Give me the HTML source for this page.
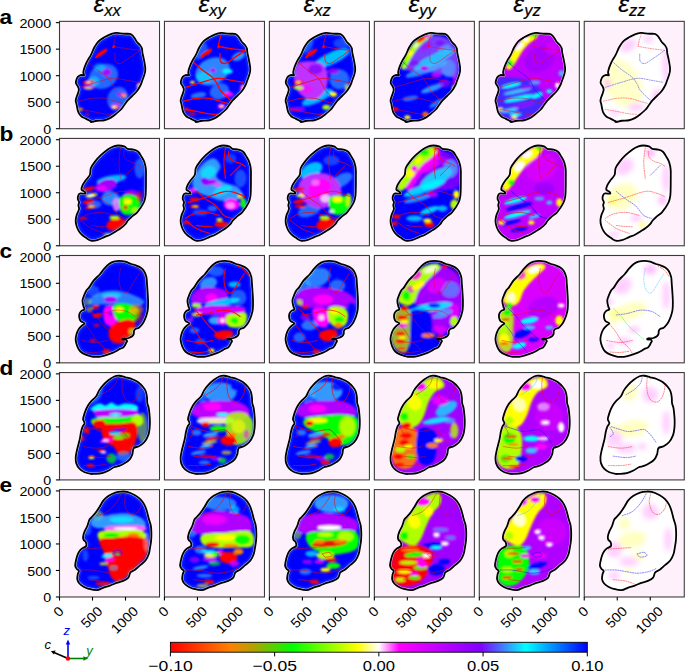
<!DOCTYPE html><html><head><meta charset="utf-8"><style>html,body{margin:0;padding:0;background:#fff;}svg{display:block;} text{font-family:"Liberation Sans",sans-serif;}</style></head><body>
<svg width="685" height="671" viewBox="0 0 685 671">
<defs>
<path id="ola" d="M56.50,11.60 C58.25,11.45 59.63,11.97 61.20,12.10 C62.77,12.23 64.35,12.32 65.90,12.40 C67.45,12.48 69.28,12.28 70.50,12.60 C71.72,12.92 72.37,13.48 73.20,14.30 C74.03,15.12 74.78,16.43 75.50,17.50 C76.22,18.57 76.67,19.68 77.50,20.70 C78.33,21.72 79.68,22.55 80.50,23.60 C81.32,24.65 81.98,25.65 82.40,27.00 C82.82,28.35 82.65,29.75 83.00,31.70 C83.35,33.65 84.05,36.37 84.50,38.70 C84.95,41.03 85.50,43.83 85.70,45.70 C85.90,47.57 85.90,48.43 85.70,49.90 C85.50,51.37 84.98,52.95 84.50,54.50 C84.02,56.05 83.38,57.63 82.80,59.20 C82.22,60.77 81.88,62.15 81.00,63.90 C80.12,65.65 78.85,67.95 77.50,69.70 C76.15,71.45 74.45,72.85 72.90,74.40 C71.35,75.95 69.57,77.45 68.20,79.00 C66.83,80.55 65.87,82.13 64.70,83.70 C63.53,85.27 62.57,86.93 61.20,88.40 C59.83,89.87 58.28,91.10 56.50,92.50 C54.72,93.90 52.45,95.73 50.50,96.80 C48.55,97.87 46.97,98.47 44.80,98.90 C42.63,99.33 39.55,99.12 37.50,99.40 C35.45,99.68 33.70,100.60 32.50,100.60 C31.30,100.60 31.35,99.95 30.30,99.40 C29.25,98.85 27.58,98.00 26.20,97.30 C24.82,96.60 23.22,96.25 22.00,95.20 C20.78,94.15 19.60,92.38 18.90,91.00 C18.20,89.62 18.12,88.28 17.80,86.90 C17.48,85.52 17.27,83.93 17.00,82.70 C16.73,81.47 16.23,80.55 16.20,79.50 C16.17,78.45 16.45,77.57 16.80,76.40 C17.15,75.23 17.87,73.88 18.30,72.50 C18.73,71.12 19.40,69.35 19.40,68.10 C19.40,66.85 18.80,66.05 18.30,65.00 C17.80,63.95 16.65,62.85 16.40,61.80 C16.15,60.75 16.48,59.73 16.80,58.70 C17.12,57.67 17.57,56.43 18.30,55.60 C19.03,54.77 20.15,53.97 21.20,53.70 C22.25,53.43 24.17,54.37 24.60,54.00 C25.03,53.63 23.85,52.45 23.80,51.50 C23.75,50.55 23.90,49.72 24.30,48.30 C24.70,46.88 25.45,44.75 26.20,43.00 C26.95,41.25 27.93,39.37 28.80,37.80 C29.67,36.23 30.38,35.58 31.40,33.60 C32.42,31.62 33.63,28.17 34.90,25.90 C36.17,23.63 37.35,21.65 39.00,20.00 C40.65,18.35 42.85,17.17 44.80,16.00 C46.75,14.83 48.75,13.73 50.70,13.00 C52.65,12.27 54.75,11.75 56.50,11.60 Z"/>
<clipPath id="clipa"><use href="#ola"/></clipPath>
<path id="olb" d="M58.90,7.10 C60.65,7.10 63.15,7.45 64.70,8.00 C66.25,8.55 66.65,9.87 68.20,10.40 C69.75,10.93 72.25,10.72 74.00,11.20 C75.75,11.68 77.33,12.08 78.70,13.30 C80.07,14.52 81.15,16.72 82.20,18.50 C83.25,20.28 84.30,21.92 85.00,24.00 C85.70,26.08 86.15,28.32 86.40,31.00 C86.65,33.68 86.50,36.82 86.50,40.10 C86.50,43.38 86.48,47.75 86.40,50.70 C86.32,53.65 86.32,55.65 86.00,57.80 C85.68,59.95 85.33,61.65 84.50,63.60 C83.67,65.55 82.17,67.75 81.00,69.50 C79.83,71.25 79.05,72.55 77.50,74.10 C75.95,75.65 73.25,77.43 71.70,78.80 C70.15,80.17 69.17,81.13 68.20,82.30 C67.23,83.47 67.07,84.53 65.90,85.80 C64.73,87.07 62.77,88.73 61.20,89.90 C59.63,91.07 58.25,91.73 56.50,92.80 C54.75,93.87 52.65,95.32 50.70,96.30 C48.75,97.28 46.97,97.78 44.80,98.70 C42.63,99.62 39.93,101.20 37.70,101.80 C35.47,102.40 33.32,102.73 31.40,102.30 C29.48,101.87 27.77,100.25 26.20,99.20 C24.63,98.15 23.22,97.22 22.00,96.00 C20.78,94.78 19.77,93.45 18.90,91.90 C18.03,90.35 17.25,88.43 16.80,86.70 C16.35,84.97 16.12,83.25 16.20,81.50 C16.28,79.75 16.85,77.68 17.30,76.20 C17.75,74.72 18.52,73.63 18.90,72.60 C19.28,71.57 19.60,70.95 19.60,70.00 C19.60,69.05 18.90,67.95 18.90,66.90 C18.90,65.85 19.70,64.75 19.60,63.70 C19.50,62.65 18.42,61.78 18.30,60.60 C18.18,59.42 18.47,57.53 18.90,56.60 C19.33,55.67 19.75,55.23 20.90,55.00 C22.05,54.77 25.10,55.48 25.80,55.20 C26.50,54.92 25.73,53.97 25.10,53.30 C24.47,52.63 22.35,52.25 22.00,51.20 C21.65,50.15 22.30,48.57 23.00,47.00 C23.70,45.43 24.98,43.53 26.20,41.80 C27.42,40.07 29.43,38.63 30.30,36.60 C31.17,34.57 30.53,31.83 31.40,29.60 C32.27,27.37 33.85,25.33 35.50,23.20 C37.15,21.07 39.17,18.83 41.30,16.80 C43.43,14.77 46.15,12.47 48.30,11.00 C50.45,9.53 52.43,8.65 54.20,8.00 C55.97,7.35 57.15,7.10 58.90,7.10 Z"/>
<clipPath id="clipb"><use href="#olb"/></clipPath>
<path id="olc" d="M60.00,5.40 C61.95,5.40 63.95,5.68 65.90,6.20 C67.85,6.72 69.95,7.88 71.70,8.50 C73.45,9.12 74.85,9.32 76.40,9.90 C77.95,10.48 79.65,11.07 81.00,12.00 C82.35,12.93 83.52,13.93 84.50,15.50 C85.48,17.07 86.40,19.25 86.90,21.40 C87.40,23.55 87.30,25.88 87.50,28.40 C87.70,30.92 87.92,33.58 88.10,36.50 C88.28,39.42 88.57,42.95 88.60,45.90 C88.63,48.85 88.58,51.85 88.30,54.20 C88.02,56.55 87.53,58.07 86.90,60.00 C86.27,61.93 85.30,64.22 84.50,65.80 C83.70,67.38 82.95,68.43 82.10,69.50 C81.25,70.57 80.43,71.53 79.40,72.20 C78.37,72.87 76.72,72.95 75.90,73.50 C75.08,74.05 74.77,74.68 74.50,75.50 C74.23,76.32 74.60,77.53 74.30,78.40 C74.00,79.27 73.55,80.02 72.70,80.70 C71.85,81.38 70.23,82.13 69.20,82.50 C68.17,82.87 67.33,82.82 66.50,82.90 C65.67,82.98 64.25,82.82 64.20,83.00 C64.15,83.18 65.63,83.58 66.20,84.00 C66.77,84.42 67.55,84.92 67.60,85.50 C67.65,86.08 66.92,86.70 66.50,87.50 C66.08,88.30 65.62,89.50 65.10,90.30 C64.58,91.10 64.22,91.78 63.40,92.30 C62.58,92.82 61.18,92.92 60.20,93.40 C59.22,93.88 58.70,94.53 57.50,95.20 C56.30,95.87 55.08,96.57 53.00,97.40 C50.92,98.23 47.22,99.55 45.00,100.20 C42.78,100.85 41.62,101.12 39.70,101.30 C37.78,101.48 35.75,101.65 33.50,101.30 C31.25,100.95 28.30,100.08 26.20,99.20 C24.10,98.32 22.30,97.40 20.90,96.00 C19.50,94.60 18.58,92.70 17.80,90.80 C17.02,88.90 16.37,86.50 16.20,84.60 C16.03,82.70 16.35,81.15 16.80,79.40 C17.25,77.65 18.03,75.58 18.90,74.10 C19.77,72.62 20.97,71.53 22.00,70.50 C23.03,69.47 25.18,68.68 25.10,67.90 C25.02,67.12 22.37,66.67 21.50,65.80 C20.63,64.93 20.17,63.92 19.90,62.70 C19.63,61.48 19.55,59.72 19.90,58.50 C20.25,57.28 21.13,56.18 22.00,55.40 C22.87,54.62 24.75,54.50 25.10,53.80 C25.45,53.10 24.45,52.68 24.10,51.20 C23.75,49.72 22.83,46.98 23.00,44.90 C23.17,42.82 24.40,40.43 25.10,38.70 C25.80,36.97 26.43,35.63 27.20,34.50 C27.97,33.37 28.52,33.50 29.70,31.90 C30.88,30.30 32.55,27.05 34.30,24.90 C36.05,22.75 38.45,20.95 40.20,19.00 C41.95,17.05 43.25,14.95 44.80,13.20 C46.35,11.45 47.93,9.67 49.50,8.50 C51.07,7.33 52.45,6.72 54.20,6.20 C55.95,5.68 58.05,5.40 60.00,5.40 Z"/>
<clipPath id="clipc"><use href="#olc"/></clipPath>
<path id="old" d="M60.00,3.20 C61.77,3.37 63.75,4.12 65.90,4.70 C68.05,5.28 70.77,5.88 72.90,6.70 C75.03,7.52 76.95,8.35 78.70,9.60 C80.45,10.85 82.13,12.65 83.40,14.20 C84.67,15.75 85.62,17.13 86.30,18.90 C86.98,20.67 87.25,22.85 87.50,24.80 C87.75,26.75 87.52,28.85 87.80,30.60 C88.08,32.35 88.85,33.57 89.20,35.30 C89.55,37.03 89.70,38.88 89.90,41.00 C90.10,43.12 90.35,45.67 90.40,48.00 C90.45,50.33 90.47,52.58 90.20,55.00 C89.93,57.42 89.72,60.05 88.80,62.50 C87.88,64.95 86.27,67.83 84.70,69.70 C83.13,71.57 81.15,72.72 79.40,73.70 C77.65,74.68 75.28,74.28 74.20,75.60 C73.12,76.92 73.57,79.73 72.90,81.60 C72.23,83.47 71.52,85.27 70.20,86.80 C68.88,88.33 66.75,89.70 65.00,90.80 C63.25,91.90 61.45,92.75 59.70,93.40 C57.95,94.05 56.25,93.93 54.50,94.70 C52.75,95.47 51.18,97.02 49.20,98.00 C47.22,98.98 45.00,100.05 42.60,100.60 C40.20,101.15 36.67,101.18 34.80,101.30 C32.93,101.42 33.02,101.57 31.40,101.30 C29.78,101.03 27.02,100.58 25.10,99.70 C23.18,98.82 21.28,97.48 19.90,96.00 C18.52,94.52 17.42,92.70 16.80,90.80 C16.18,88.90 16.12,86.68 16.20,84.60 C16.28,82.52 16.85,80.40 17.30,78.30 C17.75,76.20 18.38,74.08 18.90,72.00 C19.42,69.92 19.97,67.88 20.40,65.80 C20.83,63.72 21.07,61.42 21.50,59.50 C21.93,57.58 22.40,55.77 23.00,54.30 C23.60,52.83 25.00,51.92 25.10,50.70 C25.20,49.48 23.77,48.13 23.60,47.00 C23.43,45.87 23.67,45.47 24.10,43.90 C24.53,42.33 25.42,39.52 26.20,37.60 C26.98,35.68 27.83,33.95 28.80,32.40 C29.77,30.85 30.68,29.77 32.00,28.30 C33.32,26.83 35.43,25.35 36.70,23.60 C37.97,21.85 38.43,19.65 39.60,17.80 C40.77,15.95 42.05,14.27 43.70,12.50 C45.35,10.73 47.57,8.67 49.50,7.20 C51.43,5.73 53.55,4.37 55.30,3.70 C57.05,3.03 58.23,3.03 60.00,3.20 Z"/>
<clipPath id="clipd"><use href="#old"/></clipPath>
<path id="ole" d="M62.40,1.90 C64.37,1.80 65.42,1.68 67.60,2.30 C69.78,2.92 73.30,4.40 75.50,5.60 C77.70,6.80 79.27,7.97 80.80,9.50 C82.33,11.03 83.62,12.83 84.70,14.80 C85.78,16.77 86.53,18.90 87.30,21.30 C88.07,23.70 88.63,26.78 89.30,29.20 C89.97,31.62 90.87,33.38 91.30,35.80 C91.73,38.22 91.85,41.13 91.90,43.70 C91.95,46.27 91.82,48.85 91.60,51.20 C91.38,53.55 90.98,55.60 90.60,57.80 C90.22,60.00 90.07,62.22 89.30,64.40 C88.53,66.58 87.42,69.05 86.00,70.90 C84.58,72.75 82.55,73.97 80.80,75.50 C79.05,77.03 77.15,78.88 75.50,80.10 C73.85,81.32 72.00,81.48 70.90,82.80 C69.80,84.12 70.10,86.58 68.90,88.00 C67.70,89.42 65.67,90.42 63.70,91.30 C61.73,92.18 59.30,92.53 57.10,93.30 C54.90,94.07 52.68,95.13 50.50,95.90 C48.32,96.67 46.18,97.13 44.00,97.90 C41.82,98.67 39.85,100.28 37.40,100.50 C34.95,100.72 31.52,99.77 29.30,99.20 C27.08,98.63 25.67,97.98 24.10,97.10 C22.53,96.22 20.95,95.12 19.90,93.90 C18.85,92.68 18.07,91.37 17.80,89.80 C17.53,88.23 18.03,85.90 18.30,84.50 C18.57,83.10 19.57,82.27 19.40,81.40 C19.23,80.53 17.92,80.17 17.30,79.30 C16.68,78.43 15.88,77.42 15.70,76.20 C15.52,74.98 15.85,73.73 16.20,72.00 C16.55,70.27 17.18,67.53 17.80,65.80 C18.42,64.07 19.03,62.82 19.90,61.60 C20.77,60.38 21.87,59.37 23.00,58.50 C24.13,57.63 26.17,57.45 26.70,56.40 C27.23,55.35 26.63,53.25 26.20,52.20 C25.77,51.15 24.53,50.97 24.10,50.10 C23.67,49.23 23.43,48.38 23.60,47.00 C23.77,45.62 24.42,43.53 25.10,41.80 C25.78,40.07 26.92,38.52 27.70,36.60 C28.48,34.68 29.17,31.70 29.80,30.30 C30.43,28.90 30.57,29.25 31.50,28.20 C32.43,27.15 33.98,25.80 35.40,24.00 C36.82,22.20 38.57,19.60 40.00,17.40 C41.43,15.20 42.47,12.67 44.00,10.80 C45.53,8.93 47.23,7.52 49.20,6.20 C51.17,4.88 53.60,3.62 55.80,2.90 C58.00,2.18 60.43,2.00 62.40,1.90 Z"/>
<clipPath id="clipe"><use href="#ole"/></clipPath>
<filter id="bl0" x="-10%" y="-10%" width="120%" height="120%"><feGaussianBlur stdDeviation="0.6"/></filter>
<filter id="bl1" x="-10%" y="-10%" width="120%" height="120%"><feGaussianBlur stdDeviation="0.9"/></filter>
<filter id="bl2" x="-10%" y="-10%" width="120%" height="120%"><feGaussianBlur stdDeviation="2.5"/></filter>
<linearGradient id="cmap" x1="0" y1="0" x2="1" y2="0"><stop offset="0" stop-color="#ff0000"/><stop offset="0.143" stop-color="#ff8000"/><stop offset="0.198" stop-color="#b4a000"/><stop offset="0.293" stop-color="#00ff00"/><stop offset="0.449" stop-color="#ffff00"/><stop offset="0.5" stop-color="#ffffff"/><stop offset="0.548" stop-color="#ff00ff"/><stop offset="0.745" stop-color="#8000ff"/><stop offset="0.852" stop-color="#00ffff"/><stop offset="1" stop-color="#0000ff"/></linearGradient>
</defs>
<rect width="685" height="671" fill="#fff"/>
<g transform="translate(59.50,21.35)">
<rect x="0.5" y="0.5" width="98" height="106.3" fill="#fff1fc"/>
<g clip-path="url(#clipa)">
<rect x="0" y="0" width="100" height="108" fill="#0000ff"/>
<g filter="url(#bl1)">
<ellipse cx="44.0" cy="55.0" rx="15.0" ry="12.0" transform="rotate(-25 44.0 55.0)" fill="#40c0ff" fill-opacity="0.55"/>
<ellipse cx="47.0" cy="51.0" rx="5.0" ry="4.0" transform="rotate(0 47.0 51.0)" fill="#b000ff" fill-opacity="0.90"/>
<ellipse cx="34.0" cy="60.0" rx="6.0" ry="5.0" transform="rotate(0 34.0 60.0)" fill="#00ffff" fill-opacity="0.45"/>
<ellipse cx="40.0" cy="46.0" rx="6.0" ry="4.0" transform="rotate(0 40.0 46.0)" fill="#00ffff" fill-opacity="0.40"/>
<ellipse cx="29.0" cy="61.0" rx="6.0" ry="2.0" transform="rotate(-5 29.0 61.0)" fill="#ff0000" fill-opacity="1.00"/>
<ellipse cx="29.0" cy="61.0" rx="2.5" ry="1.0" transform="rotate(0 29.0 61.0)" fill="#ffffff" fill-opacity="1.00"/>
<ellipse cx="29.0" cy="66.0" rx="6.0" ry="2.5" transform="rotate(0 29.0 66.0)" fill="#ff00ff" fill-opacity="0.80"/>
<ellipse cx="29.0" cy="67.0" rx="4.0" ry="1.0" transform="rotate(0 29.0 67.0)" fill="#b0ff00" fill-opacity="1.00"/>
<ellipse cx="58.0" cy="77.0" rx="10.0" ry="12.0" transform="rotate(25 58.0 77.0)" fill="#40c0ff" fill-opacity="0.50"/>
<ellipse cx="64.0" cy="74.0" rx="3.0" ry="2.0" transform="rotate(0 64.0 74.0)" fill="#ffff00" fill-opacity="1.00"/>
<ellipse cx="62.0" cy="73.0" rx="5.0" ry="3.0" transform="rotate(0 62.0 73.0)" fill="#ff00ff" fill-opacity="0.50"/>
<ellipse cx="56.0" cy="85.0" rx="5.0" ry="3.0" transform="rotate(0 56.0 85.0)" fill="#ff00ff" fill-opacity="0.80"/>
<ellipse cx="55.0" cy="86.0" rx="3.0" ry="1.5" transform="rotate(0 55.0 86.0)" fill="#ffff00" fill-opacity="1.00"/>
<ellipse cx="58.0" cy="87.0" rx="2.0" ry="1.2" transform="rotate(0 58.0 87.0)" fill="#ff0000" fill-opacity="1.00"/>
<ellipse cx="80.0" cy="66.0" rx="3.0" ry="5.0" transform="rotate(0 80.0 66.0)" fill="#ff00ff" fill-opacity="0.70"/>
<ellipse cx="79.0" cy="64.0" rx="1.5" ry="1.5" transform="rotate(0 79.0 64.0)" fill="#ffff00" fill-opacity="1.00"/>
<ellipse cx="21.0" cy="88.0" rx="3.0" ry="1.5" transform="rotate(0 21.0 88.0)" fill="#ff0000" fill-opacity="1.00"/>
<ellipse cx="21.0" cy="88.0" rx="1.5" ry="1.0" transform="rotate(0 21.0 88.0)" fill="#ffff00" fill-opacity="1.00"/>
<ellipse cx="28.0" cy="93.0" rx="2.0" ry="1.0" transform="rotate(0 28.0 93.0)" fill="#ff0000" fill-opacity="1.00"/>
<path d="M36.00,36.00 C36.00,35.33 38.17,32.42 40.00,31.00 C41.83,29.58 46.17,27.33 47.00,27.50 C47.83,27.67 46.17,30.75 45.00,32.00 C43.83,33.25 41.50,34.33 40.00,35.00 C38.50,35.67 36.00,36.67 36.00,36.00 Z" fill="#ff0000" fill-opacity="1.00"/>
</g>
<use href="#ola" fill="none" stroke="#40c0ff" stroke-opacity="0.22" stroke-width="6" filter="url(#bl1)"/>
<path d="M35.50,36.50 C35.70,36.05 38.25,33.15 39.00,32.50 C39.75,31.85 42.15,30.52 43.00,30.00 C43.85,29.48 47.20,27.20 47.50,27.30 C47.80,27.40 46.65,30.38 46.00,31.00 C45.35,31.62 41.90,32.90 41.00,33.50 C40.10,34.10 37.55,36.70 37.00,37.00 C36.45,37.30 35.30,36.95 35.50,36.50 Z" fill="#ff0000"/>
<path d="M52.50,26.50 C52.50,26.15 53.65,23.60 54.00,23.50 C54.35,23.40 56.00,25.15 56.00,25.50 C56.00,25.85 54.35,26.90 54.00,27.00 C53.65,27.10 52.50,26.85 52.50,26.50 Z" fill="#ff0000"/>
<path d="M57.00,13.00 C56.67,14.00 55.52,17.00 55.00,19.00 C54.48,21.00 54.08,24.00 53.90,25.00" fill="none" stroke="#ff0000" stroke-width="0.60" stroke-opacity="0.80" stroke-linecap="round"/>
<path d="M53.90,25.00 C55.75,25.33 60.58,26.33 65.00,27.00 C69.42,27.67 77.83,28.67 80.40,29.00" fill="none" stroke="#ff0000" stroke-width="0.60" stroke-opacity="0.80" stroke-linecap="round"/>
<path d="M80.40,29.00 C79.50,29.67 76.90,31.67 75.00,33.00 C73.10,34.33 71.33,35.50 69.00,37.00 C66.67,38.50 63.17,41.50 61.00,42.00 C58.83,42.50 56.92,41.67 56.00,40.00 C55.08,38.33 55.58,33.33 55.50,32.00" fill="none" stroke="#ff0000" stroke-width="0.60" stroke-opacity="0.80" stroke-linecap="round"/>
<path d="M28.00,40.00 C29.50,41.33 33.67,45.33 37.00,48.00 C40.33,50.67 45.33,53.50 48.00,56.00 C50.67,58.50 51.67,60.83 53.00,63.00 C54.33,65.17 54.17,66.67 56.00,69.00 C57.83,71.33 62.08,75.17 64.00,77.00 C65.92,78.83 66.92,79.50 67.50,80.00" fill="none" stroke="#ff0000" stroke-width="0.60" stroke-opacity="0.80" stroke-linecap="round"/>
<path d="M21.00,66.00 C23.67,65.17 31.67,62.50 37.00,61.00 C42.33,59.50 47.92,57.33 53.00,57.00 C58.08,56.67 63.17,58.33 67.50,59.00 C71.83,59.67 77.08,60.67 79.00,61.00" fill="none" stroke="#ff0000" stroke-width="0.60" stroke-opacity="0.80" stroke-linecap="round"/>
<path d="M19.00,80.00 C21.17,79.50 27.67,77.50 32.00,77.00 C36.33,76.50 41.00,76.50 45.00,77.00 C49.00,77.50 53.00,79.17 56.00,80.00 C59.00,80.83 61.83,81.67 63.00,82.00" fill="none" stroke="#ff0000" stroke-width="0.60" stroke-opacity="0.80" stroke-linecap="round"/>
<path d="M21.00,88.00 C22.83,88.33 28.00,89.25 32.00,90.00 C36.00,90.75 41.50,92.00 45.00,92.50 C48.50,93.00 51.67,92.92 53.00,93.00" fill="none" stroke="#ff0000" stroke-width="0.60" stroke-opacity="0.80" stroke-linecap="round"/>
</g>
<use href="#ola" fill="none" stroke="#fff" stroke-opacity="0.7" stroke-width="2.8"/>
<use href="#ola" fill="none" stroke="#000" stroke-width="1.8"/>
<ellipse cx="31.6" cy="100.3" rx="1.3" ry="1.2" fill="#000"/>
<rect x="0" y="0" width="100.00" height="107.35" fill="none" stroke="#3a3a3a" stroke-width="1.1"/>
</g>
<g transform="translate(164.45,21.35)">
<rect x="0.5" y="0.5" width="98" height="106.3" fill="#fff1fc"/>
<g clip-path="url(#clipa)">
<rect x="0" y="0" width="100" height="108" fill="#0000ff"/>
<g filter="url(#bl1)">
<ellipse cx="48.0" cy="50.0" rx="18.0" ry="13.0" transform="rotate(-25 48.0 50.0)" fill="#40c0ff" fill-opacity="0.70"/>
<ellipse cx="40.0" cy="56.0" rx="8.0" ry="6.0" transform="rotate(0 40.0 56.0)" fill="#00ffff" fill-opacity="0.50"/>
<ellipse cx="48.5" cy="49.0" rx="3.0" ry="2.5" transform="rotate(0 48.5 49.0)" fill="#b000ff" fill-opacity="1.00"/>
<ellipse cx="63.0" cy="50.0" rx="5.0" ry="2.5" transform="rotate(0 63.0 50.0)" fill="#00ffff" fill-opacity="1.00"/>
<ellipse cx="74.0" cy="35.0" rx="7.0" ry="4.0" transform="rotate(-25 74.0 35.0)" fill="#40c0ff" fill-opacity="0.75"/>
<ellipse cx="55.0" cy="70.0" rx="10.0" ry="8.0" transform="rotate(-20 55.0 70.0)" fill="#40c0ff" fill-opacity="0.55"/>
<ellipse cx="34.0" cy="74.0" rx="8.0" ry="3.0" transform="rotate(-10 34.0 74.0)" fill="#40c0ff" fill-opacity="0.60"/>
<ellipse cx="37.0" cy="30.0" rx="5.0" ry="9.0" transform="rotate(30 37.0 30.0)" fill="#40c0ff" fill-opacity="0.40"/>
<ellipse cx="64.0" cy="73.0" rx="5.0" ry="2.5" transform="rotate(0 64.0 73.0)" fill="#ff00ff" fill-opacity="1.00"/>
<ellipse cx="57.0" cy="85.0" rx="4.0" ry="2.5" transform="rotate(0 57.0 85.0)" fill="#ff00ff" fill-opacity="1.00"/>
<ellipse cx="57.0" cy="85.0" rx="1.8" ry="1.2" transform="rotate(0 57.0 85.0)" fill="#ffff00" fill-opacity="1.00"/>
<ellipse cx="78.0" cy="67.0" rx="2.5" ry="4.0" transform="rotate(0 78.0 67.0)" fill="#ff00ff" fill-opacity="1.00"/>
<ellipse cx="79.0" cy="66.0" rx="1.2" ry="1.5" transform="rotate(0 79.0 66.0)" fill="#ffff00" fill-opacity="1.00"/>
<ellipse cx="28.0" cy="61.0" rx="2.5" ry="1.5" transform="rotate(0 28.0 61.0)" fill="#ffff00" fill-opacity="1.00"/>
<ellipse cx="22.0" cy="88.0" rx="3.0" ry="1.5" transform="rotate(0 22.0 88.0)" fill="#ff0000" fill-opacity="1.00"/>
<ellipse cx="28.0" cy="92.5" rx="4.0" ry="1.0" transform="rotate(0 28.0 92.5)" fill="#ff0000" fill-opacity="1.00"/>
<path d="M36.00,35.00 C36.00,34.40 38.17,32.33 40.00,31.00 C41.83,29.67 46.17,26.83 47.00,27.00 C47.83,27.17 46.17,30.73 45.00,32.00 C43.83,33.27 41.50,34.10 40.00,34.60 C38.50,35.10 36.00,35.60 36.00,35.00 Z" fill="#ff0000" fill-opacity="1.00"/>
</g>
<use href="#ola" fill="none" stroke="#40c0ff" stroke-opacity="0.22" stroke-width="6" filter="url(#bl1)"/>
<path d="M35.50,36.50 C35.70,36.05 38.25,33.15 39.00,32.50 C39.75,31.85 42.15,30.52 43.00,30.00 C43.85,29.48 47.20,27.20 47.50,27.30 C47.80,27.40 46.65,30.38 46.00,31.00 C45.35,31.62 41.90,32.90 41.00,33.50 C40.10,34.10 37.55,36.70 37.00,37.00 C36.45,37.30 35.30,36.95 35.50,36.50 Z" fill="#ff0000"/>
<path d="M52.50,26.50 C52.50,26.15 53.65,23.60 54.00,23.50 C54.35,23.40 56.00,25.15 56.00,25.50 C56.00,25.85 54.35,26.90 54.00,27.00 C53.65,27.10 52.50,26.85 52.50,26.50 Z" fill="#ff0000"/>
<path d="M57.00,13.00 C56.67,14.00 55.52,17.00 55.00,19.00 C54.48,21.00 54.08,24.00 53.90,25.00" fill="none" stroke="#ff0000" stroke-width="1.30" stroke-opacity="1.00" stroke-linecap="round"/>
<path d="M53.90,25.00 C55.75,25.33 60.58,26.33 65.00,27.00 C69.42,27.67 77.83,28.67 80.40,29.00" fill="none" stroke="#ff0000" stroke-width="1.30" stroke-opacity="1.00" stroke-linecap="round"/>
<path d="M80.40,29.00 C79.50,29.67 76.90,31.67 75.00,33.00 C73.10,34.33 71.33,35.50 69.00,37.00 C66.67,38.50 63.17,41.50 61.00,42.00 C58.83,42.50 56.92,41.67 56.00,40.00 C55.08,38.33 55.58,33.33 55.50,32.00" fill="none" stroke="#ff0000" stroke-width="1.30" stroke-opacity="1.00" stroke-linecap="round"/>
<path d="M28.00,40.00 C29.50,41.33 33.67,45.33 37.00,48.00 C40.33,50.67 45.33,53.50 48.00,56.00 C50.67,58.50 51.67,60.83 53.00,63.00 C54.33,65.17 54.17,66.67 56.00,69.00 C57.83,71.33 62.08,75.17 64.00,77.00 C65.92,78.83 66.92,79.50 67.50,80.00" fill="none" stroke="#ff0000" stroke-width="1.30" stroke-opacity="1.00" stroke-linecap="round"/>
<path d="M21.00,66.00 C23.67,65.17 31.67,62.50 37.00,61.00 C42.33,59.50 47.92,57.33 53.00,57.00 C58.08,56.67 63.17,58.33 67.50,59.00 C71.83,59.67 77.08,60.67 79.00,61.00" fill="none" stroke="#ff0000" stroke-width="1.30" stroke-opacity="1.00" stroke-linecap="round"/>
<path d="M19.00,80.00 C21.17,79.50 27.67,77.50 32.00,77.00 C36.33,76.50 41.00,76.50 45.00,77.00 C49.00,77.50 53.00,79.17 56.00,80.00 C59.00,80.83 61.83,81.67 63.00,82.00" fill="none" stroke="#ff0000" stroke-width="1.30" stroke-opacity="1.00" stroke-linecap="round"/>
<path d="M21.00,88.00 C22.83,88.33 28.00,89.25 32.00,90.00 C36.00,90.75 41.50,92.00 45.00,92.50 C48.50,93.00 51.67,92.92 53.00,93.00" fill="none" stroke="#ff0000" stroke-width="1.30" stroke-opacity="1.00" stroke-linecap="round"/>
</g>
<use href="#ola" fill="none" stroke="#fff" stroke-opacity="0.7" stroke-width="2.8"/>
<use href="#ola" fill="none" stroke="#000" stroke-width="1.8"/>
<ellipse cx="31.6" cy="100.3" rx="1.3" ry="1.2" fill="#000"/>
<rect x="0" y="0" width="100.00" height="107.35" fill="none" stroke="#3a3a3a" stroke-width="1.1"/>
</g>
<g transform="translate(269.40,21.35)">
<rect x="0.5" y="0.5" width="98" height="106.3" fill="#fff1fc"/>
<g clip-path="url(#clipa)">
<rect x="0" y="0" width="100" height="108" fill="#0000ff"/>
<g filter="url(#bl1)">
<ellipse cx="62.0" cy="37.0" rx="20.0" ry="6.0" transform="rotate(-25 62.0 37.0)" fill="#00ffff" fill-opacity="0.75"/>
<ellipse cx="70.0" cy="58.0" rx="10.0" ry="10.0" transform="rotate(0 70.0 58.0)" fill="#40c0ff" fill-opacity="0.55"/>
<ellipse cx="48.0" cy="76.0" rx="17.0" ry="5.0" transform="rotate(-25 48.0 76.0)" fill="#00ffff" fill-opacity="0.70"/>
<ellipse cx="38.0" cy="24.0" rx="5.0" ry="8.0" transform="rotate(30 38.0 24.0)" fill="#40c0ff" fill-opacity="0.40"/>
<ellipse cx="72.0" cy="22.0" rx="8.0" ry="5.0" transform="rotate(0 72.0 22.0)" fill="#40c0ff" fill-opacity="0.35"/>
<path d="M27.00,44.00 C29.17,40.67 33.83,40.33 38.00,40.00 C42.17,39.67 48.67,40.00 52.00,42.00 C55.33,44.00 57.17,48.00 58.00,52.00 C58.83,56.00 58.33,62.00 57.00,66.00 C55.67,70.00 52.83,74.00 50.00,76.00 C47.17,78.00 43.33,78.67 40.00,78.00 C36.67,77.33 32.50,75.00 30.00,72.00 C27.50,69.00 25.50,64.67 25.00,60.00 C24.50,55.33 24.83,47.33 27.00,44.00 Z" fill="#c030ff" fill-opacity="1.00"/>
<ellipse cx="46.0" cy="48.0" rx="7.0" ry="5.0" transform="rotate(0 46.0 48.0)" fill="#8000ff" fill-opacity="0.80"/>
<ellipse cx="64.0" cy="50.0" rx="6.0" ry="3.0" transform="rotate(0 64.0 50.0)" fill="#b000ff" fill-opacity="0.80"/>
<ellipse cx="36.0" cy="68.0" rx="7.0" ry="4.0" transform="rotate(0 36.0 68.0)" fill="#ff00ff" fill-opacity="0.60"/>
<ellipse cx="64.0" cy="73.0" rx="3.5" ry="2.5" transform="rotate(0 64.0 73.0)" fill="#ffff00" fill-opacity="1.00"/>
<ellipse cx="57.0" cy="86.0" rx="4.0" ry="2.5" transform="rotate(0 57.0 86.0)" fill="#b0ff00" fill-opacity="1.00"/>
<ellipse cx="29.0" cy="61.0" rx="5.0" ry="2.0" transform="rotate(-5 29.0 61.0)" fill="#ff0000" fill-opacity="1.00"/>
<ellipse cx="29.0" cy="61.0" rx="2.5" ry="1.0" transform="rotate(0 29.0 61.0)" fill="#ffff00" fill-opacity="1.00"/>
<ellipse cx="29.0" cy="66.5" rx="5.0" ry="1.8" transform="rotate(0 29.0 66.5)" fill="#b0ff00" fill-opacity="1.00"/>
<ellipse cx="28.0" cy="88.0" rx="8.0" ry="2.5" transform="rotate(0 28.0 88.0)" fill="#b000ff" fill-opacity="0.80"/>
<ellipse cx="78.0" cy="67.0" rx="2.5" ry="4.0" transform="rotate(0 78.0 67.0)" fill="#ffff00" fill-opacity="0.70"/>
<ellipse cx="22.0" cy="88.0" rx="2.0" ry="1.2" transform="rotate(0 22.0 88.0)" fill="#ff0000" fill-opacity="1.00"/>
<path d="M36.00,36.00 C36.00,35.33 38.17,32.42 40.00,31.00 C41.83,29.58 46.17,27.33 47.00,27.50 C47.83,27.67 46.17,30.75 45.00,32.00 C43.83,33.25 41.50,34.33 40.00,35.00 C38.50,35.67 36.00,36.67 36.00,36.00 Z" fill="#ff0000" fill-opacity="1.00"/>
</g>
<use href="#ola" fill="none" stroke="#40c0ff" stroke-opacity="0.22" stroke-width="6" filter="url(#bl1)"/>
<path d="M35.50,36.50 C35.70,36.05 38.25,33.15 39.00,32.50 C39.75,31.85 42.15,30.52 43.00,30.00 C43.85,29.48 47.20,27.20 47.50,27.30 C47.80,27.40 46.65,30.38 46.00,31.00 C45.35,31.62 41.90,32.90 41.00,33.50 C40.10,34.10 37.55,36.70 37.00,37.00 C36.45,37.30 35.30,36.95 35.50,36.50 Z" fill="#ff0000"/>
<path d="M52.50,26.50 C52.50,26.15 53.65,23.60 54.00,23.50 C54.35,23.40 56.00,25.15 56.00,25.50 C56.00,25.85 54.35,26.90 54.00,27.00 C53.65,27.10 52.50,26.85 52.50,26.50 Z" fill="#ff0000"/>
<path d="M57.00,13.00 C56.67,14.00 55.52,17.00 55.00,19.00 C54.48,21.00 54.08,24.00 53.90,25.00" fill="none" stroke="#ff0000" stroke-width="0.80" stroke-opacity="0.90" stroke-linecap="round"/>
<path d="M53.90,25.00 C55.75,25.33 60.58,26.33 65.00,27.00 C69.42,27.67 77.83,28.67 80.40,29.00" fill="none" stroke="#ff0000" stroke-width="0.80" stroke-opacity="0.90" stroke-linecap="round"/>
<path d="M80.40,29.00 C79.50,29.67 76.90,31.67 75.00,33.00 C73.10,34.33 71.33,35.50 69.00,37.00 C66.67,38.50 63.17,41.50 61.00,42.00 C58.83,42.50 56.92,41.67 56.00,40.00 C55.08,38.33 55.58,33.33 55.50,32.00" fill="none" stroke="#ff0000" stroke-width="0.80" stroke-opacity="0.90" stroke-linecap="round"/>
<path d="M28.00,40.00 C29.50,41.33 33.67,45.33 37.00,48.00 C40.33,50.67 45.33,53.50 48.00,56.00 C50.67,58.50 51.67,60.83 53.00,63.00 C54.33,65.17 54.17,66.67 56.00,69.00 C57.83,71.33 62.08,75.17 64.00,77.00 C65.92,78.83 66.92,79.50 67.50,80.00" fill="none" stroke="#ff0000" stroke-width="0.80" stroke-opacity="0.90" stroke-linecap="round"/>
<path d="M21.00,66.00 C23.67,65.17 31.67,62.50 37.00,61.00 C42.33,59.50 47.92,57.33 53.00,57.00 C58.08,56.67 63.17,58.33 67.50,59.00 C71.83,59.67 77.08,60.67 79.00,61.00" fill="none" stroke="#ff0000" stroke-width="0.80" stroke-opacity="0.90" stroke-linecap="round"/>
<path d="M19.00,80.00 C21.17,79.50 27.67,77.50 32.00,77.00 C36.33,76.50 41.00,76.50 45.00,77.00 C49.00,77.50 53.00,79.17 56.00,80.00 C59.00,80.83 61.83,81.67 63.00,82.00" fill="none" stroke="#ff0000" stroke-width="0.80" stroke-opacity="0.90" stroke-linecap="round"/>
<path d="M21.00,88.00 C22.83,88.33 28.00,89.25 32.00,90.00 C36.00,90.75 41.50,92.00 45.00,92.50 C48.50,93.00 51.67,92.92 53.00,93.00" fill="none" stroke="#ff0000" stroke-width="0.80" stroke-opacity="0.90" stroke-linecap="round"/>
</g>
<use href="#ola" fill="none" stroke="#fff" stroke-opacity="0.7" stroke-width="2.8"/>
<use href="#ola" fill="none" stroke="#000" stroke-width="1.8"/>
<ellipse cx="31.6" cy="100.3" rx="1.3" ry="1.2" fill="#000"/>
<rect x="0" y="0" width="100.00" height="107.35" fill="none" stroke="#3a3a3a" stroke-width="1.1"/>
</g>
<g transform="translate(374.35,21.35)">
<rect x="0.5" y="0.5" width="98" height="106.3" fill="#fff1fc"/>
<g clip-path="url(#clipa)">
<rect x="0" y="0" width="100" height="108" fill="#0000ff"/>
<g filter="url(#bl1)">
<path d="M34.00,38.00 C36.33,34.00 40.33,27.83 44.00,24.00 C47.67,20.17 51.67,16.33 56.00,15.00 C60.33,13.67 66.00,14.33 70.00,16.00 C74.00,17.67 77.67,21.00 80.00,25.00 C82.33,29.00 83.67,34.83 84.00,40.00 C84.33,45.17 85.33,54.00 82.00,56.00 C78.67,58.00 70.33,53.00 64.00,52.00 C57.67,51.00 49.67,50.67 44.00,50.00 C38.33,49.33 31.67,50.00 30.00,48.00 C28.33,46.00 31.67,42.00 34.00,38.00 Z" fill="#8040ff" fill-opacity="0.95"/>
<ellipse cx="60.0" cy="38.0" rx="22.0" ry="5.0" transform="rotate(-25 60.0 38.0)" fill="#00ffff" fill-opacity="0.65"/>
<ellipse cx="70.0" cy="28.0" rx="7.0" ry="4.0" transform="rotate(-30 70.0 28.0)" fill="#40c0ff" fill-opacity="0.60"/>
<ellipse cx="52.0" cy="25.0" rx="6.0" ry="3.0" transform="rotate(-30 52.0 25.0)" fill="#b000ff" fill-opacity="0.70"/>
<ellipse cx="74.0" cy="47.0" rx="7.0" ry="9.0" transform="rotate(0 74.0 47.0)" fill="#40c0ff" fill-opacity="0.55"/>
<ellipse cx="66.0" cy="22.0" rx="5.0" ry="3.0" transform="rotate(0 66.0 22.0)" fill="#8000ff" fill-opacity="0.70"/>
<ellipse cx="52.0" cy="48.0" rx="22.0" ry="4.0" transform="rotate(-20 52.0 48.0)" fill="#40c0ff" fill-opacity="0.70"/>
<ellipse cx="50.0" cy="47.0" rx="4.0" ry="2.5" transform="rotate(0 50.0 47.0)" fill="#b000ff" fill-opacity="1.00"/>
<ellipse cx="62.0" cy="54.0" rx="5.0" ry="2.5" transform="rotate(0 62.0 54.0)" fill="#b000ff" fill-opacity="1.00"/>
<ellipse cx="40.0" cy="42.0" rx="5.0" ry="3.0" transform="rotate(0 40.0 42.0)" fill="#8000ff" fill-opacity="0.70"/>
<path d="M27.00,46.00 C27.00,44.17 28.67,40.00 30.00,37.00 C31.33,34.00 33.00,31.00 35.00,28.00 C37.00,25.00 39.17,21.42 42.00,19.00 C44.83,16.58 49.17,14.67 52.00,13.50 C54.83,12.33 58.33,11.58 59.00,12.00 C59.67,12.42 57.83,14.33 56.00,16.00 C54.17,17.67 50.50,19.67 48.00,22.00 C45.50,24.33 43.17,27.00 41.00,30.00 C38.83,33.00 36.83,37.00 35.00,40.00 C33.17,43.00 31.33,47.00 30.00,48.00 C28.67,49.00 27.00,47.83 27.00,46.00 Z" fill="#b0ff00" fill-opacity="1.00"/>
<ellipse cx="47.0" cy="18.0" rx="5.0" ry="2.0" transform="rotate(-35 47.0 18.0)" fill="#ff0000" fill-opacity="1.00"/>
<ellipse cx="53.0" cy="15.0" rx="3.0" ry="1.5" transform="rotate(0 53.0 15.0)" fill="#ff00ff" fill-opacity="1.00"/>
<ellipse cx="36.0" cy="32.0" rx="3.0" ry="2.5" transform="rotate(-50 36.0 32.0)" fill="#ffff00" fill-opacity="1.00"/>
<ellipse cx="30.0" cy="42.0" rx="2.5" ry="2.0" transform="rotate(0 30.0 42.0)" fill="#00ff00" fill-opacity="1.00"/>
<ellipse cx="42.0" cy="24.0" rx="3.0" ry="1.5" transform="rotate(-40 42.0 24.0)" fill="#ffffff" fill-opacity="0.80"/>
<ellipse cx="58.0" cy="67.0" rx="12.0" ry="3.0" transform="rotate(-20 58.0 67.0)" fill="#40c0ff" fill-opacity="0.75"/>
<ellipse cx="36.0" cy="77.0" rx="8.0" ry="2.5" transform="rotate(-10 36.0 77.0)" fill="#40c0ff" fill-opacity="0.60"/>
<ellipse cx="62.0" cy="82.0" rx="8.0" ry="2.5" transform="rotate(-30 62.0 82.0)" fill="#40c0ff" fill-opacity="0.60"/>
<ellipse cx="70.0" cy="62.0" rx="6.0" ry="4.0" transform="rotate(0 70.0 62.0)" fill="#b000ff" fill-opacity="0.60"/>
<ellipse cx="21.0" cy="88.0" rx="3.0" ry="2.0" transform="rotate(0 21.0 88.0)" fill="#ff0000" fill-opacity="1.00"/>
<ellipse cx="51.0" cy="93.0" rx="3.0" ry="2.5" transform="rotate(0 51.0 93.0)" fill="#ff8000" fill-opacity="1.00"/>
<ellipse cx="33.0" cy="96.0" rx="3.0" ry="2.0" transform="rotate(0 33.0 96.0)" fill="#ffff00" fill-opacity="1.00"/>
<ellipse cx="81.0" cy="62.0" rx="2.5" ry="8.0" transform="rotate(0 81.0 62.0)" fill="#ff00ff" fill-opacity="0.70"/>
<ellipse cx="79.0" cy="67.0" rx="1.5" ry="2.5" transform="rotate(0 79.0 67.0)" fill="#ffff00" fill-opacity="1.00"/>
</g>
<path d="M57.00,13.00 C56.67,14.00 55.52,17.00 55.00,19.00 C54.48,21.00 54.08,24.00 53.90,25.00" fill="none" stroke="#ff0000" stroke-width="0.60" stroke-opacity="0.80" stroke-linecap="round"/>
<path d="M53.90,25.00 C55.75,25.33 60.58,26.33 65.00,27.00 C69.42,27.67 77.83,28.67 80.40,29.00" fill="none" stroke="#ff0000" stroke-width="0.60" stroke-opacity="0.80" stroke-linecap="round"/>
<path d="M80.40,29.00 C79.50,29.67 76.90,31.67 75.00,33.00 C73.10,34.33 71.33,35.50 69.00,37.00 C66.67,38.50 63.17,41.50 61.00,42.00 C58.83,42.50 56.92,41.67 56.00,40.00 C55.08,38.33 55.58,33.33 55.50,32.00" fill="none" stroke="#ff0000" stroke-width="0.60" stroke-opacity="0.80" stroke-linecap="round"/>
<path d="M28.00,40.00 C29.50,41.33 33.67,45.33 37.00,48.00 C40.33,50.67 45.33,53.50 48.00,56.00 C50.67,58.50 51.67,60.83 53.00,63.00 C54.33,65.17 54.17,66.67 56.00,69.00 C57.83,71.33 62.08,75.17 64.00,77.00 C65.92,78.83 66.92,79.50 67.50,80.00" fill="none" stroke="#ff0000" stroke-width="0.60" stroke-opacity="0.80" stroke-linecap="round"/>
<path d="M21.00,66.00 C23.67,65.17 31.67,62.50 37.00,61.00 C42.33,59.50 47.92,57.33 53.00,57.00 C58.08,56.67 63.17,58.33 67.50,59.00 C71.83,59.67 77.08,60.67 79.00,61.00" fill="none" stroke="#ff0000" stroke-width="0.60" stroke-opacity="0.80" stroke-linecap="round"/>
<path d="M19.00,80.00 C21.17,79.50 27.67,77.50 32.00,77.00 C36.33,76.50 41.00,76.50 45.00,77.00 C49.00,77.50 53.00,79.17 56.00,80.00 C59.00,80.83 61.83,81.67 63.00,82.00" fill="none" stroke="#ff0000" stroke-width="0.60" stroke-opacity="0.80" stroke-linecap="round"/>
<path d="M21.00,88.00 C22.83,88.33 28.00,89.25 32.00,90.00 C36.00,90.75 41.50,92.00 45.00,92.50 C48.50,93.00 51.67,92.92 53.00,93.00" fill="none" stroke="#ff0000" stroke-width="0.60" stroke-opacity="0.80" stroke-linecap="round"/>
</g>
<use href="#ola" fill="none" stroke="#fff" stroke-opacity="0.7" stroke-width="2.8"/>
<use href="#ola" fill="none" stroke="#000" stroke-width="1.8"/>
<ellipse cx="31.6" cy="100.3" rx="1.3" ry="1.2" fill="#000"/>
<rect x="0" y="0" width="100.00" height="107.35" fill="none" stroke="#3a3a3a" stroke-width="1.1"/>
</g>
<g transform="translate(479.30,21.35)">
<rect x="0.5" y="0.5" width="98" height="106.3" fill="#fff1fc"/>
<g clip-path="url(#clipa)">
<rect x="0" y="0" width="100" height="108" fill="#c000ff"/>
<g filter="url(#bl1)">
<ellipse cx="60.0" cy="38.0" rx="16.0" ry="12.0" transform="rotate(-30 60.0 38.0)" fill="#9000ff" fill-opacity="0.50"/>
<ellipse cx="72.0" cy="28.0" rx="6.0" ry="6.0" transform="rotate(0 72.0 28.0)" fill="#e000ff" fill-opacity="0.60"/>
<path d="M18.00,58.00 C20.17,54.83 25.50,56.00 30.00,56.00 C34.50,56.00 40.33,56.67 45.00,58.00 C49.67,59.33 54.83,61.00 58.00,64.00 C61.17,67.00 63.67,72.00 64.00,76.00 C64.33,80.00 62.67,84.67 60.00,88.00 C57.33,91.33 52.67,94.33 48.00,96.00 C43.33,97.67 36.67,98.67 32.00,98.00 C27.33,97.33 22.50,95.83 20.00,92.00 C17.50,88.17 17.33,80.67 17.00,75.00 C16.67,69.33 15.83,61.17 18.00,58.00 Z" fill="#3030ff" fill-opacity="0.85"/>
<path d="M27.00,46.00 C26.83,44.17 28.67,40.00 30.00,37.00 C31.33,34.00 33.00,31.00 35.00,28.00 C37.00,25.00 39.17,21.42 42.00,19.00 C44.83,16.58 49.17,14.67 52.00,13.50 C54.83,12.33 58.17,11.42 59.00,12.00 C59.83,12.58 58.50,15.33 57.00,17.00 C55.50,18.67 52.33,19.83 50.00,22.00 C47.67,24.17 45.17,27.00 43.00,30.00 C40.83,33.00 39.00,37.00 37.00,40.00 C35.00,43.00 32.67,47.00 31.00,48.00 C29.33,49.00 27.17,47.83 27.00,46.00 Z" fill="#ffff00" fill-opacity="1.00"/>
<ellipse cx="40.0" cy="25.0" rx="5.0" ry="2.5" transform="rotate(-45 40.0 25.0)" fill="#ffffff" fill-opacity="1.00"/>
<ellipse cx="31.0" cy="42.0" rx="3.0" ry="3.0" transform="rotate(0 31.0 42.0)" fill="#00ff00" fill-opacity="1.00"/>
<ellipse cx="55.0" cy="14.0" rx="3.5" ry="2.0" transform="rotate(0 55.0 14.0)" fill="#00ff00" fill-opacity="1.00"/>
<ellipse cx="46.0" cy="18.0" rx="3.0" ry="2.0" transform="rotate(0 46.0 18.0)" fill="#ffffff" fill-opacity="1.00"/>
<ellipse cx="32.0" cy="64.0" rx="10.0" ry="2.0" transform="rotate(-12 32.0 64.0)" fill="#00ffff" fill-opacity="1.00"/>
<ellipse cx="38.0" cy="70.0" rx="14.0" ry="2.0" transform="rotate(-12 38.0 70.0)" fill="#40c0ff" fill-opacity="1.00"/>
<ellipse cx="40.0" cy="77.0" rx="15.0" ry="2.2" transform="rotate(-12 40.0 77.0)" fill="#00ffff" fill-opacity="1.00"/>
<ellipse cx="44.0" cy="84.0" rx="12.0" ry="1.8" transform="rotate(-12 44.0 84.0)" fill="#b000ff" fill-opacity="0.70"/>
<ellipse cx="30.0" cy="89.0" rx="9.0" ry="2.0" transform="rotate(-10 30.0 89.0)" fill="#40c0ff" fill-opacity="1.00"/>
<ellipse cx="48.0" cy="66.0" rx="7.0" ry="1.8" transform="rotate(-12 48.0 66.0)" fill="#b000ff" fill-opacity="0.70"/>
<ellipse cx="58.0" cy="74.0" rx="6.0" ry="2.0" transform="rotate(-20 58.0 74.0)" fill="#00ffff" fill-opacity="1.00"/>
<ellipse cx="56.0" cy="61.0" rx="5.0" ry="2.0" transform="rotate(0 56.0 61.0)" fill="#40c0ff" fill-opacity="0.80"/>
<ellipse cx="36.0" cy="93.0" rx="6.0" ry="1.5" transform="rotate(0 36.0 93.0)" fill="#00ffff" fill-opacity="1.00"/>
<ellipse cx="21.0" cy="88.0" rx="2.5" ry="1.5" transform="rotate(0 21.0 88.0)" fill="#ffff00" fill-opacity="1.00"/>
<ellipse cx="35.0" cy="96.0" rx="3.0" ry="1.5" transform="rotate(0 35.0 96.0)" fill="#ffff00" fill-opacity="1.00"/>
<ellipse cx="82.0" cy="52.0" rx="2.5" ry="3.0" transform="rotate(0 82.0 52.0)" fill="#40c0ff" fill-opacity="1.00"/>
<ellipse cx="70.0" cy="70.0" rx="3.0" ry="2.0" transform="rotate(0 70.0 70.0)" fill="#00ffff" fill-opacity="1.00"/>
<ellipse cx="78.0" cy="64.0" rx="2.0" ry="3.0" transform="rotate(0 78.0 64.0)" fill="#ffffff" fill-opacity="1.00"/>
</g>
<path d="M57.00,13.00 C56.67,14.00 55.52,17.00 55.00,19.00 C54.48,21.00 54.08,24.00 53.90,25.00" fill="none" stroke="#ff0000" stroke-width="0.60" stroke-opacity="0.80" stroke-linecap="round"/>
<path d="M53.90,25.00 C55.75,25.33 60.58,26.33 65.00,27.00 C69.42,27.67 77.83,28.67 80.40,29.00" fill="none" stroke="#ff0000" stroke-width="0.60" stroke-opacity="0.80" stroke-linecap="round"/>
<path d="M80.40,29.00 C79.50,29.67 76.90,31.67 75.00,33.00 C73.10,34.33 71.33,35.50 69.00,37.00 C66.67,38.50 63.17,41.50 61.00,42.00 C58.83,42.50 56.92,41.67 56.00,40.00 C55.08,38.33 55.58,33.33 55.50,32.00" fill="none" stroke="#ff0000" stroke-width="0.60" stroke-opacity="0.80" stroke-linecap="round"/>
<path d="M28.00,40.00 C29.50,41.33 33.67,45.33 37.00,48.00 C40.33,50.67 45.33,53.50 48.00,56.00 C50.67,58.50 51.67,60.83 53.00,63.00 C54.33,65.17 54.17,66.67 56.00,69.00 C57.83,71.33 62.08,75.17 64.00,77.00 C65.92,78.83 66.92,79.50 67.50,80.00" fill="none" stroke="#0000ff" stroke-width="0.60" stroke-opacity="0.80" stroke-linecap="round"/>
<path d="M21.00,66.00 C23.67,65.17 31.67,62.50 37.00,61.00 C42.33,59.50 47.92,57.33 53.00,57.00 C58.08,56.67 63.17,58.33 67.50,59.00 C71.83,59.67 77.08,60.67 79.00,61.00" fill="none" stroke="#ff0000" stroke-width="0.60" stroke-opacity="0.80" stroke-linecap="round"/>
<path d="M19.00,80.00 C21.17,79.50 27.67,77.50 32.00,77.00 C36.33,76.50 41.00,76.50 45.00,77.00 C49.00,77.50 53.00,79.17 56.00,80.00 C59.00,80.83 61.83,81.67 63.00,82.00" fill="none" stroke="#ff0000" stroke-width="0.60" stroke-opacity="0.80" stroke-linecap="round"/>
<path d="M21.00,88.00 C22.83,88.33 28.00,89.25 32.00,90.00 C36.00,90.75 41.50,92.00 45.00,92.50 C48.50,93.00 51.67,92.92 53.00,93.00" fill="none" stroke="#ff0000" stroke-width="0.60" stroke-opacity="0.80" stroke-linecap="round"/>
</g>
<use href="#ola" fill="none" stroke="#fff" stroke-opacity="0.7" stroke-width="2.8"/>
<use href="#ola" fill="none" stroke="#000" stroke-width="1.8"/>
<ellipse cx="31.6" cy="100.3" rx="1.3" ry="1.2" fill="#000"/>
<rect x="0" y="0" width="100.00" height="107.35" fill="none" stroke="#3a3a3a" stroke-width="1.1"/>
</g>
<g transform="translate(584.25,21.35)">
<rect x="0.5" y="0.5" width="98" height="106.3" fill="#fff1fc"/>
<g clip-path="url(#clipa)">
<rect x="0" y="0" width="100" height="108" fill="#ffffff"/>
<g filter="url(#bl2)">
<ellipse cx="38.0" cy="62.0" rx="18.0" ry="26.0" transform="rotate(-30 38.0 62.0)" fill="#ffffc0" fill-opacity="0.85"/>
<ellipse cx="44.0" cy="24.0" rx="9.0" ry="6.0" transform="rotate(-30 44.0 24.0)" fill="#ffd0ff" fill-opacity="1.00"/>
<ellipse cx="82.0" cy="44.0" rx="4.0" ry="18.0" transform="rotate(0 82.0 44.0)" fill="#ffd0ff" fill-opacity="1.00"/>
<ellipse cx="74.0" cy="74.0" rx="6.0" ry="6.0" transform="rotate(0 74.0 74.0)" fill="#ff90ff" fill-opacity="0.50"/>
<ellipse cx="52.0" cy="86.0" rx="8.0" ry="4.0" transform="rotate(0 52.0 86.0)" fill="#ffd0ff" fill-opacity="1.00"/>
<ellipse cx="23.0" cy="62.0" rx="3.0" ry="5.0" transform="rotate(0 23.0 62.0)" fill="#ff90ff" fill-opacity="0.60"/>
<ellipse cx="30.0" cy="92.0" rx="5.0" ry="3.0" transform="rotate(0 30.0 92.0)" fill="#ffd0ff" fill-opacity="1.00"/>
<ellipse cx="64.0" cy="18.0" rx="5.0" ry="4.0" transform="rotate(0 64.0 18.0)" fill="#ffd0ff" fill-opacity="1.00"/>
</g>
<path d="M57.00,13.00 C56.67,14.00 55.52,17.00 55.00,19.00 C54.48,21.00 54.08,24.00 53.90,25.00" fill="none" stroke="#ff0000" stroke-width="0.60" stroke-opacity="0.70" stroke-linecap="round" stroke-dasharray="1.2 1.3"/>
<path d="M53.90,25.00 C55.75,25.33 60.58,26.33 65.00,27.00 C69.42,27.67 77.83,28.67 80.40,29.00" fill="none" stroke="#ff0000" stroke-width="0.60" stroke-opacity="0.70" stroke-linecap="round" stroke-dasharray="1.2 1.3"/>
<path d="M80.40,29.00 C79.50,29.67 76.90,31.67 75.00,33.00 C73.10,34.33 71.33,35.50 69.00,37.00 C66.67,38.50 63.17,41.50 61.00,42.00 C58.83,42.50 56.92,41.67 56.00,40.00 C55.08,38.33 55.58,33.33 55.50,32.00" fill="none" stroke="#0000ff" stroke-width="0.60" stroke-opacity="0.70" stroke-linecap="round" stroke-dasharray="1.2 1.3"/>
<path d="M28.00,40.00 C29.50,41.33 33.67,45.33 37.00,48.00 C40.33,50.67 45.33,53.50 48.00,56.00 C50.67,58.50 51.67,60.83 53.00,63.00 C54.33,65.17 54.17,66.67 56.00,69.00 C57.83,71.33 62.08,75.17 64.00,77.00 C65.92,78.83 66.92,79.50 67.50,80.00" fill="none" stroke="#0000ff" stroke-width="0.60" stroke-opacity="0.70" stroke-linecap="round" stroke-dasharray="1.2 1.3"/>
<path d="M21.00,66.00 C23.67,65.17 31.67,62.50 37.00,61.00 C42.33,59.50 47.92,57.33 53.00,57.00 C58.08,56.67 63.17,58.33 67.50,59.00 C71.83,59.67 77.08,60.67 79.00,61.00" fill="none" stroke="#0000ff" stroke-width="0.60" stroke-opacity="0.70" stroke-linecap="round" stroke-dasharray="1.2 1.3"/>
<path d="M19.00,80.00 C21.17,79.50 27.67,77.50 32.00,77.00 C36.33,76.50 41.00,76.50 45.00,77.00 C49.00,77.50 53.00,79.17 56.00,80.00 C59.00,80.83 61.83,81.67 63.00,82.00" fill="none" stroke="#ff0000" stroke-width="0.60" stroke-opacity="0.70" stroke-linecap="round" stroke-dasharray="1.2 1.3"/>
<path d="M21.00,88.00 C22.83,88.33 28.00,89.25 32.00,90.00 C36.00,90.75 41.50,92.00 45.00,92.50 C48.50,93.00 51.67,92.92 53.00,93.00" fill="none" stroke="#ff0000" stroke-width="0.60" stroke-opacity="0.70" stroke-linecap="round" stroke-dasharray="1.2 1.3"/>
</g>
<use href="#ola" fill="none" stroke="#fff" stroke-opacity="0.7" stroke-width="2.8"/>
<use href="#ola" fill="none" stroke="#000" stroke-width="1.8"/>
<ellipse cx="31.6" cy="100.3" rx="1.3" ry="1.2" fill="#000"/>
<rect x="0" y="0" width="100.00" height="107.35" fill="none" stroke="#3a3a3a" stroke-width="1.1"/>
</g>
<g transform="translate(59.50,138.42)">
<rect x="0.5" y="0.5" width="98" height="106.3" fill="#fff1fc"/>
<g clip-path="url(#clipb)">
<rect x="0" y="0" width="100" height="108" fill="#0000ff"/>
<g filter="url(#bl1)">
<ellipse cx="52.0" cy="41.0" rx="15.0" ry="4.0" transform="rotate(-10 52.0 41.0)" fill="#00ffff" fill-opacity="0.70"/>
<ellipse cx="51.0" cy="60.0" rx="9.0" ry="7.0" transform="rotate(0 51.0 60.0)" fill="#40c0ff" fill-opacity="0.70"/>
<ellipse cx="35.0" cy="66.0" rx="7.0" ry="4.0" transform="rotate(0 35.0 66.0)" fill="#40c0ff" fill-opacity="0.50"/>
<ellipse cx="80.0" cy="30.0" rx="5.0" ry="10.0" transform="rotate(0 80.0 30.0)" fill="#40c0ff" fill-opacity="0.45"/>
<ellipse cx="47.0" cy="47.0" rx="11.0" ry="6.0" transform="rotate(-15 47.0 47.0)" fill="#a000ff" fill-opacity="1.00"/>
<ellipse cx="42.0" cy="50.0" rx="6.0" ry="3.0" transform="rotate(0 42.0 50.0)" fill="#ff00ff" fill-opacity="0.80"/>
<ellipse cx="72.0" cy="60.0" rx="9.0" ry="9.0" transform="rotate(0 72.0 60.0)" fill="#ff00ff" fill-opacity="0.55"/>
<ellipse cx="57.0" cy="66.0" rx="4.0" ry="7.0" transform="rotate(0 57.0 66.0)" fill="#ff90ff" fill-opacity="0.80"/>
<path d="M60.00,60.00 C61.33,57.00 66.67,56.00 70.00,56.00 C73.33,56.00 78.33,57.67 80.00,60.00 C81.67,62.33 81.33,67.33 80.00,70.00 C78.67,72.67 75.00,75.33 72.00,76.00 C69.00,76.67 64.00,76.67 62.00,74.00 C60.00,71.33 58.67,63.00 60.00,60.00 Z" fill="#00ff00" fill-opacity="1.00"/>
<ellipse cx="68.0" cy="63.0" rx="4.0" ry="3.0" transform="rotate(0 68.0 63.0)" fill="#ffff00" fill-opacity="1.00"/>
<ellipse cx="66.0" cy="69.0" rx="2.5" ry="2.0" transform="rotate(0 66.0 69.0)" fill="#ff0000" fill-opacity="1.00"/>
<ellipse cx="76.0" cy="72.0" rx="4.0" ry="3.0" transform="rotate(0 76.0 72.0)" fill="#b0ff00" fill-opacity="1.00"/>
<path d="M48.00,84.00 C49.33,82.33 53.00,80.33 56.00,80.00 C59.00,79.67 64.67,80.33 66.00,82.00 C67.33,83.67 66.00,88.33 64.00,90.00 C62.00,91.67 56.67,92.00 54.00,92.00 C51.33,92.00 49.00,91.33 48.00,90.00 C47.00,88.67 46.67,85.67 48.00,84.00 Z" fill="#ff0000" fill-opacity="1.00"/>
<ellipse cx="55.0" cy="79.0" rx="5.0" ry="2.0" transform="rotate(0 55.0 79.0)" fill="#b0ff00" fill-opacity="1.00"/>
<ellipse cx="29.0" cy="50.5" rx="7.0" ry="2.0" transform="rotate(-12 29.0 50.5)" fill="#ff0000" fill-opacity="1.00"/>
<ellipse cx="32.0" cy="57.0" rx="6.0" ry="2.0" transform="rotate(-10 32.0 57.0)" fill="#ffff00" fill-opacity="1.00"/>
<ellipse cx="31.0" cy="57.0" rx="3.0" ry="1.0" transform="rotate(0 31.0 57.0)" fill="#ffffff" fill-opacity="1.00"/>
<ellipse cx="29.0" cy="63.5" rx="6.0" ry="2.0" transform="rotate(-10 29.0 63.5)" fill="#ff0000" fill-opacity="1.00"/>
<ellipse cx="31.0" cy="69.0" rx="6.0" ry="1.6" transform="rotate(-10 31.0 69.0)" fill="#ff0000" fill-opacity="1.00"/>
<ellipse cx="32.0" cy="68.0" rx="3.0" ry="1.0" transform="rotate(0 32.0 68.0)" fill="#ffff00" fill-opacity="1.00"/>
<ellipse cx="80.0" cy="58.0" rx="3.0" ry="6.0" transform="rotate(0 80.0 58.0)" fill="#ff0000" fill-opacity="0.50"/>
<ellipse cx="48.0" cy="96.0" rx="4.0" ry="1.5" transform="rotate(0 48.0 96.0)" fill="#ffff00" fill-opacity="0.70"/>
<ellipse cx="24.0" cy="80.0" rx="4.0" ry="1.2" transform="rotate(0 24.0 80.0)" fill="#ff0000" fill-opacity="1.00"/>
</g>
<use href="#olb" fill="none" stroke="#40c0ff" stroke-opacity="0.22" stroke-width="6" filter="url(#bl1)"/>
<path d="M61.00,9.60 C60.75,12.00 59.50,18.93 59.50,24.00 C59.50,29.07 60.75,37.33 61.00,40.00" fill="none" stroke="#ff0000" stroke-width="0.60" stroke-opacity="0.75" stroke-linecap="round"/>
<path d="M64.00,13.00 C64.17,14.00 64.00,17.33 65.00,19.00 C66.00,20.67 68.17,22.00 70.00,23.00 C71.83,24.00 74.17,24.17 76.00,25.00 C77.83,25.83 80.17,27.50 81.00,28.00" fill="none" stroke="#ff0000" stroke-width="0.60" stroke-opacity="0.75" stroke-linecap="round"/>
<path d="M76.00,27.00 C75.00,28.00 71.67,31.33 70.00,33.00 C68.33,34.67 66.67,36.33 66.00,37.00" fill="none" stroke="#ff0000" stroke-width="0.60" stroke-opacity="0.75" stroke-linecap="round"/>
<path d="M32.00,53.00 C33.67,54.33 38.75,58.58 42.00,61.00 C45.25,63.42 48.58,64.83 51.50,67.50 C54.42,70.17 56.83,74.92 59.50,77.00 C62.17,79.08 66.17,79.50 67.50,80.00" fill="none" stroke="#ff0000" stroke-width="0.60" stroke-opacity="0.75" stroke-linecap="round"/>
<path d="M24.00,64.00 C26.67,63.25 33.83,61.33 40.00,59.50 C46.17,57.67 55.67,53.80 61.00,53.00 C66.33,52.20 68.83,53.87 72.00,54.70 C75.17,55.53 78.67,57.45 80.00,58.00" fill="none" stroke="#ff0000" stroke-width="0.60" stroke-opacity="0.75" stroke-linecap="round"/>
<path d="M21.00,80.00 C22.33,79.27 25.50,76.60 29.00,75.60 C32.50,74.60 37.72,73.77 42.00,74.00 C46.28,74.23 52.58,76.50 54.70,77.00" fill="none" stroke="#ff0000" stroke-width="0.60" stroke-opacity="0.75" stroke-linecap="round"/>
<path d="M21.00,82.00 C22.83,83.33 28.00,87.83 32.00,90.00 C36.00,92.17 42.83,94.17 45.00,95.00" fill="none" stroke="#ff0000" stroke-width="0.60" stroke-opacity="0.75" stroke-linecap="round"/>
<path d="M32.00,87.00 C33.33,87.17 37.33,87.77 40.00,88.00 C42.67,88.23 46.67,88.33 48.00,88.40" fill="none" stroke="#ff0000" stroke-width="0.60" stroke-opacity="0.75" stroke-linecap="round"/>
</g>
<use href="#olb" fill="none" stroke="#fff" stroke-opacity="0.7" stroke-width="2.8"/>
<use href="#olb" fill="none" stroke="#000" stroke-width="1.8"/>
<rect x="0" y="0" width="100.00" height="107.35" fill="none" stroke="#3a3a3a" stroke-width="1.1"/>
</g>
<g transform="translate(164.45,138.42)">
<rect x="0.5" y="0.5" width="98" height="106.3" fill="#fff1fc"/>
<g clip-path="url(#clipb)">
<rect x="0" y="0" width="100" height="108" fill="#0000ff"/>
<g filter="url(#bl1)">
<path d="M28.00,46.00 C27.67,42.67 30.00,37.67 32.00,34.00 C34.00,30.33 37.00,26.33 40.00,24.00 C43.00,21.67 47.33,19.33 50.00,20.00 C52.67,20.67 55.67,25.00 56.00,28.00 C56.33,31.00 51.33,35.33 52.00,38.00 C52.67,40.67 56.67,42.33 60.00,44.00 C63.33,45.67 69.00,46.00 72.00,48.00 C75.00,50.00 78.33,53.67 78.00,56.00 C77.67,58.33 73.67,61.00 70.00,62.00 C66.33,63.00 60.33,62.67 56.00,62.00 C51.67,61.33 47.67,59.33 44.00,58.00 C40.33,56.67 36.67,56.00 34.00,54.00 C31.33,52.00 28.33,49.33 28.00,46.00 Z" fill="#40c0ff" fill-opacity="0.80"/>
<ellipse cx="44.0" cy="34.0" rx="8.0" ry="6.0" transform="rotate(-30 44.0 34.0)" fill="#00ffff" fill-opacity="0.60"/>
<ellipse cx="58.0" cy="52.0" rx="10.0" ry="4.0" transform="rotate(-20 58.0 52.0)" fill="#00ffff" fill-opacity="0.65"/>
<ellipse cx="76.0" cy="40.0" rx="6.0" ry="9.0" transform="rotate(0 76.0 40.0)" fill="#40c0ff" fill-opacity="0.40"/>
<ellipse cx="66.0" cy="20.0" rx="6.0" ry="5.0" transform="rotate(0 66.0 20.0)" fill="#40c0ff" fill-opacity="0.30"/>
<ellipse cx="45.0" cy="44.0" rx="8.0" ry="3.0" transform="rotate(-10 45.0 44.0)" fill="#b000ff" fill-opacity="1.00"/>
<ellipse cx="53.0" cy="46.0" rx="4.0" ry="2.5" transform="rotate(0 53.0 46.0)" fill="#d060ff" fill-opacity="1.00"/>
<ellipse cx="40.0" cy="42.0" rx="4.0" ry="3.0" transform="rotate(0 40.0 42.0)" fill="#8000ff" fill-opacity="1.00"/>
<ellipse cx="67.0" cy="66.0" rx="8.0" ry="6.0" transform="rotate(0 67.0 66.0)" fill="#ff00ff" fill-opacity="1.00"/>
<ellipse cx="66.0" cy="67.0" rx="4.0" ry="3.0" transform="rotate(0 66.0 67.0)" fill="#ff90ff" fill-opacity="1.00"/>
<ellipse cx="79.0" cy="65.0" rx="3.0" ry="5.0" transform="rotate(0 79.0 65.0)" fill="#00ff00" fill-opacity="1.00"/>
<ellipse cx="76.0" cy="58.0" rx="3.0" ry="3.0" transform="rotate(0 76.0 58.0)" fill="#ffff00" fill-opacity="0.70"/>
<ellipse cx="57.0" cy="86.0" rx="7.0" ry="3.0" transform="rotate(0 57.0 86.0)" fill="#ff0000" fill-opacity="1.00"/>
<ellipse cx="55.0" cy="81.0" rx="3.0" ry="1.5" transform="rotate(0 55.0 81.0)" fill="#ffff00" fill-opacity="1.00"/>
<ellipse cx="28.0" cy="52.0" rx="4.0" ry="2.5" transform="rotate(0 28.0 52.0)" fill="#ff00ff" fill-opacity="1.00"/>
<ellipse cx="30.0" cy="61.0" rx="5.0" ry="2.0" transform="rotate(0 30.0 61.0)" fill="#ff0000" fill-opacity="1.00"/>
<ellipse cx="30.0" cy="68.0" rx="5.0" ry="1.6" transform="rotate(0 30.0 68.0)" fill="#ff0000" fill-opacity="1.00"/>
<ellipse cx="31.0" cy="68.0" rx="2.5" ry="1.0" transform="rotate(0 31.0 68.0)" fill="#ffff00" fill-opacity="1.00"/>
<ellipse cx="22.0" cy="84.0" rx="4.0" ry="1.5" transform="rotate(0 22.0 84.0)" fill="#ff0000" fill-opacity="1.00"/>
<ellipse cx="36.0" cy="74.0" rx="8.0" ry="3.0" transform="rotate(0 36.0 74.0)" fill="#40c0ff" fill-opacity="0.40"/>
<ellipse cx="48.0" cy="70.0" rx="5.0" ry="3.0" transform="rotate(0 48.0 70.0)" fill="#40c0ff" fill-opacity="0.50"/>
</g>
<use href="#olb" fill="none" stroke="#40c0ff" stroke-opacity="0.22" stroke-width="6" filter="url(#bl1)"/>
<path d="M61.00,9.60 C60.75,12.00 59.50,18.93 59.50,24.00 C59.50,29.07 60.75,37.33 61.00,40.00" fill="none" stroke="#ff0000" stroke-width="1.20" stroke-opacity="0.95" stroke-linecap="round"/>
<path d="M64.00,13.00 C64.17,14.00 64.00,17.33 65.00,19.00 C66.00,20.67 68.17,22.00 70.00,23.00 C71.83,24.00 74.17,24.17 76.00,25.00 C77.83,25.83 80.17,27.50 81.00,28.00" fill="none" stroke="#ff0000" stroke-width="1.20" stroke-opacity="0.95" stroke-linecap="round"/>
<path d="M76.00,27.00 C75.00,28.00 71.67,31.33 70.00,33.00 C68.33,34.67 66.67,36.33 66.00,37.00" fill="none" stroke="#ff0000" stroke-width="1.20" stroke-opacity="0.95" stroke-linecap="round"/>
<path d="M32.00,53.00 C33.67,54.33 38.75,58.58 42.00,61.00 C45.25,63.42 48.58,64.83 51.50,67.50 C54.42,70.17 56.83,74.92 59.50,77.00 C62.17,79.08 66.17,79.50 67.50,80.00" fill="none" stroke="#ff0000" stroke-width="1.20" stroke-opacity="0.95" stroke-linecap="round"/>
<path d="M24.00,64.00 C26.67,63.25 33.83,61.33 40.00,59.50 C46.17,57.67 55.67,53.80 61.00,53.00 C66.33,52.20 68.83,53.87 72.00,54.70 C75.17,55.53 78.67,57.45 80.00,58.00" fill="none" stroke="#ff0000" stroke-width="1.20" stroke-opacity="0.95" stroke-linecap="round"/>
<path d="M21.00,80.00 C22.33,79.27 25.50,76.60 29.00,75.60 C32.50,74.60 37.72,73.77 42.00,74.00 C46.28,74.23 52.58,76.50 54.70,77.00" fill="none" stroke="#ff0000" stroke-width="1.20" stroke-opacity="0.95" stroke-linecap="round"/>
<path d="M21.00,82.00 C22.83,83.33 28.00,87.83 32.00,90.00 C36.00,92.17 42.83,94.17 45.00,95.00" fill="none" stroke="#ff0000" stroke-width="1.20" stroke-opacity="0.95" stroke-linecap="round"/>
<path d="M32.00,87.00 C33.33,87.17 37.33,87.77 40.00,88.00 C42.67,88.23 46.67,88.33 48.00,88.40" fill="none" stroke="#ff0000" stroke-width="1.20" stroke-opacity="0.95" stroke-linecap="round"/>
</g>
<use href="#olb" fill="none" stroke="#fff" stroke-opacity="0.7" stroke-width="2.8"/>
<use href="#olb" fill="none" stroke="#000" stroke-width="1.8"/>
<rect x="0" y="0" width="100.00" height="107.35" fill="none" stroke="#3a3a3a" stroke-width="1.1"/>
</g>
<g transform="translate(269.40,138.42)">
<rect x="0.5" y="0.5" width="98" height="106.3" fill="#fff1fc"/>
<g clip-path="url(#clipb)">
<rect x="0" y="0" width="100" height="108" fill="#0000ff"/>
<g filter="url(#bl1)">
<ellipse cx="42.0" cy="32.0" rx="12.0" ry="7.0" transform="rotate(-30 42.0 32.0)" fill="#00ffff" fill-opacity="0.75"/>
<ellipse cx="72.0" cy="42.0" rx="12.0" ry="6.0" transform="rotate(-30 72.0 42.0)" fill="#40c0ff" fill-opacity="0.60"/>
<ellipse cx="40.0" cy="72.0" rx="12.0" ry="6.0" transform="rotate(-20 40.0 72.0)" fill="#40c0ff" fill-opacity="0.55"/>
<ellipse cx="62.0" cy="22.0" rx="8.0" ry="5.0" transform="rotate(0 62.0 22.0)" fill="#40c0ff" fill-opacity="0.35"/>
<path d="M30.00,44.00 C31.67,40.67 35.67,37.50 40.00,36.00 C44.33,34.50 51.33,34.00 56.00,35.00 C60.67,36.00 65.33,38.50 68.00,42.00 C70.67,45.50 72.67,52.00 72.00,56.00 C71.33,60.00 67.67,63.67 64.00,66.00 C60.33,68.33 54.33,70.00 50.00,70.00 C45.67,70.00 41.33,68.33 38.00,66.00 C34.67,63.67 31.33,59.67 30.00,56.00 C28.67,52.33 28.33,47.33 30.00,44.00 Z" fill="#c030ff" fill-opacity="1.00"/>
<ellipse cx="50.0" cy="50.0" rx="12.0" ry="9.0" transform="rotate(-30 50.0 50.0)" fill="#ff00ff" fill-opacity="1.00"/>
<ellipse cx="56.0" cy="60.0" rx="5.0" ry="4.0" transform="rotate(0 56.0 60.0)" fill="#ffffff" fill-opacity="0.70"/>
<ellipse cx="46.0" cy="44.0" rx="4.0" ry="3.0" transform="rotate(0 46.0 44.0)" fill="#ff90ff" fill-opacity="0.70"/>
<path d="M60.00,60.00 C61.33,57.17 66.67,57.00 70.00,57.00 C73.33,57.00 78.33,57.83 80.00,60.00 C81.67,62.17 81.33,67.33 80.00,70.00 C78.67,72.67 75.00,75.33 72.00,76.00 C69.00,76.67 64.00,76.67 62.00,74.00 C60.00,71.33 58.67,62.83 60.00,60.00 Z" fill="#00ff00" fill-opacity="1.00"/>
<ellipse cx="68.0" cy="61.0" rx="5.0" ry="3.0" transform="rotate(0 68.0 61.0)" fill="#ffff00" fill-opacity="1.00"/>
<ellipse cx="79.0" cy="62.0" rx="3.0" ry="7.0" transform="rotate(0 79.0 62.0)" fill="#b0ff00" fill-opacity="1.00"/>
<ellipse cx="62.0" cy="73.0" rx="3.0" ry="2.0" transform="rotate(0 62.0 73.0)" fill="#ffffff" fill-opacity="0.80"/>
<path d="M48.00,84.00 C49.33,82.33 53.00,80.33 56.00,80.00 C59.00,79.67 64.67,80.33 66.00,82.00 C67.33,83.67 66.00,88.33 64.00,90.00 C62.00,91.67 56.67,92.00 54.00,92.00 C51.33,92.00 49.00,91.33 48.00,90.00 C47.00,88.67 46.67,85.67 48.00,84.00 Z" fill="#ff0000" fill-opacity="1.00"/>
<ellipse cx="55.0" cy="79.0" rx="5.0" ry="2.0" transform="rotate(0 55.0 79.0)" fill="#b0ff00" fill-opacity="1.00"/>
<ellipse cx="29.0" cy="51.0" rx="6.0" ry="2.0" transform="rotate(-10 29.0 51.0)" fill="#ff0000" fill-opacity="1.00"/>
<ellipse cx="30.0" cy="63.0" rx="6.0" ry="2.0" transform="rotate(-8 30.0 63.0)" fill="#ff0000" fill-opacity="1.00"/>
<ellipse cx="31.0" cy="68.0" rx="6.0" ry="1.6" transform="rotate(0 31.0 68.0)" fill="#ff0000" fill-opacity="1.00"/>
<ellipse cx="31.0" cy="57.0" rx="4.0" ry="1.5" transform="rotate(0 31.0 57.0)" fill="#ffff00" fill-opacity="1.00"/>
</g>
<use href="#olb" fill="none" stroke="#40c0ff" stroke-opacity="0.22" stroke-width="6" filter="url(#bl1)"/>
<path d="M61.00,9.60 C60.75,12.00 59.50,18.93 59.50,24.00 C59.50,29.07 60.75,37.33 61.00,40.00" fill="none" stroke="#ff0000" stroke-width="0.80" stroke-opacity="0.85" stroke-linecap="round"/>
<path d="M64.00,13.00 C64.17,14.00 64.00,17.33 65.00,19.00 C66.00,20.67 68.17,22.00 70.00,23.00 C71.83,24.00 74.17,24.17 76.00,25.00 C77.83,25.83 80.17,27.50 81.00,28.00" fill="none" stroke="#ff0000" stroke-width="0.80" stroke-opacity="0.85" stroke-linecap="round"/>
<path d="M76.00,27.00 C75.00,28.00 71.67,31.33 70.00,33.00 C68.33,34.67 66.67,36.33 66.00,37.00" fill="none" stroke="#ff0000" stroke-width="0.80" stroke-opacity="0.85" stroke-linecap="round"/>
<path d="M32.00,53.00 C33.67,54.33 38.75,58.58 42.00,61.00 C45.25,63.42 48.58,64.83 51.50,67.50 C54.42,70.17 56.83,74.92 59.50,77.00 C62.17,79.08 66.17,79.50 67.50,80.00" fill="none" stroke="#ff0000" stroke-width="0.80" stroke-opacity="0.85" stroke-linecap="round"/>
<path d="M24.00,64.00 C26.67,63.25 33.83,61.33 40.00,59.50 C46.17,57.67 55.67,53.80 61.00,53.00 C66.33,52.20 68.83,53.87 72.00,54.70 C75.17,55.53 78.67,57.45 80.00,58.00" fill="none" stroke="#ff0000" stroke-width="0.80" stroke-opacity="0.85" stroke-linecap="round"/>
<path d="M21.00,80.00 C22.33,79.27 25.50,76.60 29.00,75.60 C32.50,74.60 37.72,73.77 42.00,74.00 C46.28,74.23 52.58,76.50 54.70,77.00" fill="none" stroke="#ff0000" stroke-width="0.80" stroke-opacity="0.85" stroke-linecap="round"/>
<path d="M21.00,82.00 C22.83,83.33 28.00,87.83 32.00,90.00 C36.00,92.17 42.83,94.17 45.00,95.00" fill="none" stroke="#ff0000" stroke-width="0.80" stroke-opacity="0.85" stroke-linecap="round"/>
<path d="M32.00,87.00 C33.33,87.17 37.33,87.77 40.00,88.00 C42.67,88.23 46.67,88.33 48.00,88.40" fill="none" stroke="#ff0000" stroke-width="0.80" stroke-opacity="0.85" stroke-linecap="round"/>
</g>
<use href="#olb" fill="none" stroke="#fff" stroke-opacity="0.7" stroke-width="2.8"/>
<use href="#olb" fill="none" stroke="#000" stroke-width="1.8"/>
<rect x="0" y="0" width="100.00" height="107.35" fill="none" stroke="#3a3a3a" stroke-width="1.1"/>
</g>
<g transform="translate(374.35,138.42)">
<rect x="0.5" y="0.5" width="98" height="106.3" fill="#fff1fc"/>
<g clip-path="url(#clipb)">
<rect x="0" y="0" width="100" height="108" fill="#0000ff"/>
<g filter="url(#bl1)">
<path d="M32.00,40.00 C32.67,35.67 36.67,30.33 40.00,26.00 C43.33,21.67 47.67,16.33 52.00,14.00 C56.33,11.67 61.33,11.33 66.00,12.00 C70.67,12.67 76.67,14.67 80.00,18.00 C83.33,21.33 85.33,27.00 86.00,32.00 C86.67,37.00 87.00,44.67 84.00,48.00 C81.00,51.33 74.00,51.33 68.00,52.00 C62.00,52.67 53.33,52.00 48.00,52.00 C42.67,52.00 38.67,54.00 36.00,52.00 C33.33,50.00 31.33,44.33 32.00,40.00 Z" fill="#8000ff" fill-opacity="0.90"/>
<ellipse cx="55.0" cy="25.0" rx="14.0" ry="7.0" transform="rotate(-30 55.0 25.0)" fill="#ff00ff" fill-opacity="0.80"/>
<ellipse cx="62.0" cy="40.0" rx="18.0" ry="7.0" transform="rotate(-30 62.0 40.0)" fill="#00ffff" fill-opacity="0.80"/>
<ellipse cx="76.0" cy="30.0" rx="7.0" ry="9.0" transform="rotate(0 76.0 30.0)" fill="#40c0ff" fill-opacity="0.70"/>
<ellipse cx="68.0" cy="22.0" rx="5.0" ry="4.0" transform="rotate(0 68.0 22.0)" fill="#b000ff" fill-opacity="1.00"/>
<ellipse cx="50.0" cy="50.0" rx="22.0" ry="4.0" transform="rotate(-20 50.0 50.0)" fill="#00ffff" fill-opacity="0.80"/>
<ellipse cx="44.0" cy="60.0" rx="15.0" ry="3.0" transform="rotate(-15 44.0 60.0)" fill="#40c0ff" fill-opacity="0.70"/>
<ellipse cx="58.0" cy="56.0" rx="6.0" ry="3.0" transform="rotate(0 58.0 56.0)" fill="#b000ff" fill-opacity="1.00"/>
<path d="M30.00,46.00 C30.00,43.33 32.33,39.17 34.00,36.00 C35.67,32.83 37.67,29.83 40.00,27.00 C42.33,24.17 45.00,21.50 48.00,19.00 C51.00,16.50 55.00,13.17 58.00,12.00 C61.00,10.83 65.33,10.67 66.00,12.00 C66.67,13.33 64.00,17.50 62.00,20.00 C60.00,22.50 56.67,24.33 54.00,27.00 C51.33,29.67 48.33,32.83 46.00,36.00 C43.67,39.17 42.00,43.33 40.00,46.00 C38.00,48.67 35.67,52.00 34.00,52.00 C32.33,52.00 30.00,48.67 30.00,46.00 Z" fill="#ff00ff" fill-opacity="0.90"/>
<path d="M23.00,50.00 C22.67,48.00 24.67,43.33 26.00,40.00 C27.33,36.67 29.00,33.17 31.00,30.00 C33.00,26.83 35.17,24.00 38.00,21.00 C40.83,18.00 44.67,14.17 48.00,12.00 C51.33,9.83 55.33,8.33 58.00,8.00 C60.67,7.67 64.00,8.33 64.00,10.00 C64.00,11.67 60.67,15.33 58.00,18.00 C55.33,20.67 51.00,23.00 48.00,26.00 C45.00,29.00 42.50,32.67 40.00,36.00 C37.50,39.33 35.00,43.33 33.00,46.00 C31.00,48.67 29.67,51.33 28.00,52.00 C26.33,52.67 23.33,52.00 23.00,50.00 Z" fill="#b0ff00" fill-opacity="1.00"/>
<ellipse cx="36.0" cy="35.0" rx="4.0" ry="4.0" transform="rotate(0 36.0 35.0)" fill="#ffff00" fill-opacity="1.00"/>
<ellipse cx="50.0" cy="14.0" rx="5.0" ry="3.0" transform="rotate(0 50.0 14.0)" fill="#00ff00" fill-opacity="1.00"/>
<ellipse cx="44.0" cy="22.0" rx="4.0" ry="2.0" transform="rotate(-40 44.0 22.0)" fill="#ffff00" fill-opacity="1.00"/>
<ellipse cx="62.0" cy="10.0" rx="3.0" ry="2.0" transform="rotate(0 62.0 10.0)" fill="#ff0000" fill-opacity="1.00"/>
<ellipse cx="40.0" cy="30.0" rx="3.0" ry="3.0" transform="rotate(0 40.0 30.0)" fill="#ff00ff" fill-opacity="1.00"/>
<ellipse cx="55.0" cy="72.0" rx="10.0" ry="3.0" transform="rotate(-20 55.0 72.0)" fill="#00ffff" fill-opacity="0.80"/>
<ellipse cx="40.0" cy="80.0" rx="8.0" ry="3.0" transform="rotate(0 40.0 80.0)" fill="#00ffff" fill-opacity="0.70"/>
<ellipse cx="68.0" cy="70.0" rx="5.0" ry="3.0" transform="rotate(0 68.0 70.0)" fill="#00ffff" fill-opacity="0.70"/>
<ellipse cx="22.0" cy="78.0" rx="4.0" ry="2.0" transform="rotate(0 22.0 78.0)" fill="#ff0000" fill-opacity="1.00"/>
<ellipse cx="20.0" cy="85.0" rx="3.0" ry="2.0" transform="rotate(0 20.0 85.0)" fill="#ff0000" fill-opacity="1.00"/>
<ellipse cx="55.0" cy="86.0" rx="5.0" ry="3.0" transform="rotate(0 55.0 86.0)" fill="#ff0000" fill-opacity="1.00"/>
<ellipse cx="53.0" cy="82.0" rx="4.0" ry="2.0" transform="rotate(0 53.0 82.0)" fill="#ffff00" fill-opacity="1.00"/>
<ellipse cx="80.0" cy="66.0" rx="4.0" ry="5.0" transform="rotate(0 80.0 66.0)" fill="#b0ff00" fill-opacity="1.00"/>
<ellipse cx="82.0" cy="56.0" rx="3.0" ry="4.0" transform="rotate(0 82.0 56.0)" fill="#ffff00" fill-opacity="1.00"/>
</g>
<path d="M61.00,9.60 C60.75,12.00 59.50,18.93 59.50,24.00 C59.50,29.07 60.75,37.33 61.00,40.00" fill="none" stroke="#ff0000" stroke-width="0.70" stroke-opacity="0.90" stroke-linecap="round"/>
<path d="M64.00,13.00 C64.17,14.00 64.00,17.33 65.00,19.00 C66.00,20.67 68.17,22.00 70.00,23.00 C71.83,24.00 74.17,24.17 76.00,25.00 C77.83,25.83 80.17,27.50 81.00,28.00" fill="none" stroke="#ff0000" stroke-width="0.70" stroke-opacity="0.90" stroke-linecap="round"/>
<path d="M76.00,27.00 C75.00,28.00 71.67,31.33 70.00,33.00 C68.33,34.67 66.67,36.33 66.00,37.00" fill="none" stroke="#ff0000" stroke-width="0.70" stroke-opacity="0.90" stroke-linecap="round"/>
<path d="M32.00,53.00 C33.67,54.33 38.75,58.58 42.00,61.00 C45.25,63.42 48.58,64.83 51.50,67.50 C54.42,70.17 56.83,74.92 59.50,77.00 C62.17,79.08 66.17,79.50 67.50,80.00" fill="none" stroke="#ff0000" stroke-width="0.70" stroke-opacity="0.90" stroke-linecap="round"/>
<path d="M24.00,64.00 C26.67,63.25 33.83,61.33 40.00,59.50 C46.17,57.67 55.67,53.80 61.00,53.00 C66.33,52.20 68.83,53.87 72.00,54.70 C75.17,55.53 78.67,57.45 80.00,58.00" fill="none" stroke="#ff0000" stroke-width="0.70" stroke-opacity="0.90" stroke-linecap="round"/>
<path d="M21.00,80.00 C22.33,79.27 25.50,76.60 29.00,75.60 C32.50,74.60 37.72,73.77 42.00,74.00 C46.28,74.23 52.58,76.50 54.70,77.00" fill="none" stroke="#ff0000" stroke-width="0.70" stroke-opacity="0.90" stroke-linecap="round"/>
<path d="M21.00,82.00 C22.83,83.33 28.00,87.83 32.00,90.00 C36.00,92.17 42.83,94.17 45.00,95.00" fill="none" stroke="#ff0000" stroke-width="0.70" stroke-opacity="0.90" stroke-linecap="round"/>
<path d="M32.00,87.00 C33.33,87.17 37.33,87.77 40.00,88.00 C42.67,88.23 46.67,88.33 48.00,88.40" fill="none" stroke="#ff0000" stroke-width="0.70" stroke-opacity="0.90" stroke-linecap="round"/>
</g>
<use href="#olb" fill="none" stroke="#fff" stroke-opacity="0.7" stroke-width="2.8"/>
<use href="#olb" fill="none" stroke="#000" stroke-width="1.8"/>
<rect x="0" y="0" width="100.00" height="107.35" fill="none" stroke="#3a3a3a" stroke-width="1.1"/>
</g>
<g transform="translate(479.30,138.42)">
<rect x="0.5" y="0.5" width="98" height="106.3" fill="#fff1fc"/>
<g clip-path="url(#clipb)">
<rect x="0" y="0" width="100" height="108" fill="#c000ff"/>
<g filter="url(#bl1)">
<ellipse cx="62.0" cy="30.0" rx="16.0" ry="12.0" transform="rotate(-30 62.0 30.0)" fill="#e000ff" fill-opacity="0.70"/>
<ellipse cx="65.0" cy="50.0" rx="10.0" ry="6.0" transform="rotate(0 65.0 50.0)" fill="#8000ff" fill-opacity="0.50"/>
<path d="M23.00,50.00 C22.67,48.00 24.67,43.33 26.00,40.00 C27.33,36.67 29.00,33.17 31.00,30.00 C33.00,26.83 35.17,24.00 38.00,21.00 C40.83,18.00 44.67,14.17 48.00,12.00 C51.33,9.83 55.33,8.33 58.00,8.00 C60.67,7.67 64.00,8.33 64.00,10.00 C64.00,11.67 60.67,15.33 58.00,18.00 C55.33,20.67 51.00,23.00 48.00,26.00 C45.00,29.00 42.50,32.67 40.00,36.00 C37.50,39.33 35.00,43.33 33.00,46.00 C31.00,48.67 29.67,51.33 28.00,52.00 C26.33,52.67 23.33,52.00 23.00,50.00 Z" fill="#ffff00" fill-opacity="1.00"/>
<ellipse cx="40.0" cy="28.0" rx="6.0" ry="4.0" transform="rotate(-45 40.0 28.0)" fill="#ffffff" fill-opacity="1.00"/>
<ellipse cx="48.0" cy="16.0" rx="5.0" ry="3.0" transform="rotate(-30 48.0 16.0)" fill="#ffffff" fill-opacity="1.00"/>
<ellipse cx="32.0" cy="44.0" rx="3.0" ry="3.0" transform="rotate(0 32.0 44.0)" fill="#00ff00" fill-opacity="1.00"/>
<ellipse cx="60.0" cy="10.0" rx="3.0" ry="2.0" transform="rotate(0 60.0 10.0)" fill="#00ff00" fill-opacity="1.00"/>
<ellipse cx="36.0" cy="62.0" rx="12.0" ry="2.5" transform="rotate(-15 36.0 62.0)" fill="#00ffff" fill-opacity="1.00"/>
<ellipse cx="40.0" cy="68.0" rx="14.0" ry="2.5" transform="rotate(-15 40.0 68.0)" fill="#0000ff" fill-opacity="1.00"/>
<ellipse cx="38.0" cy="76.0" rx="14.0" ry="2.5" transform="rotate(-15 38.0 76.0)" fill="#00ffff" fill-opacity="1.00"/>
<ellipse cx="32.0" cy="84.0" rx="10.0" ry="2.0" transform="rotate(-15 32.0 84.0)" fill="#0000ff" fill-opacity="1.00"/>
<ellipse cx="40.0" cy="91.0" rx="9.0" ry="2.0" transform="rotate(-10 40.0 91.0)" fill="#0000ff" fill-opacity="1.00"/>
<ellipse cx="55.0" cy="78.0" rx="6.0" ry="2.0" transform="rotate(-15 55.0 78.0)" fill="#40c0ff" fill-opacity="1.00"/>
<ellipse cx="60.0" cy="60.0" rx="5.0" ry="2.0" transform="rotate(0 60.0 60.0)" fill="#40c0ff" fill-opacity="0.80"/>
<ellipse cx="22.0" cy="84.0" rx="3.0" ry="2.0" transform="rotate(0 22.0 84.0)" fill="#ffff00" fill-opacity="1.00"/>
<ellipse cx="52.0" cy="84.0" rx="3.0" ry="2.0" transform="rotate(0 52.0 84.0)" fill="#ffff00" fill-opacity="1.00"/>
<ellipse cx="80.0" cy="64.0" rx="3.0" ry="4.0" transform="rotate(0 80.0 64.0)" fill="#ffff00" fill-opacity="1.00"/>
<ellipse cx="70.0" cy="64.0" rx="3.0" ry="2.0" transform="rotate(0 70.0 64.0)" fill="#40c0ff" fill-opacity="1.00"/>
</g>
<path d="M61.00,9.60 C60.75,12.00 59.50,18.93 59.50,24.00 C59.50,29.07 60.75,37.33 61.00,40.00" fill="none" stroke="#ff0000" stroke-width="0.70" stroke-opacity="0.90" stroke-linecap="round"/>
<path d="M64.00,13.00 C64.17,14.00 64.00,17.33 65.00,19.00 C66.00,20.67 68.17,22.00 70.00,23.00 C71.83,24.00 74.17,24.17 76.00,25.00 C77.83,25.83 80.17,27.50 81.00,28.00" fill="none" stroke="#ff0000" stroke-width="0.70" stroke-opacity="0.90" stroke-linecap="round"/>
<path d="M76.00,27.00 C75.00,28.00 71.67,31.33 70.00,33.00 C68.33,34.67 66.67,36.33 66.00,37.00" fill="none" stroke="#ff0000" stroke-width="0.70" stroke-opacity="0.90" stroke-linecap="round"/>
<path d="M32.00,53.00 C33.67,54.33 38.75,58.58 42.00,61.00 C45.25,63.42 48.58,64.83 51.50,67.50 C54.42,70.17 56.83,74.92 59.50,77.00 C62.17,79.08 66.17,79.50 67.50,80.00" fill="none" stroke="#0000ff" stroke-width="0.70" stroke-opacity="0.90" stroke-linecap="round"/>
<path d="M24.00,64.00 C26.67,63.25 33.83,61.33 40.00,59.50 C46.17,57.67 55.67,53.80 61.00,53.00 C66.33,52.20 68.83,53.87 72.00,54.70 C75.17,55.53 78.67,57.45 80.00,58.00" fill="none" stroke="#ff0000" stroke-width="0.70" stroke-opacity="0.90" stroke-linecap="round"/>
<path d="M21.00,80.00 C22.33,79.27 25.50,76.60 29.00,75.60 C32.50,74.60 37.72,73.77 42.00,74.00 C46.28,74.23 52.58,76.50 54.70,77.00" fill="none" stroke="#ff0000" stroke-width="0.70" stroke-opacity="0.90" stroke-linecap="round"/>
<path d="M21.00,82.00 C22.83,83.33 28.00,87.83 32.00,90.00 C36.00,92.17 42.83,94.17 45.00,95.00" fill="none" stroke="#ff0000" stroke-width="0.70" stroke-opacity="0.90" stroke-linecap="round"/>
<path d="M32.00,87.00 C33.33,87.17 37.33,87.77 40.00,88.00 C42.67,88.23 46.67,88.33 48.00,88.40" fill="none" stroke="#ff0000" stroke-width="0.70" stroke-opacity="0.90" stroke-linecap="round"/>
</g>
<use href="#olb" fill="none" stroke="#fff" stroke-opacity="0.7" stroke-width="2.8"/>
<use href="#olb" fill="none" stroke="#000" stroke-width="1.8"/>
<rect x="0" y="0" width="100.00" height="107.35" fill="none" stroke="#3a3a3a" stroke-width="1.1"/>
</g>
<g transform="translate(584.25,138.42)">
<rect x="0.5" y="0.5" width="98" height="106.3" fill="#fff1fc"/>
<g clip-path="url(#clipb)">
<rect x="0" y="0" width="100" height="108" fill="#ffffff"/>
<g filter="url(#bl2)">
<ellipse cx="38.0" cy="58.0" rx="16.0" ry="12.0" transform="rotate(-30 38.0 58.0)" fill="#ffffc0" fill-opacity="1.00"/>
<ellipse cx="28.0" cy="62.0" rx="5.0" ry="5.0" transform="rotate(0 28.0 62.0)" fill="#ffff80" fill-opacity="1.00"/>
<ellipse cx="40.0" cy="28.0" rx="10.0" ry="8.0" transform="rotate(-30 40.0 28.0)" fill="#ffd0ff" fill-opacity="1.00"/>
<ellipse cx="66.0" cy="14.0" rx="5.0" ry="4.0" transform="rotate(0 66.0 14.0)" fill="#ff90ff" fill-opacity="0.70"/>
<ellipse cx="82.0" cy="40.0" rx="4.0" ry="14.0" transform="rotate(0 82.0 40.0)" fill="#ffd0ff" fill-opacity="1.00"/>
<ellipse cx="78.0" cy="62.0" rx="4.0" ry="5.0" transform="rotate(0 78.0 62.0)" fill="#ff90ff" fill-opacity="0.60"/>
<ellipse cx="52.0" cy="80.0" rx="6.0" ry="3.0" transform="rotate(0 52.0 80.0)" fill="#ff90ff" fill-opacity="0.50"/>
<ellipse cx="30.0" cy="96.0" rx="6.0" ry="3.0" transform="rotate(0 30.0 96.0)" fill="#ffd0ff" fill-opacity="1.00"/>
<ellipse cx="58.0" cy="86.0" rx="3.0" ry="2.0" transform="rotate(0 58.0 86.0)" fill="#ffff00" fill-opacity="1.00"/>
</g>
<path d="M61.00,9.60 C60.75,12.00 59.50,18.93 59.50,24.00 C59.50,29.07 60.75,37.33 61.00,40.00" fill="none" stroke="#ff0000" stroke-width="0.60" stroke-opacity="0.80" stroke-linecap="round" stroke-dasharray="1.2 1.3"/>
<path d="M64.00,13.00 C64.17,14.00 64.00,17.33 65.00,19.00 C66.00,20.67 68.17,22.00 70.00,23.00 C71.83,24.00 74.17,24.17 76.00,25.00 C77.83,25.83 80.17,27.50 81.00,28.00" fill="none" stroke="#ff0000" stroke-width="0.60" stroke-opacity="0.80" stroke-linecap="round" stroke-dasharray="1.2 1.3"/>
<path d="M76.00,27.00 C75.00,28.00 71.67,31.33 70.00,33.00 C68.33,34.67 66.67,36.33 66.00,37.00" fill="none" stroke="#0000ff" stroke-width="0.60" stroke-opacity="0.80" stroke-linecap="round" stroke-dasharray="1.2 1.3"/>
<path d="M32.00,53.00 C33.67,54.33 38.75,58.58 42.00,61.00 C45.25,63.42 48.58,64.83 51.50,67.50 C54.42,70.17 56.83,74.92 59.50,77.00 C62.17,79.08 66.17,79.50 67.50,80.00" fill="none" stroke="#0000ff" stroke-width="0.60" stroke-opacity="0.80" stroke-linecap="round" stroke-dasharray="1.2 1.3"/>
<path d="M24.00,64.00 C26.67,63.25 33.83,61.33 40.00,59.50 C46.17,57.67 55.67,53.80 61.00,53.00 C66.33,52.20 68.83,53.87 72.00,54.70 C75.17,55.53 78.67,57.45 80.00,58.00" fill="none" stroke="#ff0000" stroke-width="0.60" stroke-opacity="0.80" stroke-linecap="round" stroke-dasharray="1.2 1.3"/>
<path d="M21.00,80.00 C22.33,79.27 25.50,76.60 29.00,75.60 C32.50,74.60 37.72,73.77 42.00,74.00 C46.28,74.23 52.58,76.50 54.70,77.00" fill="none" stroke="#ff0000" stroke-width="0.60" stroke-opacity="0.80" stroke-linecap="round" stroke-dasharray="1.2 1.3"/>
<path d="M21.00,82.00 C22.83,83.33 28.00,87.83 32.00,90.00 C36.00,92.17 42.83,94.17 45.00,95.00" fill="none" stroke="#ff0000" stroke-width="0.60" stroke-opacity="0.80" stroke-linecap="round" stroke-dasharray="1.2 1.3"/>
<path d="M32.00,87.00 C33.33,87.17 37.33,87.77 40.00,88.00 C42.67,88.23 46.67,88.33 48.00,88.40" fill="none" stroke="#ff0000" stroke-width="0.60" stroke-opacity="0.80" stroke-linecap="round" stroke-dasharray="1.2 1.3"/>
</g>
<use href="#olb" fill="none" stroke="#fff" stroke-opacity="0.7" stroke-width="2.8"/>
<use href="#olb" fill="none" stroke="#000" stroke-width="1.8"/>
<rect x="0" y="0" width="100.00" height="107.35" fill="none" stroke="#3a3a3a" stroke-width="1.1"/>
</g>
<g transform="translate(59.50,255.49)">
<rect x="0.5" y="0.5" width="98" height="106.3" fill="#fff1fc"/>
<g clip-path="url(#clipc)">
<rect x="0" y="0" width="100" height="108" fill="#0000ff"/>
<g filter="url(#bl1)">
<path d="M30.00,44.00 C31.67,42.00 35.83,38.50 40.00,37.00 C44.17,35.50 50.00,34.83 55.00,35.00 C60.00,35.17 65.17,36.33 70.00,38.00 C74.83,39.67 82.33,43.00 84.00,45.00 C85.67,47.00 84.00,49.33 80.00,50.00 C76.00,50.67 66.67,49.17 60.00,49.00 C53.33,48.83 45.00,49.00 40.00,49.00 C35.00,49.00 31.67,49.83 30.00,49.00 C28.33,48.17 28.33,46.00 30.00,44.00 Z" fill="#40c0ff" fill-opacity="0.65"/>
<ellipse cx="52.0" cy="40.0" rx="10.0" ry="3.0" transform="rotate(0 52.0 40.0)" fill="#00ffff" fill-opacity="0.60"/>
<ellipse cx="34.0" cy="36.0" rx="6.0" ry="6.0" transform="rotate(0 34.0 36.0)" fill="#40c0ff" fill-opacity="0.35"/>
<ellipse cx="51.0" cy="44.0" rx="7.0" ry="3.5" transform="rotate(0 51.0 44.0)" fill="#b000ff" fill-opacity="1.00"/>
<path d="M45.00,52.00 C46.33,50.33 49.83,49.83 52.00,50.00 C54.17,50.17 57.00,50.67 58.00,53.00 C59.00,55.33 58.67,61.00 58.00,64.00 C57.33,67.00 56.00,70.33 54.00,71.00 C52.00,71.67 47.67,69.83 46.00,68.00 C44.33,66.17 44.17,62.67 44.00,60.00 C43.83,57.33 43.67,53.67 45.00,52.00 Z" fill="#ff00ff" fill-opacity="1.00"/>
<ellipse cx="52.0" cy="58.0" rx="4.0" ry="3.0" transform="rotate(0 52.0 58.0)" fill="#b000ff" fill-opacity="1.00"/>
<path d="M54.00,50.00 C55.67,47.67 62.00,47.67 66.00,48.00 C70.00,48.33 75.67,50.00 78.00,52.00 C80.33,54.00 80.67,57.67 80.00,60.00 C79.33,62.33 76.67,64.67 74.00,66.00 C71.33,67.33 67.00,68.67 64.00,68.00 C61.00,67.33 57.67,65.00 56.00,62.00 C54.33,59.00 52.33,52.33 54.00,50.00 Z" fill="#00ff00" fill-opacity="1.00"/>
<ellipse cx="60.0" cy="54.0" rx="4.0" ry="2.5" transform="rotate(0 60.0 54.0)" fill="#ffff00" fill-opacity="1.00"/>
<ellipse cx="74.0" cy="55.0" rx="4.0" ry="3.0" transform="rotate(0 74.0 55.0)" fill="#b0ff00" fill-opacity="1.00"/>
<ellipse cx="77.0" cy="54.0" rx="7.0" ry="5.0" transform="rotate(0 77.0 54.0)" fill="#ff8000" fill-opacity="0.55"/>
<ellipse cx="80.0" cy="62.0" rx="4.0" ry="6.0" transform="rotate(0 80.0 62.0)" fill="#ff0000" fill-opacity="0.40"/>
<path d="M50.00,73.00 C51.17,70.33 54.00,68.50 57.00,67.00 C60.00,65.50 64.83,64.00 68.00,64.00 C71.17,64.00 75.00,64.67 76.00,67.00 C77.00,69.33 75.67,74.83 74.00,78.00 C72.33,81.17 68.83,84.33 66.00,86.00 C63.17,87.67 59.67,88.50 57.00,88.00 C54.33,87.50 51.17,85.50 50.00,83.00 C48.83,80.50 48.83,75.67 50.00,73.00 Z" fill="#ff0000" fill-opacity="1.00"/>
<ellipse cx="72.0" cy="76.0" rx="3.0" ry="3.0" transform="rotate(0 72.0 76.0)" fill="#b0ff00" fill-opacity="0.70"/>
<ellipse cx="36.0" cy="51.5" rx="4.0" ry="1.8" transform="rotate(-10 36.0 51.5)" fill="#ff0000" fill-opacity="1.00"/>
<ellipse cx="38.0" cy="60.0" rx="5.0" ry="2.0" transform="rotate(-10 38.0 60.0)" fill="#ff0000" fill-opacity="1.00"/>
<ellipse cx="37.0" cy="70.0" rx="3.0" ry="1.2" transform="rotate(0 37.0 70.0)" fill="#ff0000" fill-opacity="1.00"/>
<ellipse cx="30.0" cy="54.0" rx="3.0" ry="3.0" transform="rotate(0 30.0 54.0)" fill="#b0ff00" fill-opacity="0.50"/>
<ellipse cx="28.0" cy="46.0" rx="4.0" ry="4.0" transform="rotate(0 28.0 46.0)" fill="#b0ff00" fill-opacity="0.40"/>
<ellipse cx="47.0" cy="96.0" rx="4.0" ry="2.5" transform="rotate(0 47.0 96.0)" fill="#ff0000" fill-opacity="1.00"/>
<ellipse cx="33.0" cy="85.0" rx="3.0" ry="1.2" transform="rotate(0 33.0 85.0)" fill="#ff0000" fill-opacity="1.00"/>
</g>
<use href="#olc" fill="none" stroke="#40c0ff" stroke-opacity="0.22" stroke-width="6" filter="url(#bl1)"/>
<path d="M74.00,11.00 C75.00,11.58 78.17,12.83 80.00,14.50 C81.83,16.17 84.17,19.92 85.00,21.00" fill="none" stroke="#ff0000" stroke-width="0.60" stroke-opacity="0.75" stroke-linecap="round"/>
<path d="M61.00,13.00 C60.75,14.83 59.33,20.33 59.50,24.00 C59.67,27.67 60.67,32.83 62.00,35.00 C63.33,37.17 65.50,38.33 67.50,37.00 C69.50,35.67 71.92,30.22 74.00,27.00 C76.08,23.78 79.00,19.25 80.00,17.70" fill="none" stroke="#ff0000" stroke-width="0.60" stroke-opacity="0.75" stroke-linecap="round"/>
<path d="M32.00,59.50 C33.83,59.25 39.00,58.80 43.00,58.00 C47.00,57.20 51.92,55.03 56.00,54.70 C60.08,54.37 64.23,54.95 67.50,56.00 C70.77,57.05 74.25,60.17 75.60,61.00" fill="none" stroke="#ff0000" stroke-width="0.60" stroke-opacity="0.75" stroke-linecap="round"/>
<path d="M29.00,53.00 C30.33,54.33 34.67,58.33 37.00,61.00 C39.33,63.67 40.58,66.33 43.00,69.00 C45.42,71.67 48.75,74.57 51.50,77.00 C54.25,79.43 58.17,82.50 59.50,83.60" fill="none" stroke="#ff0000" stroke-width="0.60" stroke-opacity="0.75" stroke-linecap="round"/>
<path d="M25.70,69.00 C26.75,70.33 30.12,74.33 32.00,77.00 C33.88,79.67 34.83,82.33 37.00,85.00 C39.17,87.67 43.17,90.83 45.00,93.00 C46.83,95.17 47.50,97.17 48.00,98.00" fill="none" stroke="#ff0000" stroke-width="0.60" stroke-opacity="0.75" stroke-linecap="round"/>
<path d="M25.70,96.50 C27.32,96.58 32.18,97.13 35.40,97.00 C38.62,96.87 43.40,95.92 45.00,95.70" fill="none" stroke="#ff0000" stroke-width="0.60" stroke-opacity="0.75" stroke-linecap="round"/>
<path d="M22.50,85.00 C24.65,85.33 31.15,87.00 35.40,87.00 C39.65,87.00 45.90,85.33 48.00,85.00" fill="none" stroke="#ff0000" stroke-width="0.60" stroke-opacity="0.75" stroke-linecap="round"/>
</g>
<use href="#olc" fill="none" stroke="#fff" stroke-opacity="0.7" stroke-width="2.8"/>
<use href="#olc" fill="none" stroke="#000" stroke-width="1.8"/>
<ellipse cx="64.2" cy="83.4" rx="2.3" ry="1.5" fill="#000"/>
<rect x="0" y="0" width="100.00" height="107.35" fill="none" stroke="#3a3a3a" stroke-width="1.1"/>
</g>
<g transform="translate(164.45,255.49)">
<rect x="0.5" y="0.5" width="98" height="106.3" fill="#fff1fc"/>
<g clip-path="url(#clipc)">
<rect x="0" y="0" width="100" height="108" fill="#0000ff"/>
<g filter="url(#bl1)">
<ellipse cx="44.0" cy="28.0" rx="9.0" ry="6.0" transform="rotate(-20 44.0 28.0)" fill="#40c0ff" fill-opacity="0.75"/>
<ellipse cx="70.0" cy="29.0" rx="6.0" ry="3.0" transform="rotate(0 70.0 29.0)" fill="#00ffff" fill-opacity="0.70"/>
<ellipse cx="52.0" cy="16.0" rx="8.0" ry="5.0" transform="rotate(0 52.0 16.0)" fill="#40c0ff" fill-opacity="0.45"/>
<ellipse cx="74.0" cy="42.0" rx="8.0" ry="8.0" transform="rotate(0 74.0 42.0)" fill="#40c0ff" fill-opacity="0.45"/>
<path d="M27.00,41.00 C28.17,38.50 31.17,34.50 35.00,33.00 C38.83,31.50 45.50,31.50 50.00,32.00 C54.50,32.50 60.00,34.00 62.00,36.00 C64.00,38.00 64.00,42.17 62.00,44.00 C60.00,45.83 54.33,46.33 50.00,47.00 C45.67,47.67 39.67,47.83 36.00,48.00 C32.33,48.17 29.50,49.17 28.00,48.00 C26.50,46.83 25.83,43.50 27.00,41.00 Z" fill="#b000ff" fill-opacity="1.00"/>
<ellipse cx="47.0" cy="42.0" rx="6.0" ry="4.0" transform="rotate(0 47.0 42.0)" fill="#ff00ff" fill-opacity="1.00"/>
<ellipse cx="58.0" cy="47.0" rx="18.0" ry="3.5" transform="rotate(-10 58.0 47.0)" fill="#00ffff" fill-opacity="0.75"/>
<path d="M32.00,53.00 C34.00,51.67 40.00,50.50 45.00,50.00 C50.00,49.50 56.17,49.67 62.00,50.00 C67.83,50.33 77.33,50.67 80.00,52.00 C82.67,53.33 81.00,56.67 78.00,58.00 C75.00,59.33 67.50,59.83 62.00,60.00 C56.50,60.17 49.83,59.33 45.00,59.00 C40.17,58.67 35.17,59.00 33.00,58.00 C30.83,57.00 30.00,54.33 32.00,53.00 Z" fill="#d000ff" fill-opacity="1.00"/>
<ellipse cx="51.0" cy="65.0" rx="7.0" ry="4.0" transform="rotate(0 51.0 65.0)" fill="#40c0ff" fill-opacity="0.85"/>
<ellipse cx="58.0" cy="65.0" rx="5.0" ry="5.0" transform="rotate(0 58.0 65.0)" fill="#ff00ff" fill-opacity="1.00"/>
<ellipse cx="58.0" cy="65.0" rx="2.0" ry="2.0" transform="rotate(0 58.0 65.0)" fill="#ffffff" fill-opacity="1.00"/>
<path d="M62.00,60.00 C63.67,58.33 68.67,58.33 72.00,58.00 C75.33,57.67 80.67,56.00 82.00,58.00 C83.33,60.00 82.33,67.67 80.00,70.00 C77.67,72.33 71.00,72.33 68.00,72.00 C65.00,71.67 63.00,70.00 62.00,68.00 C61.00,66.00 60.33,61.67 62.00,60.00 Z" fill="#b0ff00" fill-opacity="1.00"/>
<ellipse cx="70.0" cy="65.0" rx="4.0" ry="3.0" transform="rotate(0 70.0 65.0)" fill="#00ff00" fill-opacity="1.00"/>
<path d="M50.00,78.00 C51.17,76.83 55.00,75.33 58.00,75.00 C61.00,74.67 66.50,74.83 68.00,76.00 C69.50,77.17 68.67,80.67 67.00,82.00 C65.33,83.33 60.67,84.00 58.00,84.00 C55.33,84.00 52.33,83.00 51.00,82.00 C49.67,81.00 48.83,79.17 50.00,78.00 Z" fill="#ff0000" fill-opacity="1.00"/>
<ellipse cx="32.0" cy="50.0" rx="5.0" ry="2.0" transform="rotate(0 32.0 50.0)" fill="#b0ff00" fill-opacity="1.00"/>
<ellipse cx="32.0" cy="59.0" rx="5.0" ry="2.0" transform="rotate(0 32.0 59.0)" fill="#ffff00" fill-opacity="0.80"/>
<ellipse cx="30.0" cy="75.0" rx="5.0" ry="3.0" transform="rotate(0 30.0 75.0)" fill="#40c0ff" fill-opacity="0.50"/>
<ellipse cx="36.0" cy="86.0" rx="5.0" ry="3.0" transform="rotate(0 36.0 86.0)" fill="#40c0ff" fill-opacity="0.40"/>
<ellipse cx="47.0" cy="95.0" rx="3.0" ry="2.0" transform="rotate(0 47.0 95.0)" fill="#ffff00" fill-opacity="1.00"/>
<ellipse cx="26.0" cy="64.0" rx="3.0" ry="2.0" transform="rotate(0 26.0 64.0)" fill="#ff00ff" fill-opacity="0.70"/>
</g>
<use href="#olc" fill="none" stroke="#40c0ff" stroke-opacity="0.22" stroke-width="6" filter="url(#bl1)"/>
<path d="M74.00,11.00 C75.00,11.58 78.17,12.83 80.00,14.50 C81.83,16.17 84.17,19.92 85.00,21.00" fill="none" stroke="#ff0000" stroke-width="1.10" stroke-opacity="0.90" stroke-linecap="round"/>
<path d="M61.00,13.00 C60.75,14.83 59.33,20.33 59.50,24.00 C59.67,27.67 60.67,32.83 62.00,35.00 C63.33,37.17 65.50,38.33 67.50,37.00 C69.50,35.67 71.92,30.22 74.00,27.00 C76.08,23.78 79.00,19.25 80.00,17.70" fill="none" stroke="#ff0000" stroke-width="1.10" stroke-opacity="0.90" stroke-linecap="round"/>
<path d="M32.00,59.50 C33.83,59.25 39.00,58.80 43.00,58.00 C47.00,57.20 51.92,55.03 56.00,54.70 C60.08,54.37 64.23,54.95 67.50,56.00 C70.77,57.05 74.25,60.17 75.60,61.00" fill="none" stroke="#ff0000" stroke-width="1.10" stroke-opacity="0.90" stroke-linecap="round"/>
<path d="M29.00,53.00 C30.33,54.33 34.67,58.33 37.00,61.00 C39.33,63.67 40.58,66.33 43.00,69.00 C45.42,71.67 48.75,74.57 51.50,77.00 C54.25,79.43 58.17,82.50 59.50,83.60" fill="none" stroke="#ff0000" stroke-width="1.10" stroke-opacity="0.90" stroke-linecap="round"/>
<path d="M25.70,69.00 C26.75,70.33 30.12,74.33 32.00,77.00 C33.88,79.67 34.83,82.33 37.00,85.00 C39.17,87.67 43.17,90.83 45.00,93.00 C46.83,95.17 47.50,97.17 48.00,98.00" fill="none" stroke="#ff0000" stroke-width="1.10" stroke-opacity="0.90" stroke-linecap="round"/>
<path d="M25.70,96.50 C27.32,96.58 32.18,97.13 35.40,97.00 C38.62,96.87 43.40,95.92 45.00,95.70" fill="none" stroke="#ff0000" stroke-width="1.10" stroke-opacity="0.90" stroke-linecap="round"/>
<path d="M22.50,85.00 C24.65,85.33 31.15,87.00 35.40,87.00 C39.65,87.00 45.90,85.33 48.00,85.00" fill="none" stroke="#ff0000" stroke-width="1.10" stroke-opacity="0.90" stroke-linecap="round"/>
</g>
<use href="#olc" fill="none" stroke="#fff" stroke-opacity="0.7" stroke-width="2.8"/>
<use href="#olc" fill="none" stroke="#000" stroke-width="1.8"/>
<ellipse cx="64.2" cy="83.4" rx="2.3" ry="1.5" fill="#000"/>
<rect x="0" y="0" width="100.00" height="107.35" fill="none" stroke="#3a3a3a" stroke-width="1.1"/>
</g>
<g transform="translate(269.40,255.49)">
<rect x="0.5" y="0.5" width="98" height="106.3" fill="#fff1fc"/>
<g clip-path="url(#clipc)">
<rect x="0" y="0" width="100" height="108" fill="#0000ff"/>
<g filter="url(#bl1)">
<ellipse cx="48.0" cy="22.0" rx="13.0" ry="9.0" transform="rotate(-20 48.0 22.0)" fill="#40c0ff" fill-opacity="0.65"/>
<ellipse cx="34.0" cy="34.0" rx="7.0" ry="10.0" transform="rotate(30 34.0 34.0)" fill="#40c0ff" fill-opacity="0.55"/>
<ellipse cx="68.0" cy="30.0" rx="8.0" ry="6.0" transform="rotate(0 68.0 30.0)" fill="#40c0ff" fill-opacity="0.55"/>
<ellipse cx="66.0" cy="18.0" rx="6.0" ry="4.0" transform="rotate(0 66.0 18.0)" fill="#0000ff" fill-opacity="1.00"/>
<path d="M26.00,40.00 C27.00,37.17 31.17,34.33 36.00,33.00 C40.83,31.67 48.50,31.50 55.00,32.00 C61.50,32.50 69.83,34.00 75.00,36.00 C80.17,38.00 84.50,41.33 86.00,44.00 C87.50,46.67 87.50,50.67 84.00,52.00 C80.50,53.33 71.50,52.00 65.00,52.00 C58.50,52.00 50.83,52.33 45.00,52.00 C39.17,51.67 33.17,52.00 30.00,50.00 C26.83,48.00 25.00,42.83 26.00,40.00 Z" fill="#b000ff" fill-opacity="1.00"/>
<ellipse cx="54.0" cy="44.0" rx="10.0" ry="5.0" transform="rotate(0 54.0 44.0)" fill="#ff00ff" fill-opacity="1.00"/>
<path d="M43.00,54.00 C44.00,51.33 49.17,51.67 52.00,52.00 C54.83,52.33 58.67,53.67 60.00,56.00 C61.33,58.33 60.83,63.33 60.00,66.00 C59.17,68.67 57.33,71.67 55.00,72.00 C52.67,72.33 48.00,71.00 46.00,68.00 C44.00,65.00 42.00,56.67 43.00,54.00 Z" fill="#ff00ff" fill-opacity="1.00"/>
<ellipse cx="52.0" cy="62.0" rx="3.0" ry="3.0" transform="rotate(0 52.0 62.0)" fill="#ffffff" fill-opacity="0.80"/>
<path d="M59.00,53.00 C60.67,50.50 66.83,50.50 70.00,51.00 C73.17,51.50 76.83,53.17 78.00,56.00 C79.17,58.83 78.67,65.33 77.00,68.00 C75.33,70.67 70.83,72.33 68.00,72.00 C65.17,71.67 61.50,69.17 60.00,66.00 C58.50,62.83 57.33,55.50 59.00,53.00 Z" fill="#b0ff00" fill-opacity="1.00"/>
<ellipse cx="65.0" cy="56.0" rx="4.0" ry="2.5" transform="rotate(0 65.0 56.0)" fill="#ffff00" fill-opacity="1.00"/>
<ellipse cx="70.0" cy="64.0" rx="5.0" ry="3.0" transform="rotate(0 70.0 64.0)" fill="#00ff00" fill-opacity="1.00"/>
<ellipse cx="69.0" cy="70.0" rx="4.0" ry="3.0" transform="rotate(0 69.0 70.0)" fill="#ff8000" fill-opacity="1.00"/>
<path d="M50.00,78.00 C51.17,76.50 55.17,74.50 58.00,74.00 C60.83,73.50 65.50,73.67 67.00,75.00 C68.50,76.33 68.50,80.17 67.00,82.00 C65.50,83.83 60.67,85.83 58.00,86.00 C55.33,86.17 52.33,84.33 51.00,83.00 C49.67,81.67 48.83,79.50 50.00,78.00 Z" fill="#ff0000" fill-opacity="1.00"/>
<ellipse cx="82.0" cy="50.0" rx="4.0" ry="3.0" transform="rotate(0 82.0 50.0)" fill="#0000ff" fill-opacity="1.00"/>
<ellipse cx="36.0" cy="51.5" rx="4.0" ry="1.8" transform="rotate(0 36.0 51.5)" fill="#ff0000" fill-opacity="1.00"/>
<ellipse cx="30.0" cy="47.0" rx="3.0" ry="3.0" transform="rotate(0 30.0 47.0)" fill="#b0ff00" fill-opacity="0.80"/>
<ellipse cx="40.0" cy="70.0" rx="8.0" ry="5.0" transform="rotate(0 40.0 70.0)" fill="#40c0ff" fill-opacity="0.60"/>
<ellipse cx="30.0" cy="82.0" rx="6.0" ry="5.0" transform="rotate(0 30.0 82.0)" fill="#40c0ff" fill-opacity="0.50"/>
<ellipse cx="36.0" cy="62.0" rx="5.0" ry="3.0" transform="rotate(0 36.0 62.0)" fill="#ff00ff" fill-opacity="0.50"/>
<ellipse cx="47.0" cy="96.0" rx="4.0" ry="2.0" transform="rotate(0 47.0 96.0)" fill="#ff0000" fill-opacity="1.00"/>
</g>
<use href="#olc" fill="none" stroke="#40c0ff" stroke-opacity="0.22" stroke-width="6" filter="url(#bl1)"/>
<path d="M74.00,11.00 C75.00,11.58 78.17,12.83 80.00,14.50 C81.83,16.17 84.17,19.92 85.00,21.00" fill="none" stroke="#ff0000" stroke-width="0.80" stroke-opacity="0.85" stroke-linecap="round"/>
<path d="M61.00,13.00 C60.75,14.83 59.33,20.33 59.50,24.00 C59.67,27.67 60.67,32.83 62.00,35.00 C63.33,37.17 65.50,38.33 67.50,37.00 C69.50,35.67 71.92,30.22 74.00,27.00 C76.08,23.78 79.00,19.25 80.00,17.70" fill="none" stroke="#ff0000" stroke-width="0.80" stroke-opacity="0.85" stroke-linecap="round"/>
<path d="M32.00,59.50 C33.83,59.25 39.00,58.80 43.00,58.00 C47.00,57.20 51.92,55.03 56.00,54.70 C60.08,54.37 64.23,54.95 67.50,56.00 C70.77,57.05 74.25,60.17 75.60,61.00" fill="none" stroke="#ff0000" stroke-width="0.80" stroke-opacity="0.85" stroke-linecap="round"/>
<path d="M29.00,53.00 C30.33,54.33 34.67,58.33 37.00,61.00 C39.33,63.67 40.58,66.33 43.00,69.00 C45.42,71.67 48.75,74.57 51.50,77.00 C54.25,79.43 58.17,82.50 59.50,83.60" fill="none" stroke="#ff0000" stroke-width="0.80" stroke-opacity="0.85" stroke-linecap="round"/>
<path d="M25.70,69.00 C26.75,70.33 30.12,74.33 32.00,77.00 C33.88,79.67 34.83,82.33 37.00,85.00 C39.17,87.67 43.17,90.83 45.00,93.00 C46.83,95.17 47.50,97.17 48.00,98.00" fill="none" stroke="#ff0000" stroke-width="0.80" stroke-opacity="0.85" stroke-linecap="round"/>
<path d="M25.70,96.50 C27.32,96.58 32.18,97.13 35.40,97.00 C38.62,96.87 43.40,95.92 45.00,95.70" fill="none" stroke="#ff0000" stroke-width="0.80" stroke-opacity="0.85" stroke-linecap="round"/>
<path d="M22.50,85.00 C24.65,85.33 31.15,87.00 35.40,87.00 C39.65,87.00 45.90,85.33 48.00,85.00" fill="none" stroke="#ff0000" stroke-width="0.80" stroke-opacity="0.85" stroke-linecap="round"/>
</g>
<use href="#olc" fill="none" stroke="#fff" stroke-opacity="0.7" stroke-width="2.8"/>
<use href="#olc" fill="none" stroke="#000" stroke-width="1.8"/>
<ellipse cx="64.2" cy="83.4" rx="2.3" ry="1.5" fill="#000"/>
<rect x="0" y="0" width="100.00" height="107.35" fill="none" stroke="#3a3a3a" stroke-width="1.1"/>
</g>
<g transform="translate(374.35,255.49)">
<rect x="0.5" y="0.5" width="98" height="106.3" fill="#fff1fc"/>
<g clip-path="url(#clipc)">
<rect x="0" y="0" width="100" height="108" fill="#0000ff"/>
<g filter="url(#bl1)">
<path d="M40.00,22.00 C43.00,16.67 50.67,15.67 56.00,14.00 C61.33,12.33 67.33,11.00 72.00,12.00 C76.67,13.00 81.33,16.33 84.00,20.00 C86.67,23.67 87.33,29.00 88.00,34.00 C88.67,39.00 88.67,45.00 88.00,50.00 C87.33,55.00 86.00,60.00 84.00,64.00 C82.00,68.00 79.00,71.33 76.00,74.00 C73.00,76.67 69.00,80.67 66.00,80.00 C63.00,79.33 60.67,74.67 58.00,70.00 C55.33,65.33 53.33,56.00 50.00,52.00 C46.67,48.00 39.67,51.00 38.00,46.00 C36.33,41.00 37.00,27.33 40.00,22.00 Z" fill="#a000ff" fill-opacity="1.00"/>
<ellipse cx="76.0" cy="34.0" rx="9.0" ry="8.0" transform="rotate(0 76.0 34.0)" fill="#40c0ff" fill-opacity="0.55"/>
<ellipse cx="62.0" cy="30.0" rx="10.0" ry="7.0" transform="rotate(-30 62.0 30.0)" fill="#ff00ff" fill-opacity="0.60"/>
<ellipse cx="80.0" cy="56.0" rx="5.0" ry="8.0" transform="rotate(0 80.0 56.0)" fill="#ff00ff" fill-opacity="0.60"/>
<ellipse cx="70.0" cy="56.0" rx="8.0" ry="3.0" transform="rotate(0 70.0 56.0)" fill="#40c0ff" fill-opacity="0.70"/>
<ellipse cx="64.0" cy="74.0" rx="8.0" ry="4.0" transform="rotate(0 64.0 74.0)" fill="#ff00ff" fill-opacity="0.60"/>
<path d="M24.00,46.00 C22.83,43.67 25.50,39.33 27.00,36.00 C28.50,32.67 30.50,29.17 33.00,26.00 C35.50,22.83 38.83,19.67 42.00,17.00 C45.17,14.33 48.67,11.50 52.00,10.00 C55.33,8.50 59.67,7.67 62.00,8.00 C64.33,8.33 66.67,10.00 66.00,12.00 C65.33,14.00 60.67,17.33 58.00,20.00 C55.33,22.67 52.33,25.33 50.00,28.00 C47.67,30.67 45.67,33.00 44.00,36.00 C42.33,39.00 41.67,43.67 40.00,46.00 C38.33,48.33 36.67,50.00 34.00,50.00 C31.33,50.00 25.17,48.33 24.00,46.00 Z" fill="#b0ff00" fill-opacity="1.00"/>
<ellipse cx="42.0" cy="20.0" rx="6.0" ry="4.0" transform="rotate(-30 42.0 20.0)" fill="#ff00ff" fill-opacity="0.80"/>
<ellipse cx="36.0" cy="34.0" rx="4.0" ry="4.0" transform="rotate(0 36.0 34.0)" fill="#ff00ff" fill-opacity="0.60"/>
<ellipse cx="44.0" cy="30.0" rx="7.0" ry="3.0" transform="rotate(-30 44.0 30.0)" fill="#ffff00" fill-opacity="1.00"/>
<ellipse cx="56.0" cy="14.0" rx="7.0" ry="3.0" transform="rotate(-20 56.0 14.0)" fill="#ffffff" fill-opacity="0.80"/>
<ellipse cx="32.0" cy="40.0" rx="4.0" ry="5.0" transform="rotate(0 32.0 40.0)" fill="#00ff00" fill-opacity="1.00"/>
<ellipse cx="70.0" cy="11.0" rx="3.0" ry="2.0" transform="rotate(0 70.0 11.0)" fill="#ff0000" fill-opacity="1.00"/>
<ellipse cx="56.0" cy="52.0" rx="22.0" ry="4.0" transform="rotate(-10 56.0 52.0)" fill="#00ffff" fill-opacity="0.85"/>
<ellipse cx="60.0" cy="50.0" rx="6.0" ry="2.0" transform="rotate(0 60.0 50.0)" fill="#0000ff" fill-opacity="1.00"/>
<ellipse cx="66.0" cy="60.0" rx="8.0" ry="2.5" transform="rotate(-10 66.0 60.0)" fill="#40c0ff" fill-opacity="0.70"/>
<path d="M36.00,56.00 C38.00,53.00 42.67,53.67 46.00,54.00 C49.33,54.33 54.00,54.67 56.00,58.00 C58.00,61.33 58.33,69.00 58.00,74.00 C57.67,79.00 56.33,84.67 54.00,88.00 C51.67,91.33 47.00,93.67 44.00,94.00 C41.00,94.33 37.67,93.67 36.00,90.00 C34.33,86.33 34.00,77.67 34.00,72.00 C34.00,66.33 34.00,59.00 36.00,56.00 Z" fill="#0000ff" fill-opacity="1.00"/>
<path d="M20.00,56.00 C22.00,53.33 27.33,52.00 30.00,52.00 C32.67,52.00 35.00,52.67 36.00,56.00 C37.00,59.33 36.17,66.67 36.00,72.00 C35.83,77.33 35.83,83.83 35.00,88.00 C34.17,92.17 33.17,96.00 31.00,97.00 C28.83,98.00 24.33,96.17 22.00,94.00 C19.67,91.83 17.67,88.33 17.00,84.00 C16.33,79.67 17.50,72.67 18.00,68.00 C18.50,63.33 18.00,58.67 20.00,56.00 Z" fill="#c0e000" fill-opacity="0.80"/>
<ellipse cx="80.0" cy="66.0" rx="4.0" ry="5.0" transform="rotate(0 80.0 66.0)" fill="#b0ff00" fill-opacity="1.00"/>
<ellipse cx="54.0" cy="80.0" rx="7.0" ry="2.0" transform="rotate(0 54.0 80.0)" fill="#ff8000" fill-opacity="1.00"/>
<ellipse cx="66.0" cy="82.0" rx="4.0" ry="3.0" transform="rotate(0 66.0 82.0)" fill="#ff0000" fill-opacity="0.70"/>
<ellipse cx="30.0" cy="53.0" rx="4.0" ry="2.5" transform="rotate(0 30.0 53.0)" fill="#ff0000" fill-opacity="1.00"/>
<ellipse cx="28.0" cy="62.0" rx="5.0" ry="2.5" transform="rotate(0 28.0 62.0)" fill="#ff0000" fill-opacity="1.00"/>
<ellipse cx="28.0" cy="70.0" rx="5.0" ry="2.0" transform="rotate(0 28.0 70.0)" fill="#ff00ff" fill-opacity="1.00"/>
<ellipse cx="26.0" cy="78.0" rx="5.0" ry="2.0" transform="rotate(0 26.0 78.0)" fill="#ff0000" fill-opacity="1.00"/>
<ellipse cx="26.0" cy="86.0" rx="5.0" ry="2.0" transform="rotate(0 26.0 86.0)" fill="#ff0000" fill-opacity="1.00"/>
<ellipse cx="27.0" cy="93.0" rx="4.0" ry="1.5" transform="rotate(0 27.0 93.0)" fill="#ff0000" fill-opacity="1.00"/>
<ellipse cx="30.0" cy="66.0" rx="4.0" ry="2.0" transform="rotate(0 30.0 66.0)" fill="#ffff00" fill-opacity="1.00"/>
<ellipse cx="28.0" cy="82.0" rx="4.0" ry="1.5" transform="rotate(0 28.0 82.0)" fill="#ffff00" fill-opacity="1.00"/>
</g>
<path d="M74.00,11.00 C75.00,11.58 78.17,12.83 80.00,14.50 C81.83,16.17 84.17,19.92 85.00,21.00" fill="none" stroke="#ff0000" stroke-width="0.60" stroke-opacity="0.75" stroke-linecap="round"/>
<path d="M61.00,13.00 C60.75,14.83 59.33,20.33 59.50,24.00 C59.67,27.67 60.67,32.83 62.00,35.00 C63.33,37.17 65.50,38.33 67.50,37.00 C69.50,35.67 71.92,30.22 74.00,27.00 C76.08,23.78 79.00,19.25 80.00,17.70" fill="none" stroke="#ff0000" stroke-width="0.60" stroke-opacity="0.75" stroke-linecap="round"/>
<path d="M32.00,59.50 C33.83,59.25 39.00,58.80 43.00,58.00 C47.00,57.20 51.92,55.03 56.00,54.70 C60.08,54.37 64.23,54.95 67.50,56.00 C70.77,57.05 74.25,60.17 75.60,61.00" fill="none" stroke="#ff0000" stroke-width="0.60" stroke-opacity="0.75" stroke-linecap="round"/>
<path d="M29.00,53.00 C30.33,54.33 34.67,58.33 37.00,61.00 C39.33,63.67 40.58,66.33 43.00,69.00 C45.42,71.67 48.75,74.57 51.50,77.00 C54.25,79.43 58.17,82.50 59.50,83.60" fill="none" stroke="#ff0000" stroke-width="0.60" stroke-opacity="0.75" stroke-linecap="round"/>
<path d="M25.70,69.00 C26.75,70.33 30.12,74.33 32.00,77.00 C33.88,79.67 34.83,82.33 37.00,85.00 C39.17,87.67 43.17,90.83 45.00,93.00 C46.83,95.17 47.50,97.17 48.00,98.00" fill="none" stroke="#ff0000" stroke-width="0.60" stroke-opacity="0.75" stroke-linecap="round"/>
<path d="M25.70,96.50 C27.32,96.58 32.18,97.13 35.40,97.00 C38.62,96.87 43.40,95.92 45.00,95.70" fill="none" stroke="#ff0000" stroke-width="0.60" stroke-opacity="0.75" stroke-linecap="round"/>
<path d="M22.50,85.00 C24.65,85.33 31.15,87.00 35.40,87.00 C39.65,87.00 45.90,85.33 48.00,85.00" fill="none" stroke="#ff0000" stroke-width="0.60" stroke-opacity="0.75" stroke-linecap="round"/>
</g>
<use href="#olc" fill="none" stroke="#fff" stroke-opacity="0.7" stroke-width="2.8"/>
<use href="#olc" fill="none" stroke="#000" stroke-width="1.8"/>
<ellipse cx="64.2" cy="83.4" rx="2.3" ry="1.5" fill="#000"/>
<rect x="0" y="0" width="100.00" height="107.35" fill="none" stroke="#3a3a3a" stroke-width="1.1"/>
</g>
<g transform="translate(479.30,255.49)">
<rect x="0.5" y="0.5" width="98" height="106.3" fill="#fff1fc"/>
<g clip-path="url(#clipc)">
<rect x="0" y="0" width="100" height="108" fill="#d800ff"/>
<g filter="url(#bl1)">
<ellipse cx="64.0" cy="52.0" rx="16.0" ry="10.0" transform="rotate(-20 64.0 52.0)" fill="#a000ff" fill-opacity="0.60"/>
<path d="M24.00,46.00 C22.83,43.67 25.50,39.33 27.00,36.00 C28.50,32.67 30.50,29.17 33.00,26.00 C35.50,22.83 38.83,19.67 42.00,17.00 C45.17,14.33 48.67,11.50 52.00,10.00 C55.33,8.50 59.67,7.67 62.00,8.00 C64.33,8.33 66.67,10.00 66.00,12.00 C65.33,14.00 60.67,17.33 58.00,20.00 C55.33,22.67 52.33,25.33 50.00,28.00 C47.67,30.67 45.67,33.00 44.00,36.00 C42.33,39.00 41.67,43.67 40.00,46.00 C38.33,48.33 36.67,50.00 34.00,50.00 C31.33,50.00 25.17,48.33 24.00,46.00 Z" fill="#ffff00" fill-opacity="1.00"/>
<ellipse cx="42.0" cy="20.0" rx="5.0" ry="4.0" transform="rotate(-30 42.0 20.0)" fill="#ff00ff" fill-opacity="0.70"/>
<ellipse cx="55.0" cy="14.0" rx="6.0" ry="3.0" transform="rotate(-20 55.0 14.0)" fill="#ffffff" fill-opacity="1.00"/>
<ellipse cx="32.0" cy="42.0" rx="4.0" ry="5.0" transform="rotate(0 32.0 42.0)" fill="#ffffff" fill-opacity="0.80"/>
<ellipse cx="30.0" cy="50.0" rx="3.0" ry="3.0" transform="rotate(0 30.0 50.0)" fill="#00ff00" fill-opacity="1.00"/>
<path d="M20.00,56.00 C21.67,53.67 25.67,51.67 28.00,52.00 C30.33,52.33 33.00,54.33 34.00,58.00 C35.00,61.67 34.17,68.67 34.00,74.00 C33.83,79.33 34.00,86.17 33.00,90.00 C32.00,93.83 30.17,96.67 28.00,97.00 C25.83,97.33 21.83,94.83 20.00,92.00 C18.17,89.17 17.33,84.33 17.00,80.00 C16.67,75.67 17.50,70.00 18.00,66.00 C18.50,62.00 18.33,58.33 20.00,56.00 Z" fill="#b0ff00" fill-opacity="0.85"/>
<ellipse cx="24.0" cy="70.0" rx="5.0" ry="10.0" transform="rotate(0 24.0 70.0)" fill="#b0ff00" fill-opacity="1.00"/>
<ellipse cx="25.0" cy="84.0" rx="5.0" ry="6.0" transform="rotate(0 25.0 84.0)" fill="#ffff00" fill-opacity="1.00"/>
<ellipse cx="28.0" cy="57.0" rx="4.0" ry="3.0" transform="rotate(0 28.0 57.0)" fill="#00ff00" fill-opacity="1.00"/>
<ellipse cx="26.0" cy="64.0" rx="4.0" ry="1.5" transform="rotate(0 26.0 64.0)" fill="#ff0000" fill-opacity="0.80"/>
<ellipse cx="25.0" cy="88.0" rx="4.0" ry="1.5" transform="rotate(0 25.0 88.0)" fill="#ff0000" fill-opacity="0.80"/>
<ellipse cx="50.0" cy="65.0" rx="9.0" ry="3.0" transform="rotate(-10 50.0 65.0)" fill="#00ffff" fill-opacity="1.00"/>
<ellipse cx="43.0" cy="78.0" rx="9.0" ry="4.0" transform="rotate(-20 43.0 78.0)" fill="#0000ff" fill-opacity="1.00"/>
<ellipse cx="40.0" cy="90.0" rx="7.0" ry="3.0" transform="rotate(-15 40.0 90.0)" fill="#00ffff" fill-opacity="1.00"/>
<ellipse cx="50.0" cy="72.0" rx="6.0" ry="2.0" transform="rotate(0 50.0 72.0)" fill="#40c0ff" fill-opacity="1.00"/>
<ellipse cx="54.0" cy="84.0" rx="5.0" ry="2.0" transform="rotate(0 54.0 84.0)" fill="#0000ff" fill-opacity="1.00"/>
<ellipse cx="80.0" cy="65.0" rx="4.0" ry="5.0" transform="rotate(0 80.0 65.0)" fill="#ffff00" fill-opacity="1.00"/>
<ellipse cx="82.0" cy="50.0" rx="3.0" ry="2.0" transform="rotate(0 82.0 50.0)" fill="#ffffff" fill-opacity="1.00"/>
<ellipse cx="70.0" cy="72.0" rx="4.0" ry="2.0" transform="rotate(0 70.0 72.0)" fill="#40c0ff" fill-opacity="1.00"/>
</g>
<path d="M74.00,11.00 C75.00,11.58 78.17,12.83 80.00,14.50 C81.83,16.17 84.17,19.92 85.00,21.00" fill="none" stroke="#40c0ff" stroke-width="0.60" stroke-opacity="0.75" stroke-linecap="round"/>
<path d="M61.00,13.00 C60.75,14.83 59.33,20.33 59.50,24.00 C59.67,27.67 60.67,32.83 62.00,35.00 C63.33,37.17 65.50,38.33 67.50,37.00 C69.50,35.67 71.92,30.22 74.00,27.00 C76.08,23.78 79.00,19.25 80.00,17.70" fill="none" stroke="#ff0000" stroke-width="0.60" stroke-opacity="0.75" stroke-linecap="round"/>
<path d="M32.00,59.50 C33.83,59.25 39.00,58.80 43.00,58.00 C47.00,57.20 51.92,55.03 56.00,54.70 C60.08,54.37 64.23,54.95 67.50,56.00 C70.77,57.05 74.25,60.17 75.60,61.00" fill="none" stroke="#ff0000" stroke-width="0.60" stroke-opacity="0.75" stroke-linecap="round"/>
<path d="M29.00,53.00 C30.33,54.33 34.67,58.33 37.00,61.00 C39.33,63.67 40.58,66.33 43.00,69.00 C45.42,71.67 48.75,74.57 51.50,77.00 C54.25,79.43 58.17,82.50 59.50,83.60" fill="none" stroke="#0000ff" stroke-width="0.60" stroke-opacity="0.75" stroke-linecap="round"/>
<path d="M25.70,69.00 C26.75,70.33 30.12,74.33 32.00,77.00 C33.88,79.67 34.83,82.33 37.00,85.00 C39.17,87.67 43.17,90.83 45.00,93.00 C46.83,95.17 47.50,97.17 48.00,98.00" fill="none" stroke="#0000ff" stroke-width="0.60" stroke-opacity="0.75" stroke-linecap="round"/>
<path d="M25.70,96.50 C27.32,96.58 32.18,97.13 35.40,97.00 C38.62,96.87 43.40,95.92 45.00,95.70" fill="none" stroke="#ff0000" stroke-width="0.60" stroke-opacity="0.75" stroke-linecap="round"/>
<path d="M22.50,85.00 C24.65,85.33 31.15,87.00 35.40,87.00 C39.65,87.00 45.90,85.33 48.00,85.00" fill="none" stroke="#ff0000" stroke-width="0.60" stroke-opacity="0.75" stroke-linecap="round"/>
</g>
<use href="#olc" fill="none" stroke="#fff" stroke-opacity="0.7" stroke-width="2.8"/>
<use href="#olc" fill="none" stroke="#000" stroke-width="1.8"/>
<ellipse cx="64.2" cy="83.4" rx="2.3" ry="1.5" fill="#000"/>
<rect x="0" y="0" width="100.00" height="107.35" fill="none" stroke="#3a3a3a" stroke-width="1.1"/>
</g>
<g transform="translate(584.25,255.49)">
<rect x="0.5" y="0.5" width="98" height="106.3" fill="#fff1fc"/>
<g clip-path="url(#clipc)">
<rect x="0" y="0" width="100" height="108" fill="#ffffff"/>
<g filter="url(#bl2)">
<ellipse cx="45.0" cy="56.0" rx="18.0" ry="8.0" transform="rotate(-20 45.0 56.0)" fill="#ffffc0" fill-opacity="1.00"/>
<ellipse cx="30.0" cy="58.0" rx="6.0" ry="4.0" transform="rotate(0 30.0 58.0)" fill="#ffff80" fill-opacity="1.00"/>
<ellipse cx="66.0" cy="14.0" rx="6.0" ry="5.0" transform="rotate(0 66.0 14.0)" fill="#ff90ff" fill-opacity="0.60"/>
<ellipse cx="38.0" cy="30.0" rx="10.0" ry="8.0" transform="rotate(-30 38.0 30.0)" fill="#ffd0ff" fill-opacity="1.00"/>
<ellipse cx="82.0" cy="40.0" rx="4.0" ry="14.0" transform="rotate(0 82.0 40.0)" fill="#ffd0ff" fill-opacity="1.00"/>
<ellipse cx="24.0" cy="46.0" rx="4.0" ry="4.0" transform="rotate(0 24.0 46.0)" fill="#ff90ff" fill-opacity="0.50"/>
<ellipse cx="50.0" cy="74.0" rx="6.0" ry="3.0" transform="rotate(0 50.0 74.0)" fill="#ff90ff" fill-opacity="0.50"/>
<ellipse cx="40.0" cy="86.0" rx="8.0" ry="4.0" transform="rotate(0 40.0 86.0)" fill="#ffd0ff" fill-opacity="1.00"/>
<ellipse cx="26.0" cy="90.0" rx="4.0" ry="3.0" transform="rotate(0 26.0 90.0)" fill="#ff90ff" fill-opacity="0.50"/>
<ellipse cx="28.0" cy="66.0" rx="4.0" ry="3.0" transform="rotate(0 28.0 66.0)" fill="#ffffc0" fill-opacity="1.00"/>
</g>
<path d="M74.00,11.00 C75.00,11.58 78.17,12.83 80.00,14.50 C81.83,16.17 84.17,19.92 85.00,21.00" fill="none" stroke="#ff0000" stroke-width="0.60" stroke-opacity="0.80" stroke-linecap="round" stroke-dasharray="1.2 1.3"/>
<path d="M61.00,13.00 C60.75,14.83 59.33,20.33 59.50,24.00 C59.67,27.67 60.67,32.83 62.00,35.00 C63.33,37.17 65.50,38.33 67.50,37.00 C69.50,35.67 71.92,30.22 74.00,27.00 C76.08,23.78 79.00,19.25 80.00,17.70" fill="none" stroke="#40c0ff" stroke-width="0.60" stroke-opacity="0.80" stroke-linecap="round" stroke-dasharray="1.2 1.3"/>
<path d="M32.00,59.50 C33.83,59.25 39.00,58.80 43.00,58.00 C47.00,57.20 51.92,55.03 56.00,54.70 C60.08,54.37 64.23,54.95 67.50,56.00 C70.77,57.05 74.25,60.17 75.60,61.00" fill="none" stroke="#0000ff" stroke-width="0.60" stroke-opacity="0.80" stroke-linecap="round" stroke-dasharray="1.2 1.3"/>
<path d="M29.00,53.00 C30.33,54.33 34.67,58.33 37.00,61.00 C39.33,63.67 40.58,66.33 43.00,69.00 C45.42,71.67 48.75,74.57 51.50,77.00 C54.25,79.43 58.17,82.50 59.50,83.60" fill="none" stroke="#00ff00" stroke-width="0.60" stroke-opacity="0.80" stroke-linecap="round" stroke-dasharray="1.2 1.3"/>
<path d="M25.70,69.00 C26.75,70.33 30.12,74.33 32.00,77.00 C33.88,79.67 34.83,82.33 37.00,85.00 C39.17,87.67 43.17,90.83 45.00,93.00 C46.83,95.17 47.50,97.17 48.00,98.00" fill="none" stroke="#ff0000" stroke-width="0.60" stroke-opacity="0.80" stroke-linecap="round" stroke-dasharray="1.2 1.3"/>
<path d="M25.70,96.50 C27.32,96.58 32.18,97.13 35.40,97.00 C38.62,96.87 43.40,95.92 45.00,95.70" fill="none" stroke="#ff0000" stroke-width="0.60" stroke-opacity="0.80" stroke-linecap="round" stroke-dasharray="1.2 1.3"/>
<path d="M22.50,85.00 C24.65,85.33 31.15,87.00 35.40,87.00 C39.65,87.00 45.90,85.33 48.00,85.00" fill="none" stroke="#ff0000" stroke-width="0.60" stroke-opacity="0.80" stroke-linecap="round" stroke-dasharray="1.2 1.3"/>
</g>
<use href="#olc" fill="none" stroke="#fff" stroke-opacity="0.7" stroke-width="2.8"/>
<use href="#olc" fill="none" stroke="#000" stroke-width="1.8"/>
<ellipse cx="64.2" cy="83.4" rx="2.3" ry="1.5" fill="#000"/>
<rect x="0" y="0" width="100.00" height="107.35" fill="none" stroke="#3a3a3a" stroke-width="1.1"/>
</g>
<g transform="translate(59.50,372.56)">
<rect x="0.5" y="0.5" width="98" height="106.3" fill="#fff1fc"/>
<g clip-path="url(#clipd)">
<rect x="0" y="0" width="100" height="108" fill="#0000ff"/>
<g filter="url(#bl1)">
<ellipse cx="36.0" cy="22.0" rx="6.0" ry="10.0" transform="rotate(30 36.0 22.0)" fill="#40c0ff" fill-opacity="0.35"/>
<ellipse cx="80.0" cy="22.0" rx="4.0" ry="8.0" transform="rotate(0 80.0 22.0)" fill="#40c0ff" fill-opacity="0.30"/>
<path d="M32.00,35.00 C33.33,33.83 37.67,31.33 40.00,31.00 C42.33,30.67 44.00,33.17 46.00,33.00 C48.00,32.83 50.00,30.00 52.00,30.00 C54.00,30.00 55.67,32.83 58.00,33.00 C60.33,33.17 62.83,31.00 66.00,31.00 C69.17,31.00 75.17,31.83 77.00,33.00 C78.83,34.17 79.83,37.33 77.00,38.00 C74.17,38.67 66.17,37.00 60.00,37.00 C53.83,37.00 44.67,37.83 40.00,38.00 C35.33,38.17 33.33,38.50 32.00,38.00 C30.67,37.50 30.67,36.17 32.00,35.00 Z" fill="#00ffff" fill-opacity="1.00"/>
<path d="M36.00,38.00 C39.67,36.83 53.17,37.00 60.00,37.00 C66.83,37.00 74.00,36.83 77.00,38.00 C80.00,39.17 80.83,43.00 78.00,44.00 C75.17,45.00 66.67,44.00 60.00,44.00 C53.33,44.00 42.00,45.00 38.00,44.00 C34.00,43.00 32.33,39.17 36.00,38.00 Z" fill="#c000ff" fill-opacity="1.00"/>
<ellipse cx="56.0" cy="42.0" rx="6.0" ry="1.5" transform="rotate(0 56.0 42.0)" fill="#00ffff" fill-opacity="1.00"/>
<ellipse cx="56.0" cy="45.0" rx="20.0" ry="1.2" transform="rotate(0 56.0 45.0)" fill="#ffffff" fill-opacity="0.80"/>
<path d="M34.00,46.00 C38.33,44.83 52.67,45.50 60.00,45.00 C67.33,44.50 74.33,42.17 78.00,43.00 C81.67,43.83 83.33,48.50 82.00,50.00 C80.67,51.50 75.33,51.67 70.00,52.00 C64.67,52.33 56.00,52.00 50.00,52.00 C44.00,52.00 36.67,53.00 34.00,52.00 C31.33,51.00 29.67,47.17 34.00,46.00 Z" fill="#00ff00" fill-opacity="1.00"/>
<ellipse cx="78.0" cy="48.0" rx="6.0" ry="6.0" transform="rotate(0 78.0 48.0)" fill="#b0ff00" fill-opacity="1.00"/>
<path d="M34.00,49.00 C35.33,47.67 42.00,47.00 44.00,48.00 C46.00,49.00 47.33,53.67 46.00,55.00 C44.67,56.33 38.00,57.00 36.00,56.00 C34.00,55.00 32.67,50.33 34.00,49.00 Z" fill="#ff0000" fill-opacity="1.00"/>
<path d="M44.00,52.00 C47.00,50.50 55.00,51.33 60.00,51.00 C65.00,50.67 71.00,49.17 74.00,50.00 C77.00,50.83 77.67,52.67 78.00,56.00 C78.33,59.33 77.33,66.00 76.00,70.00 C74.67,74.00 72.67,78.00 70.00,80.00 C67.33,82.00 62.67,83.00 60.00,82.00 C57.33,81.00 56.33,76.00 54.00,74.00 C51.67,72.00 48.00,72.33 46.00,70.00 C44.00,67.67 42.33,63.00 42.00,60.00 C41.67,57.00 41.00,53.50 44.00,52.00 Z" fill="#ff0000" fill-opacity="1.00"/>
<ellipse cx="58.0" cy="58.0" rx="9.0" ry="1.5" transform="rotate(-10 58.0 58.0)" fill="#0000ff" fill-opacity="1.00"/>
<ellipse cx="56.0" cy="61.0" rx="6.0" ry="1.2" transform="rotate(0 56.0 61.0)" fill="#00ffff" fill-opacity="1.00"/>
<ellipse cx="59.0" cy="65.0" rx="5.0" ry="1.8" transform="rotate(0 59.0 65.0)" fill="#00ff00" fill-opacity="1.00"/>
<ellipse cx="47.0" cy="68.0" rx="7.0" ry="2.0" transform="rotate(-10 47.0 68.0)" fill="#ff00ff" fill-opacity="1.00"/>
<ellipse cx="46.0" cy="68.0" rx="3.0" ry="1.0" transform="rotate(0 46.0 68.0)" fill="#ffffff" fill-opacity="1.00"/>
<ellipse cx="66.0" cy="63.0" rx="4.0" ry="2.0" transform="rotate(0 66.0 63.0)" fill="#00ff00" fill-opacity="0.80"/>
<ellipse cx="83.0" cy="55.0" rx="5.0" ry="15.0" transform="rotate(0 83.0 55.0)" fill="#b0ff00" fill-opacity="0.50"/>
<ellipse cx="27.0" cy="58.0" rx="3.0" ry="3.0" transform="rotate(0 27.0 58.0)" fill="#ff0000" fill-opacity="1.00"/>
<ellipse cx="42.0" cy="78.0" rx="4.0" ry="1.5" transform="rotate(0 42.0 78.0)" fill="#ff0000" fill-opacity="1.00"/>
<ellipse cx="32.0" cy="85.0" rx="3.0" ry="1.5" transform="rotate(0 32.0 85.0)" fill="#ffff00" fill-opacity="1.00"/>
<ellipse cx="31.0" cy="93.0" rx="4.0" ry="1.5" transform="rotate(0 31.0 93.0)" fill="#ff0000" fill-opacity="1.00"/>
<ellipse cx="22.0" cy="66.0" rx="3.0" ry="3.0" transform="rotate(0 22.0 66.0)" fill="#ff0000" fill-opacity="0.80"/>
<ellipse cx="52.0" cy="86.0" rx="5.0" ry="5.0" transform="rotate(0 52.0 86.0)" fill="#00ff00" fill-opacity="0.70"/>
<ellipse cx="64.0" cy="84.0" rx="7.0" ry="5.0" transform="rotate(0 64.0 84.0)" fill="#40c0ff" fill-opacity="0.50"/>
<ellipse cx="44.0" cy="80.0" rx="3.0" ry="1.0" transform="rotate(0 44.0 80.0)" fill="#ffffff" fill-opacity="1.00"/>
</g>
<use href="#old" fill="none" stroke="#40c0ff" stroke-opacity="0.22" stroke-width="6" filter="url(#bl1)"/>
<path d="M63.00,5.00 C62.92,6.50 62.33,11.00 62.50,14.00 C62.67,17.00 63.08,20.58 64.00,23.00 C64.92,25.42 66.33,27.50 68.00,28.50 C69.67,29.50 72.17,30.08 74.00,29.00 C75.83,27.92 77.83,24.83 79.00,22.00 C80.17,19.17 80.67,13.67 81.00,12.00" fill="none" stroke="#ff0000" stroke-width="0.60" stroke-opacity="0.75" stroke-linecap="round"/>
<path d="M42.00,22.00 C43.33,21.17 47.67,18.83 50.00,17.00 C52.33,15.17 54.67,13.00 56.00,11.00 C57.33,9.00 57.67,6.00 58.00,5.00" fill="none" stroke="#ff0000" stroke-width="0.60" stroke-opacity="0.75" stroke-linecap="round"/>
<path d="M27.00,54.00 C28.50,54.50 33.17,56.17 36.00,57.00 C38.83,57.83 41.33,58.83 44.00,59.00 C46.67,59.17 49.33,58.33 52.00,58.00 C54.67,57.67 57.67,56.33 60.00,57.00 C62.33,57.67 64.00,59.83 66.00,62.00 C68.00,64.17 71.00,68.67 72.00,70.00" fill="none" stroke="#ff0000" stroke-width="0.60" stroke-opacity="0.75" stroke-linecap="round"/>
<path d="M25.70,54.70 C26.25,55.75 29.00,59.40 29.00,61.00 C29.00,62.60 26.25,63.75 25.70,64.30" fill="none" stroke="#ff0000" stroke-width="0.60" stroke-opacity="0.75" stroke-linecap="round"/>
<path d="M24.00,74.00 C26.17,74.27 33.00,75.60 37.00,75.60 C41.00,75.60 46.17,74.27 48.00,74.00" fill="none" stroke="#ff0000" stroke-width="0.60" stroke-opacity="0.75" stroke-linecap="round"/>
<path d="M29.00,83.60 C31.17,83.83 38.25,85.00 42.00,85.00 C45.75,85.00 49.92,83.83 51.50,83.60" fill="none" stroke="#ff0000" stroke-width="0.60" stroke-opacity="0.75" stroke-linecap="round"/>
<path d="M24.00,93.00 C26.17,93.00 33.23,93.23 37.00,93.00 C40.77,92.77 45.00,91.83 46.60,91.60" fill="none" stroke="#ff0000" stroke-width="0.60" stroke-opacity="0.75" stroke-linecap="round"/>
</g>
<use href="#old" fill="none" stroke="#fff" stroke-opacity="0.7" stroke-width="2.8"/>
<use href="#old" fill="none" stroke="#000" stroke-width="1.8"/>
<rect x="0" y="0" width="100.00" height="107.35" fill="none" stroke="#3a3a3a" stroke-width="1.1"/>
</g>
<g transform="translate(164.45,372.56)">
<rect x="0.5" y="0.5" width="98" height="106.3" fill="#fff1fc"/>
<g clip-path="url(#clipd)">
<rect x="0" y="0" width="100" height="108" fill="#0000ff"/>
<g filter="url(#bl1)">
<ellipse cx="56.0" cy="20.0" rx="16.0" ry="10.0" transform="rotate(0 56.0 20.0)" fill="#40c0ff" fill-opacity="0.75"/>
<ellipse cx="72.0" cy="14.0" rx="6.0" ry="4.0" transform="rotate(0 72.0 14.0)" fill="#0000ff" fill-opacity="1.00"/>
<ellipse cx="40.0" cy="22.0" rx="5.0" ry="8.0" transform="rotate(30 40.0 22.0)" fill="#40c0ff" fill-opacity="0.40"/>
<path d="M27.00,40.00 C26.33,37.17 31.33,32.00 36.00,30.00 C40.67,28.00 49.00,28.17 55.00,28.00 C61.00,27.83 67.17,27.67 72.00,29.00 C76.83,30.33 82.33,33.17 84.00,36.00 C85.67,38.83 86.00,44.33 82.00,46.00 C78.00,47.67 67.00,45.83 60.00,46.00 C53.00,46.17 45.50,48.00 40.00,47.00 C34.50,46.00 27.67,42.83 27.00,40.00 Z" fill="#c000ff" fill-opacity="1.00"/>
<ellipse cx="48.0" cy="34.0" rx="9.0" ry="4.0" transform="rotate(0 48.0 34.0)" fill="#ff00ff" fill-opacity="1.00"/>
<ellipse cx="58.0" cy="42.0" rx="6.0" ry="1.8" transform="rotate(0 58.0 42.0)" fill="#00ffff" fill-opacity="1.00"/>
<path d="M36.00,46.00 C41.00,45.00 61.00,44.17 66.00,45.00 C71.00,45.83 71.00,50.00 66.00,51.00 C61.00,52.00 41.00,51.83 36.00,51.00 C31.00,50.17 31.00,47.00 36.00,46.00 Z" fill="#ffffff" fill-opacity="0.85"/>
<ellipse cx="52.0" cy="49.0" rx="10.0" ry="1.6" transform="rotate(0 52.0 49.0)" fill="#ffff00" fill-opacity="0.60"/>
<path d="M62.00,44.00 C64.33,39.33 73.67,39.33 78.00,40.00 C82.33,40.67 86.50,44.00 88.00,48.00 C89.50,52.00 89.00,60.00 87.00,64.00 C85.00,68.00 79.83,71.33 76.00,72.00 C72.17,72.67 66.33,72.67 64.00,68.00 C61.67,63.33 59.67,48.67 62.00,44.00 Z" fill="#b0ff00" fill-opacity="0.85"/>
<ellipse cx="74.0" cy="54.0" rx="7.0" ry="7.0" transform="rotate(0 74.0 54.0)" fill="#ffff00" fill-opacity="0.60"/>
<ellipse cx="82.0" cy="62.0" rx="3.0" ry="5.0" transform="rotate(0 82.0 62.0)" fill="#ff00ff" fill-opacity="0.50"/>
<ellipse cx="54.0" cy="56.0" rx="9.0" ry="3.0" transform="rotate(0 54.0 56.0)" fill="#00ff00" fill-opacity="1.00"/>
<ellipse cx="41.0" cy="52.0" rx="4.0" ry="2.5" transform="rotate(0 41.0 52.0)" fill="#ff0000" fill-opacity="1.00"/>
<ellipse cx="64.0" cy="68.0" rx="8.0" ry="5.0" transform="rotate(0 64.0 68.0)" fill="#ff0000" fill-opacity="1.00"/>
<ellipse cx="68.0" cy="62.0" rx="4.0" ry="2.0" transform="rotate(0 68.0 62.0)" fill="#ff8000" fill-opacity="1.00"/>
<ellipse cx="46.0" cy="62.0" rx="8.0" ry="2.0" transform="rotate(-10 46.0 62.0)" fill="#40c0ff" fill-opacity="0.90"/>
<ellipse cx="48.0" cy="66.0" rx="8.0" ry="1.5" transform="rotate(-10 48.0 66.0)" fill="#ff0000" fill-opacity="1.00"/>
<ellipse cx="45.0" cy="70.0" rx="8.0" ry="1.5" transform="rotate(-10 45.0 70.0)" fill="#ffff00" fill-opacity="0.80"/>
<ellipse cx="42.0" cy="74.0" rx="7.0" ry="1.5" transform="rotate(-10 42.0 74.0)" fill="#40c0ff" fill-opacity="1.00"/>
<ellipse cx="32.0" cy="60.0" rx="5.0" ry="3.0" transform="rotate(0 32.0 60.0)" fill="#40c0ff" fill-opacity="0.60"/>
<ellipse cx="34.0" cy="80.0" rx="8.0" ry="2.0" transform="rotate(-10 34.0 80.0)" fill="#40c0ff" fill-opacity="0.70"/>
<ellipse cx="42.0" cy="84.0" rx="7.0" ry="1.5" transform="rotate(0 42.0 84.0)" fill="#ff0000" fill-opacity="0.80"/>
<ellipse cx="52.0" cy="86.0" rx="6.0" ry="2.0" transform="rotate(0 52.0 86.0)" fill="#ff00ff" fill-opacity="0.60"/>
<ellipse cx="40.0" cy="90.0" rx="6.0" ry="2.0" transform="rotate(0 40.0 90.0)" fill="#40c0ff" fill-opacity="0.60"/>
<ellipse cx="58.0" cy="88.0" rx="4.0" ry="3.0" transform="rotate(0 58.0 88.0)" fill="#00ff00" fill-opacity="0.70"/>
<ellipse cx="62.0" cy="80.0" rx="5.0" ry="2.0" transform="rotate(0 62.0 80.0)" fill="#ffff00" fill-opacity="0.60"/>
</g>
<use href="#old" fill="none" stroke="#40c0ff" stroke-opacity="0.22" stroke-width="6" filter="url(#bl1)"/>
<path d="M63.00,5.00 C62.92,6.50 62.33,11.00 62.50,14.00 C62.67,17.00 63.08,20.58 64.00,23.00 C64.92,25.42 66.33,27.50 68.00,28.50 C69.67,29.50 72.17,30.08 74.00,29.00 C75.83,27.92 77.83,24.83 79.00,22.00 C80.17,19.17 80.67,13.67 81.00,12.00" fill="none" stroke="#ff0000" stroke-width="0.80" stroke-opacity="0.85" stroke-linecap="round"/>
<path d="M42.00,22.00 C43.33,21.17 47.67,18.83 50.00,17.00 C52.33,15.17 54.67,13.00 56.00,11.00 C57.33,9.00 57.67,6.00 58.00,5.00" fill="none" stroke="#ff0000" stroke-width="0.80" stroke-opacity="0.85" stroke-linecap="round"/>
<path d="M27.00,54.00 C28.50,54.50 33.17,56.17 36.00,57.00 C38.83,57.83 41.33,58.83 44.00,59.00 C46.67,59.17 49.33,58.33 52.00,58.00 C54.67,57.67 57.67,56.33 60.00,57.00 C62.33,57.67 64.00,59.83 66.00,62.00 C68.00,64.17 71.00,68.67 72.00,70.00" fill="none" stroke="#ff0000" stroke-width="0.80" stroke-opacity="0.85" stroke-linecap="round"/>
<path d="M25.70,54.70 C26.25,55.75 29.00,59.40 29.00,61.00 C29.00,62.60 26.25,63.75 25.70,64.30" fill="none" stroke="#ff0000" stroke-width="0.80" stroke-opacity="0.85" stroke-linecap="round"/>
<path d="M24.00,74.00 C26.17,74.27 33.00,75.60 37.00,75.60 C41.00,75.60 46.17,74.27 48.00,74.00" fill="none" stroke="#ff0000" stroke-width="0.80" stroke-opacity="0.85" stroke-linecap="round"/>
<path d="M29.00,83.60 C31.17,83.83 38.25,85.00 42.00,85.00 C45.75,85.00 49.92,83.83 51.50,83.60" fill="none" stroke="#ff0000" stroke-width="0.80" stroke-opacity="0.85" stroke-linecap="round"/>
<path d="M24.00,93.00 C26.17,93.00 33.23,93.23 37.00,93.00 C40.77,92.77 45.00,91.83 46.60,91.60" fill="none" stroke="#ff0000" stroke-width="0.80" stroke-opacity="0.85" stroke-linecap="round"/>
</g>
<use href="#old" fill="none" stroke="#fff" stroke-opacity="0.7" stroke-width="2.8"/>
<use href="#old" fill="none" stroke="#000" stroke-width="1.8"/>
<rect x="0" y="0" width="100.00" height="107.35" fill="none" stroke="#3a3a3a" stroke-width="1.1"/>
</g>
<g transform="translate(269.40,372.56)">
<rect x="0.5" y="0.5" width="98" height="106.3" fill="#fff1fc"/>
<g clip-path="url(#clipd)">
<rect x="0" y="0" width="100" height="108" fill="#0000ff"/>
<g filter="url(#bl1)">
<ellipse cx="56.0" cy="19.0" rx="17.0" ry="10.0" transform="rotate(0 56.0 19.0)" fill="#40c0ff" fill-opacity="0.80"/>
<ellipse cx="68.0" cy="14.0" rx="6.0" ry="4.0" transform="rotate(0 68.0 14.0)" fill="#0000ff" fill-opacity="0.80"/>
<ellipse cx="40.0" cy="24.0" rx="5.0" ry="8.0" transform="rotate(30 40.0 24.0)" fill="#40c0ff" fill-opacity="0.45"/>
<path d="M26.00,40.00 C25.33,37.33 31.17,32.00 36.00,30.00 C40.83,28.00 48.67,28.17 55.00,28.00 C61.33,27.83 68.83,27.67 74.00,29.00 C79.17,30.33 84.33,33.50 86.00,36.00 C87.67,38.50 88.33,42.67 84.00,44.00 C79.67,45.33 67.33,43.67 60.00,44.00 C52.67,44.33 45.67,46.67 40.00,46.00 C34.33,45.33 26.67,42.67 26.00,40.00 Z" fill="#b000ff" fill-opacity="1.00"/>
<ellipse cx="48.0" cy="36.0" rx="9.0" ry="4.0" transform="rotate(0 48.0 36.0)" fill="#ff00ff" fill-opacity="1.00"/>
<path d="M36.00,46.00 C39.17,44.17 49.00,43.67 55.00,43.00 C61.00,42.33 66.50,41.50 72.00,42.00 C77.50,42.50 85.33,42.67 88.00,46.00 C90.67,49.33 89.67,57.67 88.00,62.00 C86.33,66.33 82.00,70.67 78.00,72.00 C74.00,73.33 68.33,71.67 64.00,70.00 C59.67,68.33 56.67,64.67 52.00,62.00 C47.33,59.33 38.67,56.67 36.00,54.00 C33.33,51.33 32.83,47.83 36.00,46.00 Z" fill="#00ff00" fill-opacity="1.00"/>
<ellipse cx="78.0" cy="54.0" rx="8.0" ry="10.0" transform="rotate(0 78.0 54.0)" fill="#b0ff00" fill-opacity="1.00"/>
<ellipse cx="48.0" cy="48.0" rx="10.0" ry="2.5" transform="rotate(0 48.0 48.0)" fill="#ffff00" fill-opacity="1.00"/>
<ellipse cx="40.0" cy="51.0" rx="4.0" ry="2.5" transform="rotate(0 40.0 51.0)" fill="#ff0000" fill-opacity="1.00"/>
<ellipse cx="66.0" cy="70.0" rx="7.0" ry="5.0" transform="rotate(0 66.0 70.0)" fill="#ff0000" fill-opacity="1.00"/>
<ellipse cx="56.0" cy="62.0" rx="6.0" ry="2.0" transform="rotate(0 56.0 62.0)" fill="#ff0000" fill-opacity="0.80"/>
<ellipse cx="72.0" cy="64.0" rx="4.0" ry="2.0" transform="rotate(0 72.0 64.0)" fill="#ff8000" fill-opacity="1.00"/>
<ellipse cx="46.0" cy="62.0" rx="8.0" ry="2.0" transform="rotate(-10 46.0 62.0)" fill="#40c0ff" fill-opacity="0.90"/>
<ellipse cx="47.0" cy="66.0" rx="8.0" ry="1.5" transform="rotate(-10 47.0 66.0)" fill="#ff0000" fill-opacity="0.80"/>
<ellipse cx="44.0" cy="70.0" rx="8.0" ry="1.5" transform="rotate(-10 44.0 70.0)" fill="#ffff00" fill-opacity="0.70"/>
<ellipse cx="42.0" cy="74.0" rx="7.0" ry="1.5" transform="rotate(-10 42.0 74.0)" fill="#40c0ff" fill-opacity="1.00"/>
<ellipse cx="32.0" cy="60.0" rx="5.0" ry="3.0" transform="rotate(0 32.0 60.0)" fill="#40c0ff" fill-opacity="0.60"/>
<ellipse cx="34.0" cy="80.0" rx="8.0" ry="2.0" transform="rotate(-10 34.0 80.0)" fill="#40c0ff" fill-opacity="0.70"/>
<ellipse cx="42.0" cy="84.0" rx="7.0" ry="1.5" transform="rotate(0 42.0 84.0)" fill="#ff0000" fill-opacity="0.80"/>
<ellipse cx="52.0" cy="86.0" rx="6.0" ry="2.0" transform="rotate(0 52.0 86.0)" fill="#ff00ff" fill-opacity="0.60"/>
<ellipse cx="56.0" cy="90.0" rx="5.0" ry="2.0" transform="rotate(0 56.0 90.0)" fill="#ff0000" fill-opacity="1.00"/>
<ellipse cx="60.0" cy="84.0" rx="5.0" ry="3.0" transform="rotate(0 60.0 84.0)" fill="#00ff00" fill-opacity="0.70"/>
</g>
<use href="#old" fill="none" stroke="#40c0ff" stroke-opacity="0.22" stroke-width="6" filter="url(#bl1)"/>
<path d="M63.00,5.00 C62.92,6.50 62.33,11.00 62.50,14.00 C62.67,17.00 63.08,20.58 64.00,23.00 C64.92,25.42 66.33,27.50 68.00,28.50 C69.67,29.50 72.17,30.08 74.00,29.00 C75.83,27.92 77.83,24.83 79.00,22.00 C80.17,19.17 80.67,13.67 81.00,12.00" fill="none" stroke="#ff0000" stroke-width="0.80" stroke-opacity="0.85" stroke-linecap="round"/>
<path d="M42.00,22.00 C43.33,21.17 47.67,18.83 50.00,17.00 C52.33,15.17 54.67,13.00 56.00,11.00 C57.33,9.00 57.67,6.00 58.00,5.00" fill="none" stroke="#ff0000" stroke-width="0.80" stroke-opacity="0.85" stroke-linecap="round"/>
<path d="M27.00,54.00 C28.50,54.50 33.17,56.17 36.00,57.00 C38.83,57.83 41.33,58.83 44.00,59.00 C46.67,59.17 49.33,58.33 52.00,58.00 C54.67,57.67 57.67,56.33 60.00,57.00 C62.33,57.67 64.00,59.83 66.00,62.00 C68.00,64.17 71.00,68.67 72.00,70.00" fill="none" stroke="#ff0000" stroke-width="0.80" stroke-opacity="0.85" stroke-linecap="round"/>
<path d="M25.70,54.70 C26.25,55.75 29.00,59.40 29.00,61.00 C29.00,62.60 26.25,63.75 25.70,64.30" fill="none" stroke="#ff0000" stroke-width="0.80" stroke-opacity="0.85" stroke-linecap="round"/>
<path d="M24.00,74.00 C26.17,74.27 33.00,75.60 37.00,75.60 C41.00,75.60 46.17,74.27 48.00,74.00" fill="none" stroke="#ff0000" stroke-width="0.80" stroke-opacity="0.85" stroke-linecap="round"/>
<path d="M29.00,83.60 C31.17,83.83 38.25,85.00 42.00,85.00 C45.75,85.00 49.92,83.83 51.50,83.60" fill="none" stroke="#ff0000" stroke-width="0.80" stroke-opacity="0.85" stroke-linecap="round"/>
<path d="M24.00,93.00 C26.17,93.00 33.23,93.23 37.00,93.00 C40.77,92.77 45.00,91.83 46.60,91.60" fill="none" stroke="#ff0000" stroke-width="0.80" stroke-opacity="0.85" stroke-linecap="round"/>
</g>
<use href="#old" fill="none" stroke="#fff" stroke-opacity="0.7" stroke-width="2.8"/>
<use href="#old" fill="none" stroke="#000" stroke-width="1.8"/>
<rect x="0" y="0" width="100.00" height="107.35" fill="none" stroke="#3a3a3a" stroke-width="1.1"/>
</g>
<g transform="translate(374.35,372.56)">
<rect x="0.5" y="0.5" width="98" height="106.3" fill="#fff1fc"/>
<g clip-path="url(#clipd)">
<rect x="0" y="0" width="100" height="108" fill="#a000ff"/>
<g filter="url(#bl1)">
<ellipse cx="72.0" cy="36.0" rx="12.0" ry="6.0" transform="rotate(-30 72.0 36.0)" fill="#00ffff" fill-opacity="0.70"/>
<ellipse cx="62.0" cy="48.0" rx="14.0" ry="3.0" transform="rotate(-10 62.0 48.0)" fill="#00ffff" fill-opacity="0.85"/>
<ellipse cx="75.0" cy="48.0" rx="6.0" ry="3.0" transform="rotate(0 75.0 48.0)" fill="#40c0ff" fill-opacity="0.70"/>
<ellipse cx="66.0" cy="28.0" rx="8.0" ry="5.0" transform="rotate(0 66.0 28.0)" fill="#ff00ff" fill-opacity="0.70"/>
<path d="M24.00,48.00 C22.83,45.00 24.67,41.33 26.00,38.00 C27.33,34.67 29.83,31.33 32.00,28.00 C34.17,24.67 36.33,21.17 39.00,18.00 C41.67,14.83 44.83,11.17 48.00,9.00 C51.17,6.83 55.00,5.50 58.00,5.00 C61.00,4.50 64.00,4.50 66.00,6.00 C68.00,7.50 71.00,11.67 70.00,14.00 C69.00,16.33 62.67,17.33 60.00,20.00 C57.33,22.67 55.67,26.33 54.00,30.00 C52.33,33.67 51.67,38.33 50.00,42.00 C48.33,45.67 46.83,49.67 44.00,52.00 C41.17,54.33 36.33,56.67 33.00,56.00 C29.67,55.33 25.17,51.00 24.00,48.00 Z" fill="#b0ff00" fill-opacity="1.00"/>
<ellipse cx="46.0" cy="14.0" rx="6.0" ry="4.0" transform="rotate(0 46.0 14.0)" fill="#ff00ff" fill-opacity="1.00"/>
<ellipse cx="60.0" cy="12.0" rx="7.0" ry="4.0" transform="rotate(0 60.0 12.0)" fill="#ffff00" fill-opacity="1.00"/>
<ellipse cx="40.0" cy="30.0" rx="7.0" ry="8.0" transform="rotate(-30 40.0 30.0)" fill="#ffff00" fill-opacity="0.90"/>
<ellipse cx="30.0" cy="44.0" rx="4.0" ry="4.0" transform="rotate(0 30.0 44.0)" fill="#00ff00" fill-opacity="1.00"/>
<path d="M20.00,58.00 C22.33,55.83 28.33,55.00 32.00,55.00 C35.67,55.00 40.00,55.17 42.00,58.00 C44.00,60.83 44.00,67.00 44.00,72.00 C44.00,77.00 43.67,84.00 42.00,88.00 C40.33,92.00 37.33,95.00 34.00,96.00 C30.67,97.00 24.83,96.33 22.00,94.00 C19.17,91.67 17.67,86.33 17.00,82.00 C16.33,77.67 17.50,72.00 18.00,68.00 C18.50,64.00 17.67,60.17 20.00,58.00 Z" fill="#ff8000" fill-opacity="0.90"/>
<ellipse cx="32.0" cy="53.0" rx="5.0" ry="3.0" transform="rotate(-10 32.0 53.0)" fill="#ff0000" fill-opacity="1.00"/>
<ellipse cx="32.0" cy="63.0" rx="6.0" ry="3.0" transform="rotate(0 32.0 63.0)" fill="#ff0000" fill-opacity="1.00"/>
<ellipse cx="30.0" cy="70.0" rx="5.0" ry="3.0" transform="rotate(0 30.0 70.0)" fill="#ff0000" fill-opacity="1.00"/>
<ellipse cx="26.0" cy="77.0" rx="5.0" ry="3.0" transform="rotate(0 26.0 77.0)" fill="#b0ff00" fill-opacity="1.00"/>
<ellipse cx="24.0" cy="84.0" rx="5.0" ry="3.0" transform="rotate(0 24.0 84.0)" fill="#ff0000" fill-opacity="1.00"/>
<ellipse cx="25.0" cy="92.0" rx="5.0" ry="2.0" transform="rotate(0 25.0 92.0)" fill="#ff0000" fill-opacity="1.00"/>
<ellipse cx="34.0" cy="74.0" rx="4.0" ry="2.0" transform="rotate(0 34.0 74.0)" fill="#ffff00" fill-opacity="1.00"/>
<ellipse cx="36.0" cy="84.0" rx="4.0" ry="2.0" transform="rotate(0 36.0 84.0)" fill="#00ff00" fill-opacity="1.00"/>
<path d="M44.00,58.00 C46.00,54.00 51.00,55.33 54.00,56.00 C57.00,56.67 60.67,58.33 62.00,62.00 C63.33,65.67 62.67,73.33 62.00,78.00 C61.33,82.67 60.33,87.67 58.00,90.00 C55.67,92.33 50.67,93.67 48.00,92.00 C45.33,90.33 42.67,85.67 42.00,80.00 C41.33,74.33 42.00,62.00 44.00,58.00 Z" fill="#0000ff" fill-opacity="1.00"/>
<ellipse cx="58.0" cy="73.0" rx="6.0" ry="2.5" transform="rotate(0 58.0 73.0)" fill="#ff8000" fill-opacity="1.00"/>
<ellipse cx="64.0" cy="68.0" rx="4.0" ry="2.0" transform="rotate(0 64.0 68.0)" fill="#ffff00" fill-opacity="1.00"/>
<ellipse cx="72.0" cy="64.0" rx="5.0" ry="4.0" transform="rotate(0 72.0 64.0)" fill="#b000ff" fill-opacity="1.00"/>
<ellipse cx="80.0" cy="58.0" rx="4.0" ry="8.0" transform="rotate(0 80.0 58.0)" fill="#b0ff00" fill-opacity="0.80"/>
</g>
<path d="M63.00,5.00 C62.92,6.50 62.33,11.00 62.50,14.00 C62.67,17.00 63.08,20.58 64.00,23.00 C64.92,25.42 66.33,27.50 68.00,28.50 C69.67,29.50 72.17,30.08 74.00,29.00 C75.83,27.92 77.83,24.83 79.00,22.00 C80.17,19.17 80.67,13.67 81.00,12.00" fill="none" stroke="#ff0000" stroke-width="0.60" stroke-opacity="0.75" stroke-linecap="round"/>
<path d="M42.00,22.00 C43.33,21.17 47.67,18.83 50.00,17.00 C52.33,15.17 54.67,13.00 56.00,11.00 C57.33,9.00 57.67,6.00 58.00,5.00" fill="none" stroke="#ff0000" stroke-width="0.60" stroke-opacity="0.75" stroke-linecap="round"/>
<path d="M27.00,54.00 C28.50,54.50 33.17,56.17 36.00,57.00 C38.83,57.83 41.33,58.83 44.00,59.00 C46.67,59.17 49.33,58.33 52.00,58.00 C54.67,57.67 57.67,56.33 60.00,57.00 C62.33,57.67 64.00,59.83 66.00,62.00 C68.00,64.17 71.00,68.67 72.00,70.00" fill="none" stroke="#ff0000" stroke-width="0.60" stroke-opacity="0.75" stroke-linecap="round"/>
<path d="M25.70,54.70 C26.25,55.75 29.00,59.40 29.00,61.00 C29.00,62.60 26.25,63.75 25.70,64.30" fill="none" stroke="#ff0000" stroke-width="0.60" stroke-opacity="0.75" stroke-linecap="round"/>
<path d="M24.00,74.00 C26.17,74.27 33.00,75.60 37.00,75.60 C41.00,75.60 46.17,74.27 48.00,74.00" fill="none" stroke="#ff0000" stroke-width="0.60" stroke-opacity="0.75" stroke-linecap="round"/>
<path d="M29.00,83.60 C31.17,83.83 38.25,85.00 42.00,85.00 C45.75,85.00 49.92,83.83 51.50,83.60" fill="none" stroke="#ff0000" stroke-width="0.60" stroke-opacity="0.75" stroke-linecap="round"/>
<path d="M24.00,93.00 C26.17,93.00 33.23,93.23 37.00,93.00 C40.77,92.77 45.00,91.83 46.60,91.60" fill="none" stroke="#ff0000" stroke-width="0.60" stroke-opacity="0.75" stroke-linecap="round"/>
</g>
<use href="#old" fill="none" stroke="#fff" stroke-opacity="0.7" stroke-width="2.8"/>
<use href="#old" fill="none" stroke="#000" stroke-width="1.8"/>
<rect x="0" y="0" width="100.00" height="107.35" fill="none" stroke="#3a3a3a" stroke-width="1.1"/>
</g>
<g transform="translate(479.30,372.56)">
<rect x="0.5" y="0.5" width="98" height="106.3" fill="#fff1fc"/>
<g clip-path="url(#clipd)">
<rect x="0" y="0" width="100" height="108" fill="#b000ff"/>
<g filter="url(#bl1)">
<ellipse cx="70.0" cy="44.0" rx="14.0" ry="14.0" transform="rotate(-20 70.0 44.0)" fill="#e000ff" fill-opacity="0.50"/>
<ellipse cx="64.0" cy="34.0" rx="6.0" ry="4.0" transform="rotate(0 64.0 34.0)" fill="#ffffff" fill-opacity="0.50"/>
<path d="M24.00,48.00 C22.83,45.00 24.67,41.33 26.00,38.00 C27.33,34.67 29.83,31.33 32.00,28.00 C34.17,24.67 36.33,21.17 39.00,18.00 C41.67,14.83 44.83,11.17 48.00,9.00 C51.17,6.83 55.00,5.50 58.00,5.00 C61.00,4.50 64.33,4.50 66.00,6.00 C67.67,7.50 69.33,11.67 68.00,14.00 C66.67,16.33 60.67,17.33 58.00,20.00 C55.33,22.67 53.67,26.33 52.00,30.00 C50.33,33.67 49.67,38.33 48.00,42.00 C46.33,45.67 44.50,49.67 42.00,52.00 C39.50,54.33 36.00,56.67 33.00,56.00 C30.00,55.33 25.17,51.00 24.00,48.00 Z" fill="#ffff00" fill-opacity="1.00"/>
<ellipse cx="46.0" cy="14.0" rx="6.0" ry="4.0" transform="rotate(0 46.0 14.0)" fill="#ff00ff" fill-opacity="1.00"/>
<ellipse cx="58.0" cy="12.0" rx="6.0" ry="4.0" transform="rotate(0 58.0 12.0)" fill="#ffffff" fill-opacity="1.00"/>
<ellipse cx="40.0" cy="32.0" rx="6.0" ry="7.0" transform="rotate(-30 40.0 32.0)" fill="#ffffff" fill-opacity="0.70"/>
<ellipse cx="30.0" cy="48.0" rx="4.0" ry="4.0" transform="rotate(0 30.0 48.0)" fill="#b0ff00" fill-opacity="1.00"/>
<path d="M20.00,56.00 C22.67,53.33 30.33,53.00 34.00,54.00 C37.67,55.00 40.67,57.67 42.00,62.00 C43.33,66.33 42.67,74.67 42.00,80.00 C41.33,85.33 40.67,91.33 38.00,94.00 C35.33,96.67 29.33,97.00 26.00,96.00 C22.67,95.00 19.33,92.33 18.00,88.00 C16.67,83.67 17.67,75.33 18.00,70.00 C18.33,64.67 17.33,58.67 20.00,56.00 Z" fill="#b0ff00" fill-opacity="1.00"/>
<ellipse cx="30.0" cy="66.0" rx="6.0" ry="6.0" transform="rotate(0 30.0 66.0)" fill="#00ff00" fill-opacity="1.00"/>
<ellipse cx="26.0" cy="86.0" rx="5.0" ry="4.0" transform="rotate(0 26.0 86.0)" fill="#00ff00" fill-opacity="1.00"/>
<ellipse cx="32.0" cy="64.0" rx="6.0" ry="1.4" transform="rotate(0 32.0 64.0)" fill="#ff0000" fill-opacity="1.00"/>
<ellipse cx="34.0" cy="72.0" rx="6.0" ry="1.4" transform="rotate(0 34.0 72.0)" fill="#ff8000" fill-opacity="1.00"/>
<ellipse cx="28.0" cy="86.0" rx="6.0" ry="1.4" transform="rotate(0 28.0 86.0)" fill="#ff0000" fill-opacity="1.00"/>
<ellipse cx="35.0" cy="94.0" rx="6.0" ry="1.4" transform="rotate(0 35.0 94.0)" fill="#ff0000" fill-opacity="1.00"/>
<ellipse cx="52.0" cy="66.0" rx="8.0" ry="3.0" transform="rotate(0 52.0 66.0)" fill="#00ffff" fill-opacity="1.00"/>
<ellipse cx="42.0" cy="86.0" rx="6.0" ry="3.0" transform="rotate(0 42.0 86.0)" fill="#0000ff" fill-opacity="1.00"/>
<ellipse cx="52.0" cy="78.0" rx="6.0" ry="3.0" transform="rotate(0 52.0 78.0)" fill="#40c0ff" fill-opacity="1.00"/>
<ellipse cx="62.0" cy="74.0" rx="6.0" ry="3.0" transform="rotate(0 62.0 74.0)" fill="#ff00ff" fill-opacity="1.00"/>
<ellipse cx="64.0" cy="66.0" rx="5.0" ry="2.0" transform="rotate(0 64.0 66.0)" fill="#ffffff" fill-opacity="0.80"/>
<ellipse cx="82.0" cy="55.0" rx="3.0" ry="5.0" transform="rotate(0 82.0 55.0)" fill="#ffffff" fill-opacity="1.00"/>
<ellipse cx="66.0" cy="50.0" rx="4.0" ry="2.0" transform="rotate(0 66.0 50.0)" fill="#ffffff" fill-opacity="1.00"/>
</g>
<path d="M63.00,5.00 C62.92,6.50 62.33,11.00 62.50,14.00 C62.67,17.00 63.08,20.58 64.00,23.00 C64.92,25.42 66.33,27.50 68.00,28.50 C69.67,29.50 72.17,30.08 74.00,29.00 C75.83,27.92 77.83,24.83 79.00,22.00 C80.17,19.17 80.67,13.67 81.00,12.00" fill="none" stroke="#ff0000" stroke-width="0.60" stroke-opacity="0.75" stroke-linecap="round"/>
<path d="M42.00,22.00 C43.33,21.17 47.67,18.83 50.00,17.00 C52.33,15.17 54.67,13.00 56.00,11.00 C57.33,9.00 57.67,6.00 58.00,5.00" fill="none" stroke="#40c0ff" stroke-width="0.60" stroke-opacity="0.75" stroke-linecap="round"/>
<path d="M27.00,54.00 C28.50,54.50 33.17,56.17 36.00,57.00 C38.83,57.83 41.33,58.83 44.00,59.00 C46.67,59.17 49.33,58.33 52.00,58.00 C54.67,57.67 57.67,56.33 60.00,57.00 C62.33,57.67 64.00,59.83 66.00,62.00 C68.00,64.17 71.00,68.67 72.00,70.00" fill="none" stroke="#0000ff" stroke-width="0.60" stroke-opacity="0.75" stroke-linecap="round"/>
<path d="M25.70,54.70 C26.25,55.75 29.00,59.40 29.00,61.00 C29.00,62.60 26.25,63.75 25.70,64.30" fill="none" stroke="#ff0000" stroke-width="0.60" stroke-opacity="0.75" stroke-linecap="round"/>
<path d="M24.00,74.00 C26.17,74.27 33.00,75.60 37.00,75.60 C41.00,75.60 46.17,74.27 48.00,74.00" fill="none" stroke="#ff0000" stroke-width="0.60" stroke-opacity="0.75" stroke-linecap="round"/>
<path d="M29.00,83.60 C31.17,83.83 38.25,85.00 42.00,85.00 C45.75,85.00 49.92,83.83 51.50,83.60" fill="none" stroke="#ff0000" stroke-width="0.60" stroke-opacity="0.75" stroke-linecap="round"/>
<path d="M24.00,93.00 C26.17,93.00 33.23,93.23 37.00,93.00 C40.77,92.77 45.00,91.83 46.60,91.60" fill="none" stroke="#ff0000" stroke-width="0.60" stroke-opacity="0.75" stroke-linecap="round"/>
</g>
<use href="#old" fill="none" stroke="#fff" stroke-opacity="0.7" stroke-width="2.8"/>
<use href="#old" fill="none" stroke="#000" stroke-width="1.8"/>
<rect x="0" y="0" width="100.00" height="107.35" fill="none" stroke="#3a3a3a" stroke-width="1.1"/>
</g>
<g transform="translate(584.25,372.56)">
<rect x="0.5" y="0.5" width="98" height="106.3" fill="#fff1fc"/>
<g clip-path="url(#clipd)">
<rect x="0" y="0" width="100" height="108" fill="#ffffff"/>
<g filter="url(#bl2)">
<ellipse cx="48.0" cy="56.0" rx="16.0" ry="8.0" transform="rotate(-10 48.0 56.0)" fill="#ffffc0" fill-opacity="1.00"/>
<ellipse cx="45.0" cy="20.0" rx="8.0" ry="8.0" transform="rotate(0 45.0 20.0)" fill="#ffffc0" fill-opacity="1.00"/>
<ellipse cx="66.0" cy="22.0" rx="8.0" ry="8.0" transform="rotate(0 66.0 22.0)" fill="#ffd0ff" fill-opacity="1.00"/>
<ellipse cx="30.0" cy="66.0" rx="8.0" ry="8.0" transform="rotate(0 30.0 66.0)" fill="#ffd0ff" fill-opacity="1.00"/>
<ellipse cx="82.0" cy="50.0" rx="4.0" ry="12.0" transform="rotate(0 82.0 50.0)" fill="#ffd0ff" fill-opacity="1.00"/>
<ellipse cx="42.0" cy="76.0" rx="10.0" ry="5.0" transform="rotate(0 42.0 76.0)" fill="#ff90ff" fill-opacity="0.40"/>
<ellipse cx="30.0" cy="56.0" rx="3.0" ry="3.0" transform="rotate(0 30.0 56.0)" fill="#ffff00" fill-opacity="0.70"/>
<ellipse cx="58.0" cy="74.0" rx="4.0" ry="3.0" transform="rotate(0 58.0 74.0)" fill="#ff90ff" fill-opacity="0.50"/>
</g>
<path d="M63.00,5.00 C62.92,6.50 62.33,11.00 62.50,14.00 C62.67,17.00 63.08,20.58 64.00,23.00 C64.92,25.42 66.33,27.50 68.00,28.50 C69.67,29.50 72.17,30.08 74.00,29.00 C75.83,27.92 77.83,24.83 79.00,22.00 C80.17,19.17 80.67,13.67 81.00,12.00" fill="none" stroke="#ff0000" stroke-width="0.60" stroke-opacity="0.80" stroke-linecap="round" stroke-dasharray="1.2 1.3"/>
<path d="M42.00,22.00 C43.33,21.17 47.67,18.83 50.00,17.00 C52.33,15.17 54.67,13.00 56.00,11.00 C57.33,9.00 57.67,6.00 58.00,5.00" fill="none" stroke="#0000ff" stroke-width="0.60" stroke-opacity="0.80" stroke-linecap="round" stroke-dasharray="1.2 1.3"/>
<path d="M27.00,54.00 C28.50,54.50 33.17,56.17 36.00,57.00 C38.83,57.83 41.33,58.83 44.00,59.00 C46.67,59.17 49.33,58.33 52.00,58.00 C54.67,57.67 57.67,56.33 60.00,57.00 C62.33,57.67 64.00,59.83 66.00,62.00 C68.00,64.17 71.00,68.67 72.00,70.00" fill="none" stroke="#0000ff" stroke-width="0.60" stroke-opacity="0.80" stroke-linecap="round" stroke-dasharray="1.2 1.3"/>
<path d="M25.70,54.70 C26.25,55.75 29.00,59.40 29.00,61.00 C29.00,62.60 26.25,63.75 25.70,64.30" fill="none" stroke="#0000ff" stroke-width="0.60" stroke-opacity="0.80" stroke-linecap="round" stroke-dasharray="1.2 1.3"/>
<path d="M24.00,74.00 C26.17,74.27 33.00,75.60 37.00,75.60 C41.00,75.60 46.17,74.27 48.00,74.00" fill="none" stroke="#ff0000" stroke-width="0.60" stroke-opacity="0.80" stroke-linecap="round" stroke-dasharray="1.2 1.3"/>
<path d="M29.00,83.60 C31.17,83.83 38.25,85.00 42.00,85.00 C45.75,85.00 49.92,83.83 51.50,83.60" fill="none" stroke="#0000ff" stroke-width="0.60" stroke-opacity="0.80" stroke-linecap="round" stroke-dasharray="1.2 1.3"/>
<path d="M24.00,93.00 C26.17,93.00 33.23,93.23 37.00,93.00 C40.77,92.77 45.00,91.83 46.60,91.60" fill="none" stroke="#ff0000" stroke-width="0.60" stroke-opacity="0.80" stroke-linecap="round" stroke-dasharray="1.2 1.3"/>
</g>
<use href="#old" fill="none" stroke="#fff" stroke-opacity="0.7" stroke-width="2.8"/>
<use href="#old" fill="none" stroke="#000" stroke-width="1.8"/>
<rect x="0" y="0" width="100.00" height="107.35" fill="none" stroke="#3a3a3a" stroke-width="1.1"/>
</g>
<g transform="translate(59.50,489.63)">
<rect x="0.5" y="0.5" width="98" height="106.3" fill="#fff1fc"/>
<g clip-path="url(#clipe)">
<rect x="0" y="0" width="100" height="108" fill="#0000ff"/>
<g filter="url(#bl1)">
<ellipse cx="38.0" cy="26.0" rx="6.0" ry="5.0" transform="rotate(0 38.0 26.0)" fill="#b0ff00" fill-opacity="0.50"/>
<ellipse cx="28.0" cy="40.0" rx="4.0" ry="6.0" transform="rotate(0 28.0 40.0)" fill="#40c0ff" fill-opacity="0.35"/>
<path d="M32.00,30.00 C34.33,27.83 43.67,26.00 50.00,25.00 C56.33,24.00 64.33,23.17 70.00,24.00 C75.67,24.83 81.67,27.67 84.00,30.00 C86.33,32.33 88.00,36.67 84.00,38.00 C80.00,39.33 68.00,38.00 60.00,38.00 C52.00,38.00 40.67,39.33 36.00,38.00 C31.33,36.67 29.67,32.17 32.00,30.00 Z" fill="#40c0ff" fill-opacity="0.80"/>
<ellipse cx="62.0" cy="30.0" rx="12.0" ry="3.0" transform="rotate(0 62.0 30.0)" fill="#00ffff" fill-opacity="0.70"/>
<path d="M48.00,37.00 C53.33,36.00 76.00,35.33 82.00,36.00 C88.00,36.67 89.33,40.00 84.00,41.00 C78.67,42.00 56.00,42.67 50.00,42.00 C44.00,41.33 42.67,38.00 48.00,37.00 Z" fill="#ff60ff" fill-opacity="1.00"/>
<ellipse cx="66.0" cy="39.0" rx="12.0" ry="1.5" transform="rotate(0 66.0 39.0)" fill="#ffffff" fill-opacity="1.00"/>
<path d="M40.00,42.00 C43.33,40.50 53.00,41.17 60.00,41.00 C67.00,40.83 77.67,39.83 82.00,41.00 C86.33,42.17 88.00,46.50 86.00,48.00 C84.00,49.50 76.00,49.33 70.00,50.00 C64.00,50.67 55.00,52.00 50.00,52.00 C45.00,52.00 41.67,51.67 40.00,50.00 C38.33,48.33 36.67,43.50 40.00,42.00 Z" fill="#b0ff00" fill-opacity="1.00"/>
<ellipse cx="52.0" cy="46.0" rx="8.0" ry="3.0" transform="rotate(0 52.0 46.0)" fill="#00ff00" fill-opacity="1.00"/>
<ellipse cx="74.0" cy="46.0" rx="6.0" ry="3.0" transform="rotate(0 74.0 46.0)" fill="#ff8000" fill-opacity="1.00"/>
<path d="M40.00,50.00 C41.83,47.67 49.67,48.50 55.00,48.00 C60.33,47.50 66.50,46.67 72.00,47.00 C77.50,47.33 85.33,47.17 88.00,50.00 C90.67,52.83 89.33,60.00 88.00,64.00 C86.67,68.00 83.00,70.67 80.00,74.00 C77.00,77.33 73.33,81.00 70.00,84.00 C66.67,87.00 63.00,91.33 60.00,92.00 C57.00,92.67 54.00,90.67 52.00,88.00 C50.00,85.33 49.33,80.33 48.00,76.00 C46.67,71.67 45.33,66.33 44.00,62.00 C42.67,57.67 38.17,52.33 40.00,50.00 Z" fill="#ff0000" fill-opacity="1.00"/>
<ellipse cx="48.0" cy="66.0" rx="6.0" ry="2.0" transform="rotate(-10 48.0 66.0)" fill="#00ffff" fill-opacity="1.00"/>
<ellipse cx="50.0" cy="70.0" rx="5.0" ry="2.0" transform="rotate(-10 50.0 70.0)" fill="#ff00ff" fill-opacity="1.00"/>
<ellipse cx="58.0" cy="63.0" rx="5.0" ry="3.0" transform="rotate(0 58.0 63.0)" fill="#0000ff" fill-opacity="0.60"/>
<ellipse cx="58.0" cy="64.0" rx="2.0" ry="1.0" transform="rotate(0 58.0 64.0)" fill="#00ff00" fill-opacity="1.00"/>
<ellipse cx="54.0" cy="78.0" rx="4.0" ry="2.0" transform="rotate(0 54.0 78.0)" fill="#40c0ff" fill-opacity="0.60"/>
<ellipse cx="44.0" cy="74.0" rx="4.0" ry="1.5" transform="rotate(0 44.0 74.0)" fill="#ffff00" fill-opacity="0.80"/>
<ellipse cx="87.0" cy="52.0" rx="3.0" ry="10.0" transform="rotate(0 87.0 52.0)" fill="#ffffff" fill-opacity="0.35"/>
<ellipse cx="44.0" cy="94.0" rx="8.0" ry="2.0" transform="rotate(0 44.0 94.0)" fill="#ff0000" fill-opacity="1.00"/>
<ellipse cx="26.0" cy="66.0" rx="3.0" ry="6.0" transform="rotate(0 26.0 66.0)" fill="#40c0ff" fill-opacity="0.35"/>
<ellipse cx="34.0" cy="88.0" rx="6.0" ry="2.0" transform="rotate(0 34.0 88.0)" fill="#40c0ff" fill-opacity="0.40"/>
</g>
<use href="#ole" fill="none" stroke="#40c0ff" stroke-opacity="0.22" stroke-width="6" filter="url(#bl1)"/>
<path d="M67.00,3.00 C66.67,4.33 65.08,8.33 65.00,11.00 C64.92,13.67 65.67,16.83 66.50,19.00 C67.33,21.17 68.58,23.08 70.00,24.00 C71.42,24.92 73.33,25.17 75.00,24.50 C76.67,23.83 78.83,21.75 80.00,20.00 C81.17,18.25 81.67,15.00 82.00,14.00" fill="none" stroke="#ff0000" stroke-width="0.60" stroke-opacity="0.75" stroke-linecap="round"/>
<path d="M38.00,26.00 C39.67,25.33 45.00,24.00 48.00,22.00 C51.00,20.00 53.67,17.00 56.00,14.00 C58.33,11.00 61.00,5.67 62.00,4.00" fill="none" stroke="#ff0000" stroke-width="0.60" stroke-opacity="0.75" stroke-linecap="round"/>
<path d="M24.00,59.50 C25.90,59.37 31.63,58.95 35.40,58.70 C39.17,58.45 44.73,58.12 46.60,58.00" fill="none" stroke="#ff0000" stroke-width="0.60" stroke-opacity="0.75" stroke-linecap="round"/>
<path d="M53.00,64.30 C54.08,64.03 57.88,62.42 59.50,62.70 C61.12,62.98 63.28,65.20 62.70,66.00 C62.12,66.80 57.62,67.78 56.00,67.50 C54.38,67.22 53.50,64.83 53.00,64.30" fill="none" stroke="#ff0000" stroke-width="0.60" stroke-opacity="0.75" stroke-linecap="round"/>
<path d="M21.00,80.40 C22.83,80.40 28.50,80.13 32.00,80.40 C35.50,80.67 38.50,81.47 42.00,82.00 C45.50,82.53 49.28,83.60 53.00,83.60 C56.72,83.60 61.08,82.80 64.30,82.00 C67.52,81.20 70.97,79.33 72.30,78.80" fill="none" stroke="#ff0000" stroke-width="0.60" stroke-opacity="0.75" stroke-linecap="round"/>
<path d="M29.00,90.00 C31.17,90.27 38.25,90.77 42.00,91.60 C45.75,92.43 49.92,94.43 51.50,95.00" fill="none" stroke="#ff0000" stroke-width="0.60" stroke-opacity="0.75" stroke-linecap="round"/>
</g>
<use href="#ole" fill="none" stroke="#fff" stroke-opacity="0.7" stroke-width="2.8"/>
<use href="#ole" fill="none" stroke="#000" stroke-width="1.8"/>
<rect x="0" y="0" width="100.00" height="107.35" fill="none" stroke="#3a3a3a" stroke-width="1.1"/>
</g>
<g transform="translate(164.45,489.63)">
<rect x="0.5" y="0.5" width="98" height="106.3" fill="#fff1fc"/>
<g clip-path="url(#clipe)">
<rect x="0" y="0" width="100" height="108" fill="#0000ff"/>
<g filter="url(#bl1)">
<ellipse cx="56.0" cy="14.0" rx="16.0" ry="7.0" transform="rotate(0 56.0 14.0)" fill="#40c0ff" fill-opacity="0.65"/>
<ellipse cx="70.0" cy="20.0" rx="5.0" ry="4.0" transform="rotate(0 70.0 20.0)" fill="#00ffff" fill-opacity="0.60"/>
<ellipse cx="32.0" cy="28.0" rx="3.0" ry="3.0" transform="rotate(0 32.0 28.0)" fill="#b0ff00" fill-opacity="1.00"/>
<ellipse cx="28.0" cy="42.0" rx="4.0" ry="6.0" transform="rotate(0 28.0 42.0)" fill="#40c0ff" fill-opacity="0.50"/>
<path d="M28.00,30.00 C30.83,26.67 38.83,23.33 45.00,22.00 C51.17,20.67 58.50,21.00 65.00,22.00 C71.50,23.00 80.50,24.67 84.00,28.00 C87.50,31.33 89.17,39.33 86.00,42.00 C82.83,44.67 71.83,43.50 65.00,44.00 C58.17,44.50 51.17,45.33 45.00,45.00 C38.83,44.67 30.83,44.50 28.00,42.00 C25.17,39.50 25.17,33.33 28.00,30.00 Z" fill="#b000ff" fill-opacity="1.00"/>
<ellipse cx="50.0" cy="30.0" rx="12.0" ry="5.0" transform="rotate(0 50.0 30.0)" fill="#ff00ff" fill-opacity="0.80"/>
<path d="M38.00,45.00 C41.67,43.17 52.00,43.50 60.00,43.00 C68.00,42.50 81.33,39.83 86.00,42.00 C90.67,44.17 90.67,53.33 88.00,56.00 C85.33,58.67 76.33,57.67 70.00,58.00 C63.67,58.33 55.33,58.67 50.00,58.00 C44.67,57.33 40.00,56.17 38.00,54.00 C36.00,51.83 34.33,46.83 38.00,45.00 Z" fill="#b0ff00" fill-opacity="1.00"/>
<ellipse cx="62.0" cy="48.0" rx="12.0" ry="3.0" transform="rotate(0 62.0 48.0)" fill="#ffff00" fill-opacity="1.00"/>
<ellipse cx="78.0" cy="50.0" rx="8.0" ry="5.0" transform="rotate(0 78.0 50.0)" fill="#00ff00" fill-opacity="1.00"/>
<ellipse cx="48.0" cy="55.0" rx="7.0" ry="2.5" transform="rotate(0 48.0 55.0)" fill="#ff0000" fill-opacity="1.00"/>
<ellipse cx="66.0" cy="56.0" rx="8.0" ry="2.0" transform="rotate(0 66.0 56.0)" fill="#ff8000" fill-opacity="1.00"/>
<ellipse cx="64.0" cy="68.0" rx="9.0" ry="6.0" transform="rotate(0 64.0 68.0)" fill="#ff0000" fill-opacity="1.00"/>
<ellipse cx="74.0" cy="62.0" rx="5.0" ry="3.0" transform="rotate(0 74.0 62.0)" fill="#ff8000" fill-opacity="1.00"/>
<ellipse cx="70.0" cy="74.0" rx="5.0" ry="3.0" transform="rotate(0 70.0 74.0)" fill="#ff00ff" fill-opacity="0.70"/>
<ellipse cx="44.0" cy="62.0" rx="8.0" ry="2.0" transform="rotate(0 44.0 62.0)" fill="#00ffff" fill-opacity="1.00"/>
<ellipse cx="46.0" cy="66.0" rx="7.0" ry="2.0" transform="rotate(0 46.0 66.0)" fill="#ffff00" fill-opacity="1.00"/>
<ellipse cx="52.0" cy="64.0" rx="4.0" ry="2.0" transform="rotate(0 52.0 64.0)" fill="#00ff00" fill-opacity="1.00"/>
<ellipse cx="56.0" cy="62.0" rx="3.0" ry="2.0" transform="rotate(0 56.0 62.0)" fill="#ff00ff" fill-opacity="1.00"/>
<ellipse cx="46.0" cy="70.0" rx="8.0" ry="2.0" transform="rotate(0 46.0 70.0)" fill="#ff00ff" fill-opacity="0.80"/>
<ellipse cx="50.0" cy="74.0" rx="6.0" ry="2.0" transform="rotate(0 50.0 74.0)" fill="#00ff00" fill-opacity="0.70"/>
<ellipse cx="36.0" cy="60.0" rx="6.0" ry="4.0" transform="rotate(0 36.0 60.0)" fill="#40c0ff" fill-opacity="0.60"/>
<ellipse cx="30.0" cy="70.0" rx="5.0" ry="3.0" transform="rotate(0 30.0 70.0)" fill="#b000ff" fill-opacity="0.70"/>
<ellipse cx="36.0" cy="78.0" rx="8.0" ry="2.0" transform="rotate(-10 36.0 78.0)" fill="#40c0ff" fill-opacity="0.70"/>
<ellipse cx="40.0" cy="86.0" rx="8.0" ry="2.0" transform="rotate(0 40.0 86.0)" fill="#40c0ff" fill-opacity="0.60"/>
<ellipse cx="45.0" cy="92.0" rx="5.0" ry="2.0" transform="rotate(0 45.0 92.0)" fill="#ff0000" fill-opacity="1.00"/>
<ellipse cx="38.0" cy="96.0" rx="6.0" ry="2.0" transform="rotate(0 38.0 96.0)" fill="#ffff00" fill-opacity="0.60"/>
</g>
<use href="#ole" fill="none" stroke="#40c0ff" stroke-opacity="0.22" stroke-width="6" filter="url(#bl1)"/>
<path d="M67.00,3.00 C66.67,4.33 65.08,8.33 65.00,11.00 C64.92,13.67 65.67,16.83 66.50,19.00 C67.33,21.17 68.58,23.08 70.00,24.00 C71.42,24.92 73.33,25.17 75.00,24.50 C76.67,23.83 78.83,21.75 80.00,20.00 C81.17,18.25 81.67,15.00 82.00,14.00" fill="none" stroke="#ff0000" stroke-width="0.70" stroke-opacity="0.80" stroke-linecap="round"/>
<path d="M38.00,26.00 C39.67,25.33 45.00,24.00 48.00,22.00 C51.00,20.00 53.67,17.00 56.00,14.00 C58.33,11.00 61.00,5.67 62.00,4.00" fill="none" stroke="#ff0000" stroke-width="0.70" stroke-opacity="0.80" stroke-linecap="round"/>
<path d="M24.00,59.50 C25.90,59.37 31.63,58.95 35.40,58.70 C39.17,58.45 44.73,58.12 46.60,58.00" fill="none" stroke="#ff0000" stroke-width="0.70" stroke-opacity="0.80" stroke-linecap="round"/>
<path d="M53.00,64.30 C54.08,64.03 57.88,62.42 59.50,62.70 C61.12,62.98 63.28,65.20 62.70,66.00 C62.12,66.80 57.62,67.78 56.00,67.50 C54.38,67.22 53.50,64.83 53.00,64.30" fill="none" stroke="#ff0000" stroke-width="0.70" stroke-opacity="0.80" stroke-linecap="round"/>
<path d="M21.00,80.40 C22.83,80.40 28.50,80.13 32.00,80.40 C35.50,80.67 38.50,81.47 42.00,82.00 C45.50,82.53 49.28,83.60 53.00,83.60 C56.72,83.60 61.08,82.80 64.30,82.00 C67.52,81.20 70.97,79.33 72.30,78.80" fill="none" stroke="#ff0000" stroke-width="0.70" stroke-opacity="0.80" stroke-linecap="round"/>
<path d="M29.00,90.00 C31.17,90.27 38.25,90.77 42.00,91.60 C45.75,92.43 49.92,94.43 51.50,95.00" fill="none" stroke="#ff0000" stroke-width="0.70" stroke-opacity="0.80" stroke-linecap="round"/>
</g>
<use href="#ole" fill="none" stroke="#fff" stroke-opacity="0.7" stroke-width="2.8"/>
<use href="#ole" fill="none" stroke="#000" stroke-width="1.8"/>
<rect x="0" y="0" width="100.00" height="107.35" fill="none" stroke="#3a3a3a" stroke-width="1.1"/>
</g>
<g transform="translate(269.40,489.63)">
<rect x="0.5" y="0.5" width="98" height="106.3" fill="#fff1fc"/>
<g clip-path="url(#clipe)">
<rect x="0" y="0" width="100" height="108" fill="#0000ff"/>
<g filter="url(#bl1)">
<ellipse cx="62.0" cy="14.0" rx="17.0" ry="9.0" transform="rotate(0 62.0 14.0)" fill="#40c0ff" fill-opacity="0.80"/>
<ellipse cx="70.0" cy="20.0" rx="6.0" ry="3.0" transform="rotate(0 70.0 20.0)" fill="#00ffff" fill-opacity="0.60"/>
<ellipse cx="28.0" cy="40.0" rx="5.0" ry="10.0" transform="rotate(0 28.0 40.0)" fill="#b0ff00" fill-opacity="0.50"/>
<ellipse cx="30.0" cy="30.0" rx="3.0" ry="3.0" transform="rotate(0 30.0 30.0)" fill="#ffff00" fill-opacity="0.70"/>
<path d="M28.00,30.00 C30.83,27.00 38.83,25.00 45.00,24.00 C51.17,23.00 58.17,23.00 65.00,24.00 C71.83,25.00 82.50,27.00 86.00,30.00 C89.50,33.00 89.50,40.00 86.00,42.00 C82.50,44.00 71.83,41.67 65.00,42.00 C58.17,42.33 51.17,44.00 45.00,44.00 C38.83,44.00 30.83,44.33 28.00,42.00 C25.17,39.67 25.17,33.00 28.00,30.00 Z" fill="#b000ff" fill-opacity="1.00"/>
<ellipse cx="60.0" cy="38.0" rx="12.0" ry="2.5" transform="rotate(0 60.0 38.0)" fill="#ffffff" fill-opacity="1.00"/>
<path d="M38.00,44.00 C41.33,41.50 52.00,41.33 60.00,41.00 C68.00,40.67 81.33,39.17 86.00,42.00 C90.67,44.83 90.33,54.33 88.00,58.00 C85.67,61.67 77.50,63.00 72.00,64.00 C66.50,65.00 60.33,65.33 55.00,64.00 C49.67,62.67 42.83,59.33 40.00,56.00 C37.17,52.67 34.67,46.50 38.00,44.00 Z" fill="#00ff00" fill-opacity="1.00"/>
<ellipse cx="76.0" cy="47.0" rx="8.0" ry="5.0" transform="rotate(0 76.0 47.0)" fill="#b0ff00" fill-opacity="1.00"/>
<ellipse cx="56.0" cy="45.0" rx="8.0" ry="2.0" transform="rotate(0 56.0 45.0)" fill="#ffff00" fill-opacity="0.80"/>
<ellipse cx="60.0" cy="54.0" rx="18.0" ry="3.5" transform="rotate(-5 60.0 54.0)" fill="#ff0000" fill-opacity="0.90"/>
<ellipse cx="70.0" cy="52.0" rx="6.0" ry="2.0" transform="rotate(0 70.0 52.0)" fill="#ff8000" fill-opacity="1.00"/>
<ellipse cx="50.0" cy="52.0" rx="5.0" ry="2.0" transform="rotate(0 50.0 52.0)" fill="#ff8000" fill-opacity="1.00"/>
<ellipse cx="56.0" cy="66.0" rx="9.0" ry="4.0" transform="rotate(0 56.0 66.0)" fill="#b0ff00" fill-opacity="1.00"/>
<ellipse cx="62.0" cy="70.0" rx="6.0" ry="2.0" transform="rotate(0 62.0 70.0)" fill="#ff0000" fill-opacity="1.00"/>
<ellipse cx="50.0" cy="72.0" rx="5.0" ry="2.0" transform="rotate(0 50.0 72.0)" fill="#ff00ff" fill-opacity="0.80"/>
<ellipse cx="64.0" cy="76.0" rx="7.0" ry="3.0" transform="rotate(0 64.0 76.0)" fill="#00ff00" fill-opacity="1.00"/>
<ellipse cx="56.0" cy="80.0" rx="5.0" ry="2.0" transform="rotate(0 56.0 80.0)" fill="#ffff00" fill-opacity="1.00"/>
<ellipse cx="42.0" cy="64.0" rx="6.0" ry="3.0" transform="rotate(0 42.0 64.0)" fill="#00ffff" fill-opacity="0.70"/>
<ellipse cx="38.0" cy="72.0" rx="5.0" ry="2.0" transform="rotate(0 38.0 72.0)" fill="#ff00ff" fill-opacity="0.60"/>
<ellipse cx="45.0" cy="92.0" rx="5.0" ry="2.0" transform="rotate(0 45.0 92.0)" fill="#ff0000" fill-opacity="1.00"/>
<ellipse cx="36.0" cy="82.0" rx="6.0" ry="3.0" transform="rotate(0 36.0 82.0)" fill="#40c0ff" fill-opacity="0.60"/>
</g>
<use href="#ole" fill="none" stroke="#40c0ff" stroke-opacity="0.22" stroke-width="6" filter="url(#bl1)"/>
<path d="M67.00,3.00 C66.67,4.33 65.08,8.33 65.00,11.00 C64.92,13.67 65.67,16.83 66.50,19.00 C67.33,21.17 68.58,23.08 70.00,24.00 C71.42,24.92 73.33,25.17 75.00,24.50 C76.67,23.83 78.83,21.75 80.00,20.00 C81.17,18.25 81.67,15.00 82.00,14.00" fill="none" stroke="#ff0000" stroke-width="0.70" stroke-opacity="0.80" stroke-linecap="round"/>
<path d="M38.00,26.00 C39.67,25.33 45.00,24.00 48.00,22.00 C51.00,20.00 53.67,17.00 56.00,14.00 C58.33,11.00 61.00,5.67 62.00,4.00" fill="none" stroke="#ff0000" stroke-width="0.70" stroke-opacity="0.80" stroke-linecap="round"/>
<path d="M24.00,59.50 C25.90,59.37 31.63,58.95 35.40,58.70 C39.17,58.45 44.73,58.12 46.60,58.00" fill="none" stroke="#ff0000" stroke-width="0.70" stroke-opacity="0.80" stroke-linecap="round"/>
<path d="M53.00,64.30 C54.08,64.03 57.88,62.42 59.50,62.70 C61.12,62.98 63.28,65.20 62.70,66.00 C62.12,66.80 57.62,67.78 56.00,67.50 C54.38,67.22 53.50,64.83 53.00,64.30" fill="none" stroke="#ff0000" stroke-width="0.70" stroke-opacity="0.80" stroke-linecap="round"/>
<path d="M21.00,80.40 C22.83,80.40 28.50,80.13 32.00,80.40 C35.50,80.67 38.50,81.47 42.00,82.00 C45.50,82.53 49.28,83.60 53.00,83.60 C56.72,83.60 61.08,82.80 64.30,82.00 C67.52,81.20 70.97,79.33 72.30,78.80" fill="none" stroke="#ff0000" stroke-width="0.70" stroke-opacity="0.80" stroke-linecap="round"/>
<path d="M29.00,90.00 C31.17,90.27 38.25,90.77 42.00,91.60 C45.75,92.43 49.92,94.43 51.50,95.00" fill="none" stroke="#ff0000" stroke-width="0.70" stroke-opacity="0.80" stroke-linecap="round"/>
</g>
<use href="#ole" fill="none" stroke="#fff" stroke-opacity="0.7" stroke-width="2.8"/>
<use href="#ole" fill="none" stroke="#000" stroke-width="1.8"/>
<rect x="0" y="0" width="100.00" height="107.35" fill="none" stroke="#3a3a3a" stroke-width="1.1"/>
</g>
<g transform="translate(374.35,489.63)">
<rect x="0.5" y="0.5" width="98" height="106.3" fill="#fff1fc"/>
<g clip-path="url(#clipe)">
<rect x="0" y="0" width="100" height="108" fill="#a000ff"/>
<g filter="url(#bl1)">
<ellipse cx="72.0" cy="42.0" rx="14.0" ry="14.0" transform="rotate(0 72.0 42.0)" fill="#b000ff" fill-opacity="0.60"/>
<ellipse cx="66.0" cy="40.0" rx="8.0" ry="2.0" transform="rotate(0 66.0 40.0)" fill="#40c0ff" fill-opacity="0.60"/>
<ellipse cx="76.0" cy="48.0" rx="5.0" ry="2.0" transform="rotate(0 76.0 48.0)" fill="#40c0ff" fill-opacity="0.60"/>
<ellipse cx="70.0" cy="54.0" rx="4.0" ry="2.0" transform="rotate(0 70.0 54.0)" fill="#ffffff" fill-opacity="1.00"/>
<ellipse cx="62.0" cy="45.0" rx="3.0" ry="2.0" transform="rotate(0 62.0 45.0)" fill="#ffffff" fill-opacity="1.00"/>
<path d="M24.00,48.00 C22.17,45.00 25.67,41.17 27.00,38.00 C28.33,34.83 30.00,32.17 32.00,29.00 C34.00,25.83 36.33,22.33 39.00,19.00 C41.67,15.67 44.83,11.50 48.00,9.00 C51.17,6.50 55.00,4.67 58.00,4.00 C61.00,3.33 64.67,3.33 66.00,5.00 C67.33,6.67 67.33,10.83 66.00,14.00 C64.67,17.17 60.33,20.33 58.00,24.00 C55.67,27.67 54.00,31.67 52.00,36.00 C50.00,40.33 48.33,46.67 46.00,50.00 C43.67,53.33 41.67,56.33 38.00,56.00 C34.33,55.67 25.83,51.00 24.00,48.00 Z" fill="#b0ff00" fill-opacity="1.00"/>
<ellipse cx="48.0" cy="12.0" rx="8.0" ry="4.0" transform="rotate(0 48.0 12.0)" fill="#ff00ff" fill-opacity="1.00"/>
<ellipse cx="40.0" cy="32.0" rx="6.0" ry="7.0" transform="rotate(-30 40.0 32.0)" fill="#ffff00" fill-opacity="1.00"/>
<ellipse cx="54.0" cy="22.0" rx="5.0" ry="5.0" transform="rotate(-30 54.0 22.0)" fill="#ffff00" fill-opacity="1.00"/>
<ellipse cx="30.0" cy="46.0" rx="4.0" ry="4.0" transform="rotate(0 30.0 46.0)" fill="#00ff00" fill-opacity="1.00"/>
<ellipse cx="56.0" cy="56.0" rx="12.0" ry="3.0" transform="rotate(-10 56.0 56.0)" fill="#0000ff" fill-opacity="1.00"/>
<ellipse cx="62.0" cy="58.0" rx="6.0" ry="2.0" transform="rotate(0 62.0 58.0)" fill="#00ffff" fill-opacity="1.00"/>
<path d="M20.00,60.00 C22.67,58.00 29.00,56.50 34.00,56.00 C39.00,55.50 46.00,55.67 50.00,57.00 C54.00,58.33 57.00,60.50 58.00,64.00 C59.00,67.50 57.67,73.67 56.00,78.00 C54.33,82.33 51.33,87.00 48.00,90.00 C44.67,93.00 40.33,95.33 36.00,96.00 C31.67,96.67 25.17,96.33 22.00,94.00 C18.83,91.67 17.67,86.33 17.00,82.00 C16.33,77.67 17.50,71.67 18.00,68.00 C18.50,64.33 17.33,62.00 20.00,60.00 Z" fill="#ff0000" fill-opacity="0.95"/>
<ellipse cx="40.0" cy="65.0" rx="10.0" ry="2.5" transform="rotate(-5 40.0 65.0)" fill="#00ff00" fill-opacity="1.00"/>
<ellipse cx="34.0" cy="73.0" rx="9.0" ry="2.0" transform="rotate(0 34.0 73.0)" fill="#b0ff00" fill-opacity="1.00"/>
<ellipse cx="46.0" cy="78.0" rx="7.0" ry="2.0" transform="rotate(0 46.0 78.0)" fill="#00ff00" fill-opacity="1.00"/>
<ellipse cx="30.0" cy="82.0" rx="7.0" ry="2.0" transform="rotate(0 30.0 82.0)" fill="#ffff00" fill-opacity="1.00"/>
<ellipse cx="40.0" cy="88.0" rx="6.0" ry="2.0" transform="rotate(0 40.0 88.0)" fill="#00ff00" fill-opacity="1.00"/>
<ellipse cx="26.0" cy="90.0" rx="5.0" ry="2.0" transform="rotate(0 26.0 90.0)" fill="#b0ff00" fill-opacity="1.00"/>
<ellipse cx="36.0" cy="60.0" rx="9.0" ry="2.0" transform="rotate(0 36.0 60.0)" fill="#ff8000" fill-opacity="1.00"/>
<ellipse cx="46.0" cy="70.0" rx="4.0" ry="2.0" transform="rotate(0 46.0 70.0)" fill="#ff00ff" fill-opacity="1.00"/>
<ellipse cx="40.0" cy="84.0" rx="4.0" ry="2.0" transform="rotate(0 40.0 84.0)" fill="#ff00ff" fill-opacity="1.00"/>
<ellipse cx="52.0" cy="66.0" rx="4.0" ry="2.0" transform="rotate(0 52.0 66.0)" fill="#ffffff" fill-opacity="1.00"/>
<ellipse cx="62.0" cy="80.0" rx="9.0" ry="6.0" transform="rotate(0 62.0 80.0)" fill="#0000ff" fill-opacity="1.00"/>
<ellipse cx="70.0" cy="72.0" rx="6.0" ry="3.0" transform="rotate(0 70.0 72.0)" fill="#0000ff" fill-opacity="1.00"/>
<ellipse cx="48.0" cy="75.0" rx="5.0" ry="3.0" transform="rotate(0 48.0 75.0)" fill="#ff00ff" fill-opacity="1.00"/>
</g>
<path d="M67.00,3.00 C66.67,4.33 65.08,8.33 65.00,11.00 C64.92,13.67 65.67,16.83 66.50,19.00 C67.33,21.17 68.58,23.08 70.00,24.00 C71.42,24.92 73.33,25.17 75.00,24.50 C76.67,23.83 78.83,21.75 80.00,20.00 C81.17,18.25 81.67,15.00 82.00,14.00" fill="none" stroke="#ff0000" stroke-width="0.60" stroke-opacity="0.75" stroke-linecap="round"/>
<path d="M38.00,26.00 C39.67,25.33 45.00,24.00 48.00,22.00 C51.00,20.00 53.67,17.00 56.00,14.00 C58.33,11.00 61.00,5.67 62.00,4.00" fill="none" stroke="#ff0000" stroke-width="0.60" stroke-opacity="0.75" stroke-linecap="round"/>
<path d="M24.00,59.50 C25.90,59.37 31.63,58.95 35.40,58.70 C39.17,58.45 44.73,58.12 46.60,58.00" fill="none" stroke="#ff0000" stroke-width="0.60" stroke-opacity="0.75" stroke-linecap="round"/>
<path d="M53.00,64.30 C54.08,64.03 57.88,62.42 59.50,62.70 C61.12,62.98 63.28,65.20 62.70,66.00 C62.12,66.80 57.62,67.78 56.00,67.50 C54.38,67.22 53.50,64.83 53.00,64.30" fill="none" stroke="#ff0000" stroke-width="0.60" stroke-opacity="0.75" stroke-linecap="round"/>
<path d="M21.00,80.40 C22.83,80.40 28.50,80.13 32.00,80.40 C35.50,80.67 38.50,81.47 42.00,82.00 C45.50,82.53 49.28,83.60 53.00,83.60 C56.72,83.60 61.08,82.80 64.30,82.00 C67.52,81.20 70.97,79.33 72.30,78.80" fill="none" stroke="#ff0000" stroke-width="0.60" stroke-opacity="0.75" stroke-linecap="round"/>
<path d="M29.00,90.00 C31.17,90.27 38.25,90.77 42.00,91.60 C45.75,92.43 49.92,94.43 51.50,95.00" fill="none" stroke="#ff0000" stroke-width="0.60" stroke-opacity="0.75" stroke-linecap="round"/>
</g>
<use href="#ole" fill="none" stroke="#fff" stroke-opacity="0.7" stroke-width="2.8"/>
<use href="#ole" fill="none" stroke="#000" stroke-width="1.8"/>
<rect x="0" y="0" width="100.00" height="107.35" fill="none" stroke="#3a3a3a" stroke-width="1.1"/>
</g>
<g transform="translate(479.30,489.63)">
<rect x="0.5" y="0.5" width="98" height="106.3" fill="#fff1fc"/>
<g clip-path="url(#clipe)">
<rect x="0" y="0" width="100" height="108" fill="#b000ff"/>
<g filter="url(#bl1)">
<ellipse cx="72.0" cy="42.0" rx="15.0" ry="14.0" transform="rotate(0 72.0 42.0)" fill="#e000ff" fill-opacity="0.55"/>
<ellipse cx="62.0" cy="48.0" rx="3.0" ry="2.0" transform="rotate(0 62.0 48.0)" fill="#ffffff" fill-opacity="1.00"/>
<ellipse cx="70.0" cy="55.0" rx="3.0" ry="2.0" transform="rotate(0 70.0 55.0)" fill="#ffffff" fill-opacity="1.00"/>
<ellipse cx="58.0" cy="42.0" rx="3.0" ry="2.0" transform="rotate(0 58.0 42.0)" fill="#ffffff" fill-opacity="1.00"/>
<path d="M24.00,48.00 C22.17,45.00 25.67,41.17 27.00,38.00 C28.33,34.83 30.00,32.17 32.00,29.00 C34.00,25.83 36.33,22.33 39.00,19.00 C41.67,15.67 44.83,11.50 48.00,9.00 C51.17,6.50 55.00,4.67 58.00,4.00 C61.00,3.33 64.67,3.33 66.00,5.00 C67.33,6.67 67.33,10.83 66.00,14.00 C64.67,17.17 60.33,20.33 58.00,24.00 C55.67,27.67 54.00,31.67 52.00,36.00 C50.00,40.33 48.33,46.67 46.00,50.00 C43.67,53.33 41.67,56.33 38.00,56.00 C34.33,55.67 25.83,51.00 24.00,48.00 Z" fill="#ffff00" fill-opacity="1.00"/>
<ellipse cx="42.0" cy="12.0" rx="6.0" ry="4.0" transform="rotate(0 42.0 12.0)" fill="#ff00ff" fill-opacity="1.00"/>
<ellipse cx="56.0" cy="10.0" rx="5.0" ry="3.0" transform="rotate(0 56.0 10.0)" fill="#ff00ff" fill-opacity="1.00"/>
<ellipse cx="40.0" cy="30.0" rx="6.0" ry="7.0" transform="rotate(-40 40.0 30.0)" fill="#ffffff" fill-opacity="0.80"/>
<ellipse cx="30.0" cy="46.0" rx="4.0" ry="4.0" transform="rotate(0 30.0 46.0)" fill="#b0ff00" fill-opacity="1.00"/>
<path d="M20.00,58.00 C22.67,55.67 29.67,56.00 34.00,56.00 C38.33,56.00 43.33,55.67 46.00,58.00 C48.67,60.33 49.67,66.00 50.00,70.00 C50.33,74.00 50.00,78.00 48.00,82.00 C46.00,86.00 41.67,91.67 38.00,94.00 C34.33,96.33 29.33,97.00 26.00,96.00 C22.67,95.00 19.33,92.33 18.00,88.00 C16.67,83.67 17.67,75.00 18.00,70.00 C18.33,65.00 17.33,60.33 20.00,58.00 Z" fill="#00ff00" fill-opacity="1.00"/>
<ellipse cx="30.0" cy="64.0" rx="5.0" ry="4.0" transform="rotate(0 30.0 64.0)" fill="#b0ff00" fill-opacity="1.00"/>
<ellipse cx="28.0" cy="80.0" rx="6.0" ry="3.0" transform="rotate(0 28.0 80.0)" fill="#b0ff00" fill-opacity="1.00"/>
<ellipse cx="34.0" cy="64.0" rx="6.0" ry="1.4" transform="rotate(0 34.0 64.0)" fill="#ff0000" fill-opacity="1.00"/>
<ellipse cx="38.0" cy="72.0" rx="5.0" ry="1.4" transform="rotate(0 38.0 72.0)" fill="#ff0000" fill-opacity="1.00"/>
<ellipse cx="28.0" cy="88.0" rx="5.0" ry="1.4" transform="rotate(0 28.0 88.0)" fill="#ff0000" fill-opacity="1.00"/>
<ellipse cx="40.0" cy="80.0" rx="4.0" ry="1.4" transform="rotate(0 40.0 80.0)" fill="#ff0000" fill-opacity="1.00"/>
<ellipse cx="58.0" cy="76.0" rx="10.0" ry="3.0" transform="rotate(-15 58.0 76.0)" fill="#0000ff" fill-opacity="1.00"/>
<ellipse cx="55.0" cy="82.0" rx="6.0" ry="3.0" transform="rotate(0 55.0 82.0)" fill="#40c0ff" fill-opacity="1.00"/>
<ellipse cx="46.0" cy="66.0" rx="5.0" ry="2.0" transform="rotate(0 46.0 66.0)" fill="#ff00ff" fill-opacity="1.00"/>
<ellipse cx="48.0" cy="58.0" rx="4.0" ry="2.0" transform="rotate(0 48.0 58.0)" fill="#40c0ff" fill-opacity="1.00"/>
<ellipse cx="60.0" cy="66.0" rx="8.0" ry="3.0" transform="rotate(0 60.0 66.0)" fill="#ff00ff" fill-opacity="0.70"/>
</g>
<path d="M67.00,3.00 C66.67,4.33 65.08,8.33 65.00,11.00 C64.92,13.67 65.67,16.83 66.50,19.00 C67.33,21.17 68.58,23.08 70.00,24.00 C71.42,24.92 73.33,25.17 75.00,24.50 C76.67,23.83 78.83,21.75 80.00,20.00 C81.17,18.25 81.67,15.00 82.00,14.00" fill="none" stroke="#ff0000" stroke-width="0.60" stroke-opacity="0.75" stroke-linecap="round"/>
<path d="M38.00,26.00 C39.67,25.33 45.00,24.00 48.00,22.00 C51.00,20.00 53.67,17.00 56.00,14.00 C58.33,11.00 61.00,5.67 62.00,4.00" fill="none" stroke="#40c0ff" stroke-width="0.60" stroke-opacity="0.75" stroke-linecap="round"/>
<path d="M24.00,59.50 C25.90,59.37 31.63,58.95 35.40,58.70 C39.17,58.45 44.73,58.12 46.60,58.00" fill="none" stroke="#ff0000" stroke-width="0.60" stroke-opacity="0.75" stroke-linecap="round"/>
<path d="M53.00,64.30 C54.08,64.03 57.88,62.42 59.50,62.70 C61.12,62.98 63.28,65.20 62.70,66.00 C62.12,66.80 57.62,67.78 56.00,67.50 C54.38,67.22 53.50,64.83 53.00,64.30" fill="none" stroke="#0000ff" stroke-width="0.60" stroke-opacity="0.75" stroke-linecap="round"/>
<path d="M21.00,80.40 C22.83,80.40 28.50,80.13 32.00,80.40 C35.50,80.67 38.50,81.47 42.00,82.00 C45.50,82.53 49.28,83.60 53.00,83.60 C56.72,83.60 61.08,82.80 64.30,82.00 C67.52,81.20 70.97,79.33 72.30,78.80" fill="none" stroke="#0000ff" stroke-width="0.60" stroke-opacity="0.75" stroke-linecap="round"/>
<path d="M29.00,90.00 C31.17,90.27 38.25,90.77 42.00,91.60 C45.75,92.43 49.92,94.43 51.50,95.00" fill="none" stroke="#ff0000" stroke-width="0.60" stroke-opacity="0.75" stroke-linecap="round"/>
</g>
<use href="#ole" fill="none" stroke="#fff" stroke-opacity="0.7" stroke-width="2.8"/>
<use href="#ole" fill="none" stroke="#000" stroke-width="1.8"/>
<rect x="0" y="0" width="100.00" height="107.35" fill="none" stroke="#3a3a3a" stroke-width="1.1"/>
</g>
<g transform="translate(584.25,489.63)">
<rect x="0.5" y="0.5" width="98" height="106.3" fill="#fff1fc"/>
<g clip-path="url(#clipe)">
<rect x="0" y="0" width="100" height="108" fill="#ffffff"/>
<g filter="url(#bl2)">
<ellipse cx="48.0" cy="50.0" rx="14.0" ry="8.0" transform="rotate(-10 48.0 50.0)" fill="#ffffc0" fill-opacity="1.00"/>
<ellipse cx="40.0" cy="34.0" rx="6.0" ry="6.0" transform="rotate(0 40.0 34.0)" fill="#ffffc0" fill-opacity="1.00"/>
<ellipse cx="66.0" cy="22.0" rx="8.0" ry="8.0" transform="rotate(0 66.0 22.0)" fill="#ffd0ff" fill-opacity="1.00"/>
<ellipse cx="30.0" cy="60.0" rx="8.0" ry="8.0" transform="rotate(0 30.0 60.0)" fill="#ffd0ff" fill-opacity="1.00"/>
<ellipse cx="84.0" cy="50.0" rx="4.0" ry="12.0" transform="rotate(0 84.0 50.0)" fill="#ffd0ff" fill-opacity="1.00"/>
<ellipse cx="45.0" cy="72.0" rx="10.0" ry="5.0" transform="rotate(0 45.0 72.0)" fill="#ff90ff" fill-opacity="0.40"/>
<ellipse cx="55.0" cy="66.0" rx="6.0" ry="4.0" transform="rotate(0 55.0 66.0)" fill="#ffffc0" fill-opacity="1.00"/>
<ellipse cx="30.0" cy="86.0" rx="6.0" ry="4.0" transform="rotate(0 30.0 86.0)" fill="#ffd0ff" fill-opacity="1.00"/>
<ellipse cx="44.0" cy="82.0" rx="4.0" ry="3.0" transform="rotate(0 44.0 82.0)" fill="#ffffc0" fill-opacity="1.00"/>
</g>
<path d="M67.00,3.00 C66.67,4.33 65.08,8.33 65.00,11.00 C64.92,13.67 65.67,16.83 66.50,19.00 C67.33,21.17 68.58,23.08 70.00,24.00 C71.42,24.92 73.33,25.17 75.00,24.50 C76.67,23.83 78.83,21.75 80.00,20.00 C81.17,18.25 81.67,15.00 82.00,14.00" fill="none" stroke="#ff0000" stroke-width="0.60" stroke-opacity="0.80" stroke-linecap="round" stroke-dasharray="1.2 1.3"/>
<path d="M38.00,26.00 C39.67,25.33 45.00,24.00 48.00,22.00 C51.00,20.00 53.67,17.00 56.00,14.00 C58.33,11.00 61.00,5.67 62.00,4.00" fill="none" stroke="#0000ff" stroke-width="0.60" stroke-opacity="0.80" stroke-linecap="round" stroke-dasharray="1.2 1.3"/>
<path d="M24.00,59.50 C25.90,59.37 31.63,58.95 35.40,58.70 C39.17,58.45 44.73,58.12 46.60,58.00" fill="none" stroke="#ff0000" stroke-width="0.60" stroke-opacity="0.80" stroke-linecap="round" stroke-dasharray="1.2 1.3"/>
<path d="M53.00,64.30 C54.08,64.03 57.88,62.42 59.50,62.70 C61.12,62.98 63.28,65.20 62.70,66.00 C62.12,66.80 57.62,67.78 56.00,67.50 C54.38,67.22 53.50,64.83 53.00,64.30" fill="none" stroke="#0000ff" stroke-width="0.60" stroke-opacity="0.80" stroke-linecap="round" stroke-dasharray="1.2 1.3"/>
<path d="M21.00,80.40 C22.83,80.40 28.50,80.13 32.00,80.40 C35.50,80.67 38.50,81.47 42.00,82.00 C45.50,82.53 49.28,83.60 53.00,83.60 C56.72,83.60 61.08,82.80 64.30,82.00 C67.52,81.20 70.97,79.33 72.30,78.80" fill="none" stroke="#0000ff" stroke-width="0.60" stroke-opacity="0.80" stroke-linecap="round" stroke-dasharray="1.2 1.3"/>
<path d="M29.00,90.00 C31.17,90.27 38.25,90.77 42.00,91.60 C45.75,92.43 49.92,94.43 51.50,95.00" fill="none" stroke="#ff0000" stroke-width="0.60" stroke-opacity="0.80" stroke-linecap="round" stroke-dasharray="1.2 1.3"/>
</g>
<use href="#ole" fill="none" stroke="#fff" stroke-opacity="0.7" stroke-width="2.8"/>
<use href="#ole" fill="none" stroke="#000" stroke-width="1.8"/>
<rect x="0" y="0" width="100.00" height="107.35" fill="none" stroke="#3a3a3a" stroke-width="1.1"/>
</g>
<line x1="55.9" y1="128.70" x2="59.5" y2="128.70" stroke="#000" stroke-width="1.1"/>
<text x="51.2" y="133.80" font-size="13.6" text-anchor="end" fill="#000" textLength="7.95" lengthAdjust="spacingAndGlyphs">0</text>
<line x1="55.9" y1="102.19" x2="59.5" y2="102.19" stroke="#000" stroke-width="1.1"/>
<text x="51.2" y="107.29" font-size="13.6" text-anchor="end" fill="#000" textLength="23.85" lengthAdjust="spacingAndGlyphs">500</text>
<line x1="55.9" y1="75.67" x2="59.5" y2="75.67" stroke="#000" stroke-width="1.1"/>
<text x="51.2" y="80.77" font-size="13.6" text-anchor="end" fill="#000" textLength="31.80" lengthAdjust="spacingAndGlyphs">1000</text>
<line x1="55.9" y1="49.16" x2="59.5" y2="49.16" stroke="#000" stroke-width="1.1"/>
<text x="51.2" y="54.26" font-size="13.6" text-anchor="end" fill="#000" textLength="31.80" lengthAdjust="spacingAndGlyphs">1500</text>
<line x1="55.9" y1="22.65" x2="59.5" y2="22.65" stroke="#000" stroke-width="1.1"/>
<text x="51.2" y="27.75" font-size="13.6" text-anchor="end" fill="#000" textLength="31.80" lengthAdjust="spacingAndGlyphs">2000</text>
<text x="0" y="24.05" font-size="21" font-weight="bold" fill="#000" transform="translate(-0.6,-0.4) scale(1.08,1)">a</text>
<line x1="55.9" y1="245.77" x2="59.5" y2="245.77" stroke="#000" stroke-width="1.1"/>
<text x="51.2" y="250.87" font-size="13.6" text-anchor="end" fill="#000" textLength="7.95" lengthAdjust="spacingAndGlyphs">0</text>
<line x1="55.9" y1="219.26" x2="59.5" y2="219.26" stroke="#000" stroke-width="1.1"/>
<text x="51.2" y="224.36" font-size="13.6" text-anchor="end" fill="#000" textLength="23.85" lengthAdjust="spacingAndGlyphs">500</text>
<line x1="55.9" y1="192.74" x2="59.5" y2="192.74" stroke="#000" stroke-width="1.1"/>
<text x="51.2" y="197.84" font-size="13.6" text-anchor="end" fill="#000" textLength="31.80" lengthAdjust="spacingAndGlyphs">1000</text>
<line x1="55.9" y1="166.23" x2="59.5" y2="166.23" stroke="#000" stroke-width="1.1"/>
<text x="51.2" y="171.33" font-size="13.6" text-anchor="end" fill="#000" textLength="31.80" lengthAdjust="spacingAndGlyphs">1500</text>
<line x1="55.9" y1="139.72" x2="59.5" y2="139.72" stroke="#000" stroke-width="1.1"/>
<text x="51.2" y="144.82" font-size="13.6" text-anchor="end" fill="#000" textLength="31.80" lengthAdjust="spacingAndGlyphs">2000</text>
<text x="0" y="141.12" font-size="21" font-weight="bold" fill="#000" transform="translate(-0.6,-0.4) scale(1.08,1)">b</text>
<line x1="55.9" y1="362.84" x2="59.5" y2="362.84" stroke="#000" stroke-width="1.1"/>
<text x="51.2" y="367.94" font-size="13.6" text-anchor="end" fill="#000" textLength="7.95" lengthAdjust="spacingAndGlyphs">0</text>
<line x1="55.9" y1="336.33" x2="59.5" y2="336.33" stroke="#000" stroke-width="1.1"/>
<text x="51.2" y="341.43" font-size="13.6" text-anchor="end" fill="#000" textLength="23.85" lengthAdjust="spacingAndGlyphs">500</text>
<line x1="55.9" y1="309.81" x2="59.5" y2="309.81" stroke="#000" stroke-width="1.1"/>
<text x="51.2" y="314.92" font-size="13.6" text-anchor="end" fill="#000" textLength="31.80" lengthAdjust="spacingAndGlyphs">1000</text>
<line x1="55.9" y1="283.30" x2="59.5" y2="283.30" stroke="#000" stroke-width="1.1"/>
<text x="51.2" y="288.40" font-size="13.6" text-anchor="end" fill="#000" textLength="31.80" lengthAdjust="spacingAndGlyphs">1500</text>
<line x1="55.9" y1="256.79" x2="59.5" y2="256.79" stroke="#000" stroke-width="1.1"/>
<text x="51.2" y="261.89" font-size="13.6" text-anchor="end" fill="#000" textLength="31.80" lengthAdjust="spacingAndGlyphs">2000</text>
<text x="0" y="258.19" font-size="21" font-weight="bold" fill="#000" transform="translate(-0.6,-0.4) scale(1.08,1)">c</text>
<line x1="55.9" y1="479.91" x2="59.5" y2="479.91" stroke="#000" stroke-width="1.1"/>
<text x="51.2" y="485.01" font-size="13.6" text-anchor="end" fill="#000" textLength="7.95" lengthAdjust="spacingAndGlyphs">0</text>
<line x1="55.9" y1="453.40" x2="59.5" y2="453.40" stroke="#000" stroke-width="1.1"/>
<text x="51.2" y="458.50" font-size="13.6" text-anchor="end" fill="#000" textLength="23.85" lengthAdjust="spacingAndGlyphs">500</text>
<line x1="55.9" y1="426.88" x2="59.5" y2="426.88" stroke="#000" stroke-width="1.1"/>
<text x="51.2" y="431.99" font-size="13.6" text-anchor="end" fill="#000" textLength="31.80" lengthAdjust="spacingAndGlyphs">1000</text>
<line x1="55.9" y1="400.37" x2="59.5" y2="400.37" stroke="#000" stroke-width="1.1"/>
<text x="51.2" y="405.47" font-size="13.6" text-anchor="end" fill="#000" textLength="31.80" lengthAdjust="spacingAndGlyphs">1500</text>
<line x1="55.9" y1="373.86" x2="59.5" y2="373.86" stroke="#000" stroke-width="1.1"/>
<text x="51.2" y="378.96" font-size="13.6" text-anchor="end" fill="#000" textLength="31.80" lengthAdjust="spacingAndGlyphs">2000</text>
<text x="0" y="375.26" font-size="21" font-weight="bold" fill="#000" transform="translate(-0.6,-0.4) scale(1.08,1)">d</text>
<line x1="55.9" y1="596.98" x2="59.5" y2="596.98" stroke="#000" stroke-width="1.1"/>
<text x="51.2" y="602.08" font-size="13.6" text-anchor="end" fill="#000" textLength="7.95" lengthAdjust="spacingAndGlyphs">0</text>
<line x1="55.9" y1="570.47" x2="59.5" y2="570.47" stroke="#000" stroke-width="1.1"/>
<text x="51.2" y="575.57" font-size="13.6" text-anchor="end" fill="#000" textLength="23.85" lengthAdjust="spacingAndGlyphs">500</text>
<line x1="55.9" y1="543.96" x2="59.5" y2="543.96" stroke="#000" stroke-width="1.1"/>
<text x="51.2" y="549.06" font-size="13.6" text-anchor="end" fill="#000" textLength="31.80" lengthAdjust="spacingAndGlyphs">1000</text>
<line x1="55.9" y1="517.44" x2="59.5" y2="517.44" stroke="#000" stroke-width="1.1"/>
<text x="51.2" y="522.54" font-size="13.6" text-anchor="end" fill="#000" textLength="31.80" lengthAdjust="spacingAndGlyphs">1500</text>
<line x1="55.9" y1="490.93" x2="59.5" y2="490.93" stroke="#000" stroke-width="1.1"/>
<text x="51.2" y="496.03" font-size="13.6" text-anchor="end" fill="#000" textLength="31.80" lengthAdjust="spacingAndGlyphs">2000</text>
<text x="0" y="492.33" font-size="21" font-weight="bold" fill="#000" transform="translate(-0.6,-0.4) scale(1.08,1)">e</text>
<line x1="59.50" y1="596.98" x2="59.50" y2="600.58" stroke="#000" stroke-width="1.1"/>
<text font-size="13.6" text-anchor="middle" fill="#000" transform="translate(58.60,611.75) rotate(-45)" y="4.6" textLength="7.95" lengthAdjust="spacingAndGlyphs">0</text>
<line x1="92.50" y1="596.98" x2="92.50" y2="600.58" stroke="#000" stroke-width="1.1"/>
<text font-size="13.6" text-anchor="middle" fill="#000" transform="translate(91.60,617.35) rotate(-45)" y="4.6" textLength="23.85" lengthAdjust="spacingAndGlyphs">500</text>
<line x1="125.50" y1="596.98" x2="125.50" y2="600.58" stroke="#000" stroke-width="1.1"/>
<text font-size="13.6" text-anchor="middle" fill="#000" transform="translate(124.60,620.00) rotate(-45)" y="4.6" textLength="31.80" lengthAdjust="spacingAndGlyphs">1000</text>
<line x1="164.45" y1="596.98" x2="164.45" y2="600.58" stroke="#000" stroke-width="1.1"/>
<text font-size="13.6" text-anchor="middle" fill="#000" transform="translate(163.55,611.75) rotate(-45)" y="4.6" textLength="7.95" lengthAdjust="spacingAndGlyphs">0</text>
<line x1="197.45" y1="596.98" x2="197.45" y2="600.58" stroke="#000" stroke-width="1.1"/>
<text font-size="13.6" text-anchor="middle" fill="#000" transform="translate(196.55,617.35) rotate(-45)" y="4.6" textLength="23.85" lengthAdjust="spacingAndGlyphs">500</text>
<line x1="230.45" y1="596.98" x2="230.45" y2="600.58" stroke="#000" stroke-width="1.1"/>
<text font-size="13.6" text-anchor="middle" fill="#000" transform="translate(229.55,620.00) rotate(-45)" y="4.6" textLength="31.80" lengthAdjust="spacingAndGlyphs">1000</text>
<line x1="269.40" y1="596.98" x2="269.40" y2="600.58" stroke="#000" stroke-width="1.1"/>
<text font-size="13.6" text-anchor="middle" fill="#000" transform="translate(268.50,611.75) rotate(-45)" y="4.6" textLength="7.95" lengthAdjust="spacingAndGlyphs">0</text>
<line x1="302.40" y1="596.98" x2="302.40" y2="600.58" stroke="#000" stroke-width="1.1"/>
<text font-size="13.6" text-anchor="middle" fill="#000" transform="translate(301.50,617.35) rotate(-45)" y="4.6" textLength="23.85" lengthAdjust="spacingAndGlyphs">500</text>
<line x1="335.40" y1="596.98" x2="335.40" y2="600.58" stroke="#000" stroke-width="1.1"/>
<text font-size="13.6" text-anchor="middle" fill="#000" transform="translate(334.50,620.00) rotate(-45)" y="4.6" textLength="31.80" lengthAdjust="spacingAndGlyphs">1000</text>
<line x1="374.35" y1="596.98" x2="374.35" y2="600.58" stroke="#000" stroke-width="1.1"/>
<text font-size="13.6" text-anchor="middle" fill="#000" transform="translate(373.45,611.75) rotate(-45)" y="4.6" textLength="7.95" lengthAdjust="spacingAndGlyphs">0</text>
<line x1="407.35" y1="596.98" x2="407.35" y2="600.58" stroke="#000" stroke-width="1.1"/>
<text font-size="13.6" text-anchor="middle" fill="#000" transform="translate(406.45,617.35) rotate(-45)" y="4.6" textLength="23.85" lengthAdjust="spacingAndGlyphs">500</text>
<line x1="440.35" y1="596.98" x2="440.35" y2="600.58" stroke="#000" stroke-width="1.1"/>
<text font-size="13.6" text-anchor="middle" fill="#000" transform="translate(439.45,620.00) rotate(-45)" y="4.6" textLength="31.80" lengthAdjust="spacingAndGlyphs">1000</text>
<line x1="479.30" y1="596.98" x2="479.30" y2="600.58" stroke="#000" stroke-width="1.1"/>
<text font-size="13.6" text-anchor="middle" fill="#000" transform="translate(478.40,611.75) rotate(-45)" y="4.6" textLength="7.95" lengthAdjust="spacingAndGlyphs">0</text>
<line x1="512.30" y1="596.98" x2="512.30" y2="600.58" stroke="#000" stroke-width="1.1"/>
<text font-size="13.6" text-anchor="middle" fill="#000" transform="translate(511.40,617.35) rotate(-45)" y="4.6" textLength="23.85" lengthAdjust="spacingAndGlyphs">500</text>
<line x1="545.30" y1="596.98" x2="545.30" y2="600.58" stroke="#000" stroke-width="1.1"/>
<text font-size="13.6" text-anchor="middle" fill="#000" transform="translate(544.40,620.00) rotate(-45)" y="4.6" textLength="31.80" lengthAdjust="spacingAndGlyphs">1000</text>
<line x1="584.25" y1="596.98" x2="584.25" y2="600.58" stroke="#000" stroke-width="1.1"/>
<text font-size="13.6" text-anchor="middle" fill="#000" transform="translate(583.35,611.75) rotate(-45)" y="4.6" textLength="7.95" lengthAdjust="spacingAndGlyphs">0</text>
<line x1="617.25" y1="596.98" x2="617.25" y2="600.58" stroke="#000" stroke-width="1.1"/>
<text font-size="13.6" text-anchor="middle" fill="#000" transform="translate(616.35,617.35) rotate(-45)" y="4.6" textLength="23.85" lengthAdjust="spacingAndGlyphs">500</text>
<line x1="650.25" y1="596.98" x2="650.25" y2="600.58" stroke="#000" stroke-width="1.1"/>
<text font-size="13.6" text-anchor="middle" fill="#000" transform="translate(649.35,620.00) rotate(-45)" y="4.6" textLength="31.80" lengthAdjust="spacingAndGlyphs">1000</text>
<text x="107.20" y="12.3" font-size="24.5" font-style="italic" fill="#000" text-anchor="middle" stroke="#000" stroke-width="0.2">&#949;<tspan font-size="16.5" dy="3.3" stroke-width="0.15">xx</tspan></text>
<text x="212.15" y="12.3" font-size="24.5" font-style="italic" fill="#000" text-anchor="middle" stroke="#000" stroke-width="0.2">&#949;<tspan font-size="16.5" dy="3.3" stroke-width="0.15">xy</tspan></text>
<text x="317.10" y="12.3" font-size="24.5" font-style="italic" fill="#000" text-anchor="middle" stroke="#000" stroke-width="0.2">&#949;<tspan font-size="16.5" dy="3.3" stroke-width="0.15">xz</tspan></text>
<text x="422.05" y="12.3" font-size="24.5" font-style="italic" fill="#000" text-anchor="middle" stroke="#000" stroke-width="0.2">&#949;<tspan font-size="16.5" dy="3.3" stroke-width="0.15">yy</tspan></text>
<text x="527.00" y="12.3" font-size="24.5" font-style="italic" fill="#000" text-anchor="middle" stroke="#000" stroke-width="0.2">&#949;<tspan font-size="16.5" dy="3.3" stroke-width="0.15">yz</tspan></text>
<text x="631.95" y="12.3" font-size="24.5" font-style="italic" fill="#000" text-anchor="middle" stroke="#000" stroke-width="0.2">&#949;<tspan font-size="16.5" dy="3.3" stroke-width="0.15">zz</tspan></text>
<rect x="170.4" y="642.3" width="416.9" height="9.9" fill="url(#cmap)" stroke="#000" stroke-width="0.9"/>
<line x1="170.40" y1="652.2" x2="170.40" y2="656.4" stroke="#000" stroke-width="1.0"/>
<text x="170.60" y="670.8" font-size="14.8" text-anchor="middle" fill="#000" textLength="44.43" lengthAdjust="spacingAndGlyphs">−0.10</text>
<line x1="274.62" y1="652.2" x2="274.62" y2="656.4" stroke="#000" stroke-width="1.0"/>
<text x="274.82" y="670.8" font-size="14.8" text-anchor="middle" fill="#000" textLength="44.43" lengthAdjust="spacingAndGlyphs">−0.05</text>
<line x1="378.85" y1="652.2" x2="378.85" y2="656.4" stroke="#000" stroke-width="1.0"/>
<text x="378.85" y="670.8" font-size="14.8" text-anchor="middle" fill="#000" textLength="32.28" lengthAdjust="spacingAndGlyphs">0.00</text>
<line x1="483.07" y1="652.2" x2="483.07" y2="656.4" stroke="#000" stroke-width="1.0"/>
<text x="483.07" y="670.8" font-size="14.8" text-anchor="middle" fill="#000" textLength="32.28" lengthAdjust="spacingAndGlyphs">0.05</text>
<line x1="587.30" y1="652.2" x2="587.30" y2="656.4" stroke="#000" stroke-width="1.0"/>
<text x="587.30" y="670.8" font-size="14.8" text-anchor="middle" fill="#000" textLength="32.28" lengthAdjust="spacingAndGlyphs">0.10</text>
<line x1="68" y1="658.5" x2="68" y2="643" stroke="#0000ff" stroke-width="1.6"/>
<path d="M68,639.6 L65.8,644.5 L70.2,644.5 Z" fill="#0000ff"/>
<line x1="68" y1="658.5" x2="84" y2="658.5" stroke="#008000" stroke-width="1.6"/>
<path d="M88.2,658.5 L83.4,656.3 L83.4,660.7 Z" fill="#008000"/>
<line x1="68" y1="658.5" x2="54" y2="652.6" stroke="#000" stroke-width="1.6"/>
<path d="M50.8,651.2 L55.6,650.6 L53.9,654.6 Z" fill="#000"/>
<circle cx="68" cy="658.5" r="2.2" fill="#ff0000"/>
<text x="63.6" y="634.8" font-size="13" font-style="italic" fill="#0000ff">z</text>
<text x="86.2" y="654.8" font-size="13" font-style="italic" fill="#008000">y</text>
<text x="44.6" y="648.8" font-size="13" font-style="italic" fill="#000">c</text>
</svg></body></html>
